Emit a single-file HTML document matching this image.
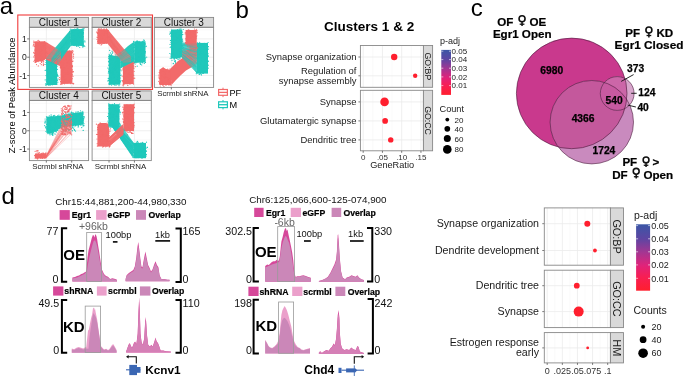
<!DOCTYPE html>
<html><head><meta charset="utf-8"><style>
html,body{margin:0;padding:0;background:#fff;}
svg{display:block;will-change:transform;font-family:"Liberation Sans", sans-serif;}
</style></head><body>
<svg width="685" height="379" viewBox="0 0 685 379">
<rect x="0" y="0" width="685" height="379" fill="#fff"/>
<text x="-0.30" y="13.90" font-size="24" text-anchor="start" font-weight="normal" fill="#000" >a</text>
<rect x="29.40" y="27.30" width="59.20" height="60.10" fill="#fff" stroke="none" stroke-width="1" />
<line x1="29.40" y1="84.65" x2="88.60" y2="84.65" stroke="#F3F3F3" stroke-width="0.5" />
<line x1="29.40" y1="66.35" x2="88.60" y2="66.35" stroke="#F3F3F3" stroke-width="0.5" />
<line x1="29.40" y1="48.05" x2="88.60" y2="48.05" stroke="#F3F3F3" stroke-width="0.5" />
<line x1="29.40" y1="29.75" x2="88.60" y2="29.75" stroke="#F3F3F3" stroke-width="0.5" />
<line x1="29.40" y1="75.50" x2="88.60" y2="75.50" stroke="#EBEBEB" stroke-width="0.8" />
<line x1="29.40" y1="57.20" x2="88.60" y2="57.20" stroke="#EBEBEB" stroke-width="0.8" />
<line x1="29.40" y1="38.90" x2="88.60" y2="38.90" stroke="#EBEBEB" stroke-width="0.8" />
<line x1="46.33" y1="27.30" x2="46.33" y2="87.40" stroke="#EBEBEB" stroke-width="0.8" />
<line x1="71.73" y1="27.30" x2="71.73" y2="87.40" stroke="#EBEBEB" stroke-width="0.8" />
<rect x="92.10" y="27.30" width="59.20" height="60.10" fill="#fff" stroke="none" stroke-width="1" />
<line x1="92.10" y1="84.65" x2="151.30" y2="84.65" stroke="#F3F3F3" stroke-width="0.5" />
<line x1="92.10" y1="66.35" x2="151.30" y2="66.35" stroke="#F3F3F3" stroke-width="0.5" />
<line x1="92.10" y1="48.05" x2="151.30" y2="48.05" stroke="#F3F3F3" stroke-width="0.5" />
<line x1="92.10" y1="29.75" x2="151.30" y2="29.75" stroke="#F3F3F3" stroke-width="0.5" />
<line x1="92.10" y1="75.50" x2="151.30" y2="75.50" stroke="#EBEBEB" stroke-width="0.8" />
<line x1="92.10" y1="57.20" x2="151.30" y2="57.20" stroke="#EBEBEB" stroke-width="0.8" />
<line x1="92.10" y1="38.90" x2="151.30" y2="38.90" stroke="#EBEBEB" stroke-width="0.8" />
<line x1="109.03" y1="27.30" x2="109.03" y2="87.40" stroke="#EBEBEB" stroke-width="0.8" />
<line x1="134.43" y1="27.30" x2="134.43" y2="87.40" stroke="#EBEBEB" stroke-width="0.8" />
<rect x="154.40" y="27.30" width="59.20" height="60.10" fill="#fff" stroke="none" stroke-width="1" />
<line x1="154.40" y1="84.65" x2="213.60" y2="84.65" stroke="#F3F3F3" stroke-width="0.5" />
<line x1="154.40" y1="66.35" x2="213.60" y2="66.35" stroke="#F3F3F3" stroke-width="0.5" />
<line x1="154.40" y1="48.05" x2="213.60" y2="48.05" stroke="#F3F3F3" stroke-width="0.5" />
<line x1="154.40" y1="29.75" x2="213.60" y2="29.75" stroke="#F3F3F3" stroke-width="0.5" />
<line x1="154.40" y1="75.50" x2="213.60" y2="75.50" stroke="#EBEBEB" stroke-width="0.8" />
<line x1="154.40" y1="57.20" x2="213.60" y2="57.20" stroke="#EBEBEB" stroke-width="0.8" />
<line x1="154.40" y1="38.90" x2="213.60" y2="38.90" stroke="#EBEBEB" stroke-width="0.8" />
<line x1="171.33" y1="27.30" x2="171.33" y2="87.40" stroke="#EBEBEB" stroke-width="0.8" />
<line x1="196.73" y1="27.30" x2="196.73" y2="87.40" stroke="#EBEBEB" stroke-width="0.8" />
<rect x="29.40" y="100.40" width="59.20" height="60.20" fill="#fff" stroke="none" stroke-width="1" />
<line x1="29.40" y1="158.20" x2="88.60" y2="158.20" stroke="#F3F3F3" stroke-width="0.5" />
<line x1="29.40" y1="139.90" x2="88.60" y2="139.90" stroke="#F3F3F3" stroke-width="0.5" />
<line x1="29.40" y1="121.60" x2="88.60" y2="121.60" stroke="#F3F3F3" stroke-width="0.5" />
<line x1="29.40" y1="103.30" x2="88.60" y2="103.30" stroke="#F3F3F3" stroke-width="0.5" />
<line x1="29.40" y1="149.05" x2="88.60" y2="149.05" stroke="#EBEBEB" stroke-width="0.8" />
<line x1="29.40" y1="130.75" x2="88.60" y2="130.75" stroke="#EBEBEB" stroke-width="0.8" />
<line x1="29.40" y1="112.45" x2="88.60" y2="112.45" stroke="#EBEBEB" stroke-width="0.8" />
<line x1="46.33" y1="100.40" x2="46.33" y2="160.60" stroke="#EBEBEB" stroke-width="0.8" />
<line x1="71.73" y1="100.40" x2="71.73" y2="160.60" stroke="#EBEBEB" stroke-width="0.8" />
<rect x="92.10" y="100.40" width="59.20" height="60.20" fill="#fff" stroke="none" stroke-width="1" />
<line x1="92.10" y1="158.20" x2="151.30" y2="158.20" stroke="#F3F3F3" stroke-width="0.5" />
<line x1="92.10" y1="139.90" x2="151.30" y2="139.90" stroke="#F3F3F3" stroke-width="0.5" />
<line x1="92.10" y1="121.60" x2="151.30" y2="121.60" stroke="#F3F3F3" stroke-width="0.5" />
<line x1="92.10" y1="103.30" x2="151.30" y2="103.30" stroke="#F3F3F3" stroke-width="0.5" />
<line x1="92.10" y1="149.05" x2="151.30" y2="149.05" stroke="#EBEBEB" stroke-width="0.8" />
<line x1="92.10" y1="130.75" x2="151.30" y2="130.75" stroke="#EBEBEB" stroke-width="0.8" />
<line x1="92.10" y1="112.45" x2="151.30" y2="112.45" stroke="#EBEBEB" stroke-width="0.8" />
<line x1="109.03" y1="100.40" x2="109.03" y2="160.60" stroke="#EBEBEB" stroke-width="0.8" />
<line x1="134.43" y1="100.40" x2="134.43" y2="160.60" stroke="#EBEBEB" stroke-width="0.8" />
<polygon points="34.60,41.60 44.80,41.20 46.20,43.00 46.20,58.50 44.00,60.50 42.00,61.50 38.80,61.20 36.50,62.50 34.90,63.20 34.50,58.00" fill="#F26A6A" />
<g fill="#F26A6A"><circle cx="37.7" cy="43.4" r="0.6"/><circle cx="34.0" cy="53.1" r="0.6"/><circle cx="33.8" cy="52.4" r="0.6"/><circle cx="39.4" cy="41.4" r="0.6"/><circle cx="39.2" cy="60.4" r="0.6"/><circle cx="36.2" cy="55.4" r="0.6"/><circle cx="41.5" cy="49.6" r="0.6"/><circle cx="35.0" cy="42.6" r="0.6"/><circle cx="45.1" cy="44.2" r="0.6"/><circle cx="42.4" cy="49.0" r="0.6"/><circle cx="33.8" cy="41.1" r="0.6"/><circle cx="43.0" cy="50.4" r="0.6"/><circle cx="41.6" cy="51.0" r="0.6"/><circle cx="44.7" cy="57.2" r="0.6"/><circle cx="41.5" cy="52.8" r="0.6"/><circle cx="43.8" cy="46.9" r="0.6"/><circle cx="34.7" cy="50.1" r="0.6"/><circle cx="35.2" cy="51.9" r="0.6"/><circle cx="42.9" cy="58.9" r="0.6"/><circle cx="45.9" cy="47.5" r="0.6"/><circle cx="41.8" cy="54.2" r="0.6"/><circle cx="40.0" cy="56.3" r="0.6"/><circle cx="43.4" cy="55.9" r="0.6"/><circle cx="45.1" cy="46.8" r="0.6"/><circle cx="35.4" cy="42.6" r="0.6"/><circle cx="44.3" cy="42.9" r="0.6"/><circle cx="38.7" cy="61.6" r="0.6"/><circle cx="39.6" cy="53.4" r="0.6"/><circle cx="39.1" cy="48.6" r="0.6"/><circle cx="47.2" cy="43.4" r="0.6"/><circle cx="36.4" cy="45.5" r="0.6"/><circle cx="41.7" cy="46.2" r="0.6"/><circle cx="39.1" cy="48.9" r="0.6"/><circle cx="42.1" cy="56.6" r="0.6"/><circle cx="44.8" cy="49.5" r="0.6"/><circle cx="34.4" cy="55.6" r="0.6"/><circle cx="33.9" cy="44.9" r="0.6"/><circle cx="38.0" cy="40.9" r="0.6"/><circle cx="35.2" cy="42.2" r="0.6"/><circle cx="35.1" cy="46.0" r="0.6"/><circle cx="38.3" cy="42.7" r="0.6"/><circle cx="34.2" cy="42.2" r="0.6"/><circle cx="36.8" cy="60.5" r="0.6"/><circle cx="40.8" cy="43.3" r="0.6"/><circle cx="45.8" cy="57.1" r="0.6"/><circle cx="38.4" cy="43.8" r="0.6"/><circle cx="40.8" cy="59.2" r="0.6"/><circle cx="36.2" cy="60.1" r="0.6"/><circle cx="43.9" cy="45.3" r="0.6"/><circle cx="38.2" cy="40.3" r="0.6"/><circle cx="37.1" cy="46.1" r="0.6"/><circle cx="38.3" cy="45.2" r="0.6"/><circle cx="35.8" cy="44.8" r="0.6"/><circle cx="40.0" cy="56.1" r="0.6"/><circle cx="44.6" cy="58.5" r="0.6"/><circle cx="35.6" cy="59.5" r="0.6"/><circle cx="38.8" cy="49.7" r="0.6"/><circle cx="43.7" cy="43.9" r="0.6"/><circle cx="35.2" cy="62.4" r="0.6"/><circle cx="35.1" cy="60.4" r="0.6"/><circle cx="42.7" cy="48.4" r="0.6"/><circle cx="45.2" cy="44.9" r="0.6"/><circle cx="37.3" cy="45.7" r="0.6"/><circle cx="36.8" cy="50.2" r="0.6"/><circle cx="46.5" cy="48.5" r="0.6"/><circle cx="41.6" cy="62.4" r="0.6"/><circle cx="46.6" cy="52.2" r="0.6"/><circle cx="44.8" cy="43.9" r="0.6"/><circle cx="43.7" cy="53.6" r="0.6"/><circle cx="40.6" cy="53.6" r="0.6"/><circle cx="34.5" cy="53.7" r="0.6"/><circle cx="37.0" cy="59.1" r="0.6"/><circle cx="41.3" cy="58.8" r="0.6"/><circle cx="39.5" cy="55.0" r="0.6"/><circle cx="40.5" cy="57.1" r="0.6"/><circle cx="40.8" cy="51.6" r="0.6"/><circle cx="36.8" cy="53.7" r="0.6"/><circle cx="45.4" cy="43.1" r="0.6"/><circle cx="39.5" cy="41.4" r="0.6"/><circle cx="46.3" cy="43.5" r="0.6"/><circle cx="42.7" cy="43.2" r="0.6"/><circle cx="38.8" cy="51.9" r="0.6"/><circle cx="45.3" cy="43.7" r="0.6"/><circle cx="40.6" cy="48.1" r="0.6"/><circle cx="37.6" cy="57.8" r="0.6"/><circle cx="41.2" cy="50.7" r="0.6"/><circle cx="37.8" cy="55.3" r="0.6"/><circle cx="34.5" cy="46.3" r="0.6"/><circle cx="44.5" cy="46.4" r="0.6"/><circle cx="36.8" cy="43.4" r="0.6"/><circle cx="41.4" cy="57.3" r="0.6"/><circle cx="33.8" cy="56.9" r="0.6"/><circle cx="44.8" cy="41.7" r="0.6"/><circle cx="33.9" cy="61.3" r="0.6"/><circle cx="38.0" cy="53.5" r="0.6"/><circle cx="36.9" cy="42.9" r="0.6"/><circle cx="36.5" cy="42.4" r="0.6"/><circle cx="33.7" cy="44.7" r="0.6"/><circle cx="37.4" cy="58.7" r="0.6"/><circle cx="40.4" cy="44.1" r="0.6"/><circle cx="33.2" cy="45.9" r="0.6"/><circle cx="43.8" cy="53.5" r="0.6"/><circle cx="34.5" cy="60.2" r="0.6"/><circle cx="40.3" cy="60.6" r="0.6"/><circle cx="40.4" cy="56.9" r="0.6"/><circle cx="38.0" cy="60.6" r="0.6"/><circle cx="42.4" cy="49.8" r="0.6"/><circle cx="33.7" cy="42.9" r="0.6"/><circle cx="43.9" cy="46.0" r="0.6"/><circle cx="42.9" cy="46.7" r="0.6"/><circle cx="37.3" cy="51.2" r="0.6"/><circle cx="39.5" cy="46.2" r="0.6"/><circle cx="47.4" cy="53.4" r="0.6"/><circle cx="40.0" cy="52.3" r="0.6"/><circle cx="36.8" cy="41.9" r="0.6"/><circle cx="37.4" cy="45.5" r="0.6"/><circle cx="40.8" cy="58.5" r="0.6"/><circle cx="43.6" cy="61.8" r="0.6"/></g>
<g fill="#F26A6A" opacity="1.0"><circle cx="38.3" cy="65.9" r="0.6"/><circle cx="36.5" cy="64.6" r="0.6"/><circle cx="41.4" cy="61.2" r="0.6"/><circle cx="43.4" cy="65.5" r="0.6"/><circle cx="41.3" cy="64.7" r="0.6"/><circle cx="43.1" cy="61.7" r="0.6"/><circle cx="40.2" cy="63.5" r="0.6"/><circle cx="43.3" cy="65.0" r="0.6"/><circle cx="43.3" cy="63.9" r="0.6"/><circle cx="43.9" cy="64.4" r="0.6"/></g>
<polygon points="60.40,50.80 72.20,50.60 72.40,83.80 60.60,84.00" fill="#F26A6A" />
<g fill="#F26A6A"><circle cx="69.3" cy="57.4" r="0.6"/><circle cx="60.8" cy="62.2" r="0.6"/><circle cx="71.5" cy="69.4" r="0.6"/><circle cx="68.3" cy="73.9" r="0.6"/><circle cx="70.2" cy="67.4" r="0.6"/><circle cx="68.8" cy="51.4" r="0.6"/><circle cx="62.6" cy="51.7" r="0.6"/><circle cx="69.9" cy="56.5" r="0.6"/><circle cx="66.1" cy="74.0" r="0.6"/><circle cx="68.2" cy="72.5" r="0.6"/><circle cx="61.0" cy="58.3" r="0.6"/><circle cx="63.4" cy="69.8" r="0.6"/><circle cx="69.3" cy="73.7" r="0.6"/><circle cx="66.7" cy="66.0" r="0.6"/><circle cx="60.6" cy="81.7" r="0.6"/><circle cx="73.7" cy="83.3" r="0.6"/><circle cx="65.8" cy="79.0" r="0.6"/><circle cx="65.6" cy="58.8" r="0.6"/><circle cx="61.0" cy="68.2" r="0.6"/><circle cx="60.8" cy="79.0" r="0.6"/><circle cx="72.3" cy="74.7" r="0.6"/><circle cx="72.4" cy="66.8" r="0.6"/><circle cx="65.7" cy="60.1" r="0.6"/><circle cx="64.0" cy="60.6" r="0.6"/><circle cx="71.6" cy="53.4" r="0.6"/><circle cx="69.6" cy="82.0" r="0.6"/><circle cx="64.5" cy="63.4" r="0.6"/><circle cx="67.8" cy="62.2" r="0.6"/><circle cx="63.0" cy="50.8" r="0.6"/><circle cx="71.5" cy="59.5" r="0.6"/><circle cx="62.6" cy="58.7" r="0.6"/><circle cx="61.7" cy="62.7" r="0.6"/><circle cx="72.2" cy="78.7" r="0.6"/><circle cx="72.7" cy="83.4" r="0.6"/><circle cx="69.7" cy="50.8" r="0.6"/><circle cx="65.7" cy="76.5" r="0.6"/><circle cx="63.2" cy="50.8" r="0.6"/><circle cx="60.7" cy="66.3" r="0.6"/><circle cx="63.3" cy="76.0" r="0.6"/><circle cx="62.8" cy="73.0" r="0.6"/><circle cx="67.3" cy="63.4" r="0.6"/><circle cx="61.3" cy="56.6" r="0.6"/><circle cx="66.4" cy="57.1" r="0.6"/><circle cx="60.9" cy="56.0" r="0.6"/><circle cx="64.0" cy="52.3" r="0.6"/><circle cx="62.7" cy="69.8" r="0.6"/><circle cx="70.2" cy="64.1" r="0.6"/><circle cx="66.8" cy="62.8" r="0.6"/><circle cx="60.7" cy="67.4" r="0.6"/><circle cx="71.9" cy="56.9" r="0.6"/><circle cx="62.6" cy="63.6" r="0.6"/><circle cx="72.4" cy="66.3" r="0.6"/><circle cx="73.6" cy="58.1" r="0.6"/><circle cx="61.1" cy="68.1" r="0.6"/><circle cx="70.4" cy="65.7" r="0.6"/><circle cx="59.4" cy="77.6" r="0.6"/><circle cx="72.8" cy="72.6" r="0.6"/><circle cx="60.7" cy="58.2" r="0.6"/><circle cx="69.4" cy="53.1" r="0.6"/><circle cx="66.8" cy="70.3" r="0.6"/><circle cx="62.2" cy="71.0" r="0.6"/><circle cx="63.4" cy="65.9" r="0.6"/><circle cx="68.6" cy="81.3" r="0.6"/><circle cx="62.4" cy="58.0" r="0.6"/><circle cx="69.5" cy="60.3" r="0.6"/><circle cx="66.4" cy="73.7" r="0.6"/><circle cx="62.7" cy="73.4" r="0.6"/><circle cx="62.2" cy="50.2" r="0.6"/><circle cx="65.2" cy="74.0" r="0.6"/><circle cx="70.9" cy="76.1" r="0.6"/><circle cx="61.9" cy="84.5" r="0.6"/><circle cx="71.3" cy="57.4" r="0.6"/><circle cx="70.4" cy="59.8" r="0.6"/><circle cx="66.3" cy="55.9" r="0.6"/><circle cx="65.1" cy="73.3" r="0.6"/><circle cx="61.0" cy="63.4" r="0.6"/><circle cx="73.6" cy="54.2" r="0.6"/><circle cx="72.2" cy="75.8" r="0.6"/><circle cx="73.0" cy="61.1" r="0.6"/><circle cx="73.0" cy="76.3" r="0.6"/><circle cx="68.9" cy="62.9" r="0.6"/><circle cx="63.8" cy="55.2" r="0.6"/><circle cx="63.1" cy="61.9" r="0.6"/><circle cx="60.7" cy="84.3" r="0.6"/><circle cx="64.2" cy="79.1" r="0.6"/><circle cx="65.4" cy="50.8" r="0.6"/><circle cx="64.5" cy="82.7" r="0.6"/><circle cx="64.3" cy="81.8" r="0.6"/><circle cx="65.0" cy="78.7" r="0.6"/><circle cx="59.4" cy="50.3" r="0.6"/><circle cx="72.5" cy="61.4" r="0.6"/><circle cx="73.4" cy="71.6" r="0.6"/><circle cx="69.7" cy="60.6" r="0.6"/><circle cx="73.3" cy="83.9" r="0.6"/><circle cx="62.6" cy="64.7" r="0.6"/><circle cx="70.0" cy="79.1" r="0.6"/><circle cx="68.0" cy="61.0" r="0.6"/><circle cx="64.3" cy="77.6" r="0.6"/><circle cx="61.8" cy="76.6" r="0.6"/><circle cx="60.3" cy="67.2" r="0.6"/><circle cx="65.6" cy="57.6" r="0.6"/><circle cx="68.2" cy="73.7" r="0.6"/><circle cx="71.7" cy="73.3" r="0.6"/><circle cx="71.6" cy="59.8" r="0.6"/><circle cx="64.5" cy="76.0" r="0.6"/><circle cx="62.6" cy="58.0" r="0.6"/><circle cx="72.2" cy="70.2" r="0.6"/><circle cx="62.3" cy="78.6" r="0.6"/><circle cx="66.0" cy="79.0" r="0.6"/><circle cx="72.7" cy="50.5" r="0.6"/><circle cx="60.6" cy="55.9" r="0.6"/><circle cx="67.7" cy="83.0" r="0.6"/><circle cx="72.0" cy="65.4" r="0.6"/><circle cx="70.6" cy="83.6" r="0.6"/><circle cx="67.9" cy="71.7" r="0.6"/><circle cx="64.4" cy="54.2" r="0.6"/><circle cx="62.7" cy="70.9" r="0.6"/><circle cx="69.1" cy="55.8" r="0.6"/><circle cx="61.9" cy="78.1" r="0.6"/><circle cx="59.8" cy="52.7" r="0.6"/><circle cx="67.2" cy="72.4" r="0.6"/><circle cx="61.3" cy="74.5" r="0.6"/><circle cx="63.1" cy="60.3" r="0.6"/><circle cx="63.5" cy="69.7" r="0.6"/><circle cx="65.1" cy="80.6" r="0.6"/><circle cx="64.3" cy="56.2" r="0.6"/><circle cx="65.2" cy="79.0" r="0.6"/><circle cx="72.2" cy="65.9" r="0.6"/><circle cx="72.6" cy="52.3" r="0.6"/><circle cx="64.4" cy="67.5" r="0.6"/><circle cx="63.1" cy="68.1" r="0.6"/><circle cx="60.5" cy="67.0" r="0.6"/><circle cx="73.5" cy="56.2" r="0.6"/><circle cx="72.5" cy="71.7" r="0.6"/><circle cx="61.2" cy="77.8" r="0.6"/><circle cx="64.9" cy="80.0" r="0.6"/><circle cx="61.6" cy="57.0" r="0.6"/><circle cx="66.7" cy="63.0" r="0.6"/><circle cx="62.6" cy="75.5" r="0.6"/><circle cx="59.4" cy="79.7" r="0.6"/><circle cx="67.9" cy="69.1" r="0.6"/><circle cx="63.5" cy="64.4" r="0.6"/><circle cx="65.3" cy="73.1" r="0.6"/><circle cx="66.2" cy="57.6" r="0.6"/><circle cx="70.7" cy="65.8" r="0.6"/><circle cx="66.0" cy="52.9" r="0.6"/><circle cx="65.3" cy="52.4" r="0.6"/><circle cx="66.6" cy="50.5" r="0.6"/><circle cx="66.6" cy="51.0" r="0.6"/><circle cx="64.5" cy="83.8" r="0.6"/><circle cx="69.9" cy="78.8" r="0.6"/><circle cx="72.9" cy="51.4" r="0.6"/><circle cx="70.3" cy="54.8" r="0.6"/><circle cx="63.0" cy="78.9" r="0.6"/><circle cx="66.4" cy="82.7" r="0.6"/><circle cx="62.8" cy="67.5" r="0.6"/><circle cx="59.4" cy="55.7" r="0.6"/><circle cx="61.4" cy="77.7" r="0.6"/><circle cx="66.9" cy="72.3" r="0.6"/><circle cx="72.1" cy="69.3" r="0.6"/><circle cx="72.2" cy="52.8" r="0.6"/><circle cx="68.4" cy="63.4" r="0.6"/><circle cx="64.3" cy="77.0" r="0.6"/><circle cx="61.5" cy="76.2" r="0.6"/><circle cx="71.3" cy="58.3" r="0.6"/><circle cx="65.4" cy="67.8" r="0.6"/><circle cx="60.8" cy="57.3" r="0.6"/><circle cx="64.2" cy="52.9" r="0.6"/></g>
<polygon points="46.00,58.00 57.00,57.80 57.20,85.00 46.20,85.00" fill="#20C8BB" />
<g fill="#20C8BB"><circle cx="47.6" cy="73.9" r="0.6"/><circle cx="47.3" cy="75.2" r="0.6"/><circle cx="46.3" cy="84.7" r="0.6"/><circle cx="46.6" cy="59.1" r="0.6"/><circle cx="56.9" cy="80.0" r="0.6"/><circle cx="52.5" cy="66.9" r="0.6"/><circle cx="50.8" cy="84.7" r="0.6"/><circle cx="48.0" cy="83.7" r="0.6"/><circle cx="52.1" cy="68.5" r="0.6"/><circle cx="45.2" cy="79.9" r="0.6"/><circle cx="52.3" cy="84.8" r="0.6"/><circle cx="47.3" cy="74.7" r="0.6"/><circle cx="53.6" cy="80.9" r="0.6"/><circle cx="48.9" cy="65.3" r="0.6"/><circle cx="57.2" cy="80.0" r="0.6"/><circle cx="55.1" cy="70.3" r="0.6"/><circle cx="50.9" cy="63.1" r="0.6"/><circle cx="47.7" cy="57.4" r="0.6"/><circle cx="55.2" cy="77.3" r="0.6"/><circle cx="54.6" cy="64.3" r="0.6"/><circle cx="50.7" cy="80.2" r="0.6"/><circle cx="48.2" cy="75.7" r="0.6"/><circle cx="47.5" cy="83.0" r="0.6"/><circle cx="48.1" cy="63.4" r="0.6"/><circle cx="58.0" cy="78.9" r="0.6"/><circle cx="57.1" cy="66.2" r="0.6"/><circle cx="57.5" cy="75.4" r="0.6"/><circle cx="56.5" cy="77.4" r="0.6"/><circle cx="50.7" cy="78.2" r="0.6"/><circle cx="48.8" cy="62.6" r="0.6"/><circle cx="45.5" cy="83.9" r="0.6"/><circle cx="49.4" cy="60.5" r="0.6"/><circle cx="54.4" cy="78.6" r="0.6"/><circle cx="52.9" cy="67.2" r="0.6"/><circle cx="56.2" cy="83.3" r="0.6"/><circle cx="56.9" cy="84.0" r="0.6"/><circle cx="45.9" cy="62.5" r="0.6"/><circle cx="53.5" cy="81.3" r="0.6"/><circle cx="48.5" cy="59.2" r="0.6"/><circle cx="55.3" cy="62.4" r="0.6"/><circle cx="50.5" cy="56.8" r="0.6"/><circle cx="48.5" cy="78.0" r="0.6"/><circle cx="49.0" cy="85.5" r="0.6"/><circle cx="56.7" cy="75.0" r="0.6"/><circle cx="50.3" cy="69.5" r="0.6"/><circle cx="49.4" cy="77.6" r="0.6"/><circle cx="47.5" cy="82.4" r="0.6"/><circle cx="56.2" cy="61.4" r="0.6"/><circle cx="47.3" cy="79.4" r="0.6"/><circle cx="51.5" cy="80.4" r="0.6"/><circle cx="51.5" cy="66.8" r="0.6"/><circle cx="48.2" cy="84.9" r="0.6"/><circle cx="47.5" cy="77.5" r="0.6"/><circle cx="46.0" cy="75.6" r="0.6"/><circle cx="55.7" cy="77.4" r="0.6"/><circle cx="53.4" cy="67.0" r="0.6"/><circle cx="50.1" cy="83.3" r="0.6"/><circle cx="57.2" cy="57.0" r="0.6"/><circle cx="48.2" cy="83.6" r="0.6"/><circle cx="49.9" cy="83.1" r="0.6"/><circle cx="51.0" cy="72.4" r="0.6"/><circle cx="55.2" cy="75.8" r="0.6"/><circle cx="49.1" cy="60.9" r="0.6"/><circle cx="53.9" cy="78.8" r="0.6"/><circle cx="50.7" cy="79.7" r="0.6"/><circle cx="46.2" cy="70.2" r="0.6"/><circle cx="47.8" cy="62.0" r="0.6"/><circle cx="54.5" cy="81.8" r="0.6"/><circle cx="46.6" cy="63.7" r="0.6"/><circle cx="51.9" cy="61.1" r="0.6"/><circle cx="45.9" cy="85.5" r="0.6"/><circle cx="55.0" cy="69.4" r="0.6"/><circle cx="53.6" cy="59.4" r="0.6"/><circle cx="50.0" cy="57.2" r="0.6"/><circle cx="55.8" cy="77.3" r="0.6"/><circle cx="53.5" cy="70.3" r="0.6"/><circle cx="53.1" cy="68.5" r="0.6"/><circle cx="57.5" cy="69.3" r="0.6"/><circle cx="55.2" cy="69.0" r="0.6"/><circle cx="54.8" cy="83.0" r="0.6"/><circle cx="54.5" cy="82.1" r="0.6"/><circle cx="53.6" cy="70.0" r="0.6"/><circle cx="53.4" cy="59.2" r="0.6"/><circle cx="55.7" cy="77.9" r="0.6"/><circle cx="48.0" cy="69.1" r="0.6"/><circle cx="53.4" cy="68.6" r="0.6"/><circle cx="55.6" cy="68.0" r="0.6"/><circle cx="46.7" cy="80.0" r="0.6"/><circle cx="51.9" cy="59.3" r="0.6"/><circle cx="52.2" cy="78.0" r="0.6"/><circle cx="53.6" cy="81.4" r="0.6"/><circle cx="50.3" cy="85.0" r="0.6"/><circle cx="54.3" cy="68.1" r="0.6"/><circle cx="45.2" cy="64.5" r="0.6"/><circle cx="54.5" cy="66.9" r="0.6"/><circle cx="47.6" cy="78.7" r="0.6"/><circle cx="52.0" cy="62.9" r="0.6"/><circle cx="50.0" cy="62.6" r="0.6"/><circle cx="55.6" cy="80.8" r="0.6"/><circle cx="51.2" cy="73.3" r="0.6"/><circle cx="56.2" cy="81.0" r="0.6"/><circle cx="48.6" cy="72.9" r="0.6"/><circle cx="56.4" cy="67.0" r="0.6"/><circle cx="48.3" cy="67.6" r="0.6"/><circle cx="50.5" cy="61.9" r="0.6"/><circle cx="54.8" cy="64.7" r="0.6"/><circle cx="48.7" cy="70.8" r="0.6"/><circle cx="53.6" cy="76.2" r="0.6"/><circle cx="57.8" cy="82.2" r="0.6"/><circle cx="56.3" cy="83.7" r="0.6"/><circle cx="46.4" cy="81.5" r="0.6"/><circle cx="58.1" cy="76.1" r="0.6"/><circle cx="45.9" cy="60.5" r="0.6"/><circle cx="55.6" cy="66.7" r="0.6"/><circle cx="57.4" cy="80.3" r="0.6"/><circle cx="57.2" cy="74.7" r="0.6"/><circle cx="54.0" cy="83.4" r="0.6"/><circle cx="56.5" cy="62.2" r="0.6"/><circle cx="52.0" cy="78.8" r="0.6"/><circle cx="57.1" cy="73.1" r="0.6"/><circle cx="47.8" cy="60.4" r="0.6"/><circle cx="45.2" cy="70.4" r="0.6"/><circle cx="51.5" cy="71.3" r="0.6"/><circle cx="51.1" cy="73.3" r="0.6"/><circle cx="56.5" cy="67.6" r="0.6"/><circle cx="54.2" cy="84.5" r="0.6"/><circle cx="53.4" cy="66.5" r="0.6"/><circle cx="49.7" cy="70.6" r="0.6"/><circle cx="55.5" cy="62.6" r="0.6"/><circle cx="50.5" cy="73.0" r="0.6"/><circle cx="48.6" cy="81.4" r="0.6"/><circle cx="51.7" cy="64.5" r="0.6"/><circle cx="49.2" cy="65.8" r="0.6"/><circle cx="52.8" cy="75.5" r="0.6"/><circle cx="52.3" cy="57.7" r="0.6"/><circle cx="53.2" cy="76.2" r="0.6"/><circle cx="57.5" cy="74.8" r="0.6"/><circle cx="53.4" cy="77.4" r="0.6"/><circle cx="54.2" cy="62.7" r="0.6"/><circle cx="51.0" cy="79.4" r="0.6"/><circle cx="57.6" cy="76.1" r="0.6"/><circle cx="56.2" cy="80.1" r="0.6"/><circle cx="48.1" cy="65.4" r="0.6"/></g>
<polygon points="70.60,29.30 83.70,28.90 83.90,46.00 70.60,45.70" fill="#20C8BB" />
<g fill="#20C8BB"><circle cx="74.3" cy="36.0" r="0.6"/><circle cx="78.5" cy="45.9" r="0.6"/><circle cx="75.8" cy="29.4" r="0.6"/><circle cx="72.5" cy="30.4" r="0.6"/><circle cx="80.9" cy="32.2" r="0.6"/><circle cx="80.8" cy="44.7" r="0.6"/><circle cx="70.4" cy="40.1" r="0.6"/><circle cx="76.6" cy="46.2" r="0.6"/><circle cx="84.9" cy="41.9" r="0.6"/><circle cx="70.3" cy="33.6" r="0.6"/><circle cx="71.7" cy="44.8" r="0.6"/><circle cx="70.0" cy="34.8" r="0.6"/><circle cx="76.2" cy="41.0" r="0.6"/><circle cx="82.2" cy="34.7" r="0.6"/><circle cx="79.4" cy="35.8" r="0.6"/><circle cx="78.4" cy="33.2" r="0.6"/><circle cx="74.5" cy="39.6" r="0.6"/><circle cx="82.7" cy="39.5" r="0.6"/><circle cx="76.1" cy="45.3" r="0.6"/><circle cx="80.3" cy="39.5" r="0.6"/><circle cx="82.3" cy="33.1" r="0.6"/><circle cx="73.3" cy="35.9" r="0.6"/><circle cx="82.5" cy="45.3" r="0.6"/><circle cx="82.7" cy="43.8" r="0.6"/><circle cx="78.4" cy="32.9" r="0.6"/><circle cx="82.3" cy="41.2" r="0.6"/><circle cx="74.7" cy="29.0" r="0.6"/><circle cx="82.2" cy="31.4" r="0.6"/><circle cx="80.2" cy="36.7" r="0.6"/><circle cx="73.2" cy="42.5" r="0.6"/><circle cx="76.6" cy="29.1" r="0.6"/><circle cx="81.7" cy="32.0" r="0.6"/><circle cx="83.8" cy="45.3" r="0.6"/><circle cx="76.9" cy="39.3" r="0.6"/><circle cx="72.2" cy="31.0" r="0.6"/><circle cx="75.0" cy="38.8" r="0.6"/><circle cx="77.5" cy="30.3" r="0.6"/><circle cx="70.8" cy="40.1" r="0.6"/><circle cx="71.6" cy="39.4" r="0.6"/><circle cx="77.6" cy="27.7" r="0.6"/><circle cx="78.4" cy="32.6" r="0.6"/><circle cx="82.5" cy="46.9" r="0.6"/><circle cx="69.6" cy="31.4" r="0.6"/><circle cx="83.4" cy="36.6" r="0.6"/><circle cx="84.0" cy="28.6" r="0.6"/><circle cx="75.6" cy="29.7" r="0.6"/><circle cx="73.2" cy="38.8" r="0.6"/><circle cx="84.8" cy="40.9" r="0.6"/><circle cx="76.4" cy="30.5" r="0.6"/><circle cx="69.6" cy="32.5" r="0.6"/><circle cx="83.9" cy="45.7" r="0.6"/><circle cx="79.7" cy="47.3" r="0.6"/><circle cx="71.4" cy="42.6" r="0.6"/><circle cx="80.2" cy="33.4" r="0.6"/><circle cx="81.5" cy="29.4" r="0.6"/><circle cx="73.2" cy="29.8" r="0.6"/><circle cx="71.8" cy="32.1" r="0.6"/><circle cx="83.7" cy="30.1" r="0.6"/><circle cx="79.4" cy="36.5" r="0.6"/><circle cx="82.6" cy="37.0" r="0.6"/><circle cx="71.4" cy="31.8" r="0.6"/><circle cx="80.8" cy="38.5" r="0.6"/><circle cx="83.4" cy="32.7" r="0.6"/><circle cx="71.6" cy="32.8" r="0.6"/><circle cx="74.5" cy="30.7" r="0.6"/><circle cx="74.2" cy="45.6" r="0.6"/><circle cx="80.0" cy="31.6" r="0.6"/><circle cx="73.7" cy="32.5" r="0.6"/><circle cx="73.8" cy="45.5" r="0.6"/><circle cx="81.0" cy="33.3" r="0.6"/><circle cx="82.7" cy="38.0" r="0.6"/><circle cx="76.2" cy="45.8" r="0.6"/><circle cx="78.4" cy="30.1" r="0.6"/><circle cx="81.7" cy="41.7" r="0.6"/><circle cx="70.3" cy="29.1" r="0.6"/><circle cx="77.2" cy="32.9" r="0.6"/><circle cx="79.1" cy="41.7" r="0.6"/><circle cx="78.6" cy="31.4" r="0.6"/><circle cx="81.1" cy="35.6" r="0.6"/><circle cx="69.9" cy="43.8" r="0.6"/><circle cx="82.9" cy="44.8" r="0.6"/><circle cx="83.4" cy="32.7" r="0.6"/><circle cx="82.7" cy="34.8" r="0.6"/><circle cx="75.1" cy="39.4" r="0.6"/><circle cx="77.6" cy="36.3" r="0.6"/><circle cx="71.0" cy="41.8" r="0.6"/><circle cx="83.3" cy="33.8" r="0.6"/><circle cx="75.3" cy="42.6" r="0.6"/><circle cx="83.4" cy="46.7" r="0.6"/><circle cx="77.5" cy="38.1" r="0.6"/><circle cx="72.7" cy="31.0" r="0.6"/><circle cx="73.1" cy="43.9" r="0.6"/><circle cx="70.6" cy="41.5" r="0.6"/><circle cx="77.6" cy="41.6" r="0.6"/><circle cx="83.3" cy="41.9" r="0.6"/><circle cx="71.0" cy="37.3" r="0.6"/><circle cx="73.6" cy="29.8" r="0.6"/><circle cx="71.3" cy="39.3" r="0.6"/><circle cx="71.4" cy="38.9" r="0.6"/><circle cx="71.7" cy="44.1" r="0.6"/><circle cx="75.4" cy="35.8" r="0.6"/><circle cx="77.7" cy="35.3" r="0.6"/><circle cx="81.8" cy="34.2" r="0.6"/><circle cx="74.5" cy="36.1" r="0.6"/><circle cx="82.3" cy="45.8" r="0.6"/><circle cx="83.0" cy="28.4" r="0.6"/><circle cx="84.8" cy="46.3" r="0.6"/><circle cx="76.0" cy="40.1" r="0.6"/><circle cx="77.8" cy="28.7" r="0.6"/><circle cx="77.3" cy="27.7" r="0.6"/><circle cx="79.4" cy="43.7" r="0.6"/><circle cx="73.4" cy="41.1" r="0.6"/><circle cx="77.9" cy="46.1" r="0.6"/><circle cx="73.1" cy="37.9" r="0.6"/></g>
<polygon points="45.50,41.80 61.00,51.00 61.00,66.50 46.00,59.50" fill="#F26A6A" opacity="0.95"/>
<polygon points="46.00,58.60 70.80,29.60 70.80,45.80 57.20,65.30 57.20,58.00" fill="#20C8BB" opacity="0.95"/>
<polygon points="61.00,51.00 55.36,47.65 46.00,58.60 57.20,58.00 57.20,64.73 57.50,64.87 61.00,59.85 61.00,51.00" fill="#A2978F" opacity="0.9"/>
<path d="M45.5,58.6L61.0,65.4M45.5,52.4L61.0,61.8M45.5,46.7L61.0,52.9M45.5,44.3L61.0,53.5M45.5,47.0L61.0,55.5M45.5,52.7L61.0,61.3M45.5,45.5L61.0,53.6M45.5,50.2L61.0,56.3M45.5,45.9L61.0,52.6M45.5,48.2L61.0,56.3M45.5,51.7L61.0,58.1M45.5,55.5L61.0,63.1M45.5,57.2L61.0,63.9M45.5,54.9L61.0,62.6M45.5,58.8L61.0,65.8M45.5,53.8L61.0,60.4M45.5,56.4L61.0,60.7M45.5,50.3L61.0,58.0M45.5,58.0L61.0,66.5M45.5,52.3L61.0,62.8M45.5,52.0L61.0,57.0M45.5,48.6L61.0,58.5M45.5,54.7L61.0,61.7M45.5,47.6L61.0,57.8M45.5,50.7L61.0,57.6M45.5,52.1L61.0,60.3M45.5,58.1L61.0,63.7M45.5,45.6L61.0,57.4M45.5,42.2L61.0,53.5M45.5,55.5L61.0,63.7" stroke="#F26A6A" stroke-width="0.5" opacity="0.40" fill="none"/>
<path d="M51.5,61.9L71.0,35.2M51.5,62.4L71.0,39.0M51.5,62.9L71.0,39.7M51.5,62.1L71.0,38.6M51.5,64.8L71.0,43.0M51.5,60.7L71.0,35.5M51.5,59.6L71.0,30.5M51.5,59.2L71.0,36.4M51.5,63.8L71.0,45.6M51.5,60.4L71.0,34.3M51.5,59.7L71.0,34.0M51.5,65.0L71.0,45.6M51.5,61.2L71.0,36.8M51.5,60.5L71.0,33.2M51.5,62.8L71.0,41.1M51.5,62.7L71.0,42.2M51.5,62.2L71.0,38.2M51.5,59.2L71.0,32.2M51.5,61.9L71.0,39.3M51.5,58.6L71.0,30.0M51.5,63.2L71.0,40.5M51.5,64.4L71.0,45.0M51.5,61.4L71.0,36.5M51.5,64.7L71.0,45.4M51.5,60.1L71.0,38.1M51.5,64.3L71.0,45.2M51.5,62.4L71.0,41.5M51.5,61.0L71.0,35.5M51.5,60.5L71.0,36.3M51.5,59.6L71.0,31.2" stroke="#20C8BB" stroke-width="0.5" opacity="0.40" fill="none"/>
<polygon points="97.40,29.30 108.00,29.30 108.30,43.20 104.00,44.00 100.00,43.80 97.60,43.50" fill="#F26A6A" />
<g fill="#F26A6A"><circle cx="97.4" cy="37.3" r="0.6"/><circle cx="101.5" cy="28.9" r="0.6"/><circle cx="107.4" cy="34.0" r="0.6"/><circle cx="98.5" cy="32.8" r="0.6"/><circle cx="98.0" cy="40.3" r="0.6"/><circle cx="99.6" cy="42.6" r="0.6"/><circle cx="102.1" cy="42.7" r="0.6"/><circle cx="98.0" cy="34.0" r="0.6"/><circle cx="101.1" cy="44.9" r="0.6"/><circle cx="109.2" cy="36.7" r="0.6"/><circle cx="102.2" cy="30.0" r="0.6"/><circle cx="99.5" cy="43.8" r="0.6"/><circle cx="101.0" cy="32.1" r="0.6"/><circle cx="98.8" cy="43.3" r="0.6"/><circle cx="103.0" cy="37.4" r="0.6"/><circle cx="106.7" cy="34.6" r="0.6"/><circle cx="103.8" cy="33.3" r="0.6"/><circle cx="100.3" cy="39.6" r="0.6"/><circle cx="103.7" cy="34.2" r="0.6"/><circle cx="100.0" cy="28.9" r="0.6"/><circle cx="99.0" cy="30.0" r="0.6"/><circle cx="99.8" cy="34.9" r="0.6"/><circle cx="106.7" cy="43.5" r="0.6"/><circle cx="97.7" cy="32.6" r="0.6"/><circle cx="105.4" cy="39.6" r="0.6"/><circle cx="101.6" cy="39.5" r="0.6"/><circle cx="99.3" cy="42.9" r="0.6"/><circle cx="104.7" cy="31.0" r="0.6"/><circle cx="108.7" cy="40.8" r="0.6"/><circle cx="98.6" cy="33.1" r="0.6"/><circle cx="98.3" cy="42.7" r="0.6"/><circle cx="105.9" cy="32.3" r="0.6"/><circle cx="105.4" cy="33.9" r="0.6"/><circle cx="107.6" cy="41.6" r="0.6"/><circle cx="96.5" cy="32.1" r="0.6"/><circle cx="107.0" cy="31.5" r="0.6"/><circle cx="106.4" cy="29.2" r="0.6"/><circle cx="101.4" cy="41.1" r="0.6"/><circle cx="99.8" cy="29.3" r="0.6"/><circle cx="101.8" cy="44.3" r="0.6"/><circle cx="106.2" cy="42.6" r="0.6"/><circle cx="101.8" cy="36.9" r="0.6"/><circle cx="97.6" cy="41.3" r="0.6"/><circle cx="105.7" cy="42.1" r="0.6"/><circle cx="103.5" cy="32.2" r="0.6"/><circle cx="100.8" cy="35.1" r="0.6"/><circle cx="100.2" cy="30.1" r="0.6"/><circle cx="105.3" cy="32.0" r="0.6"/><circle cx="103.1" cy="35.7" r="0.6"/><circle cx="100.8" cy="33.1" r="0.6"/><circle cx="97.8" cy="37.8" r="0.6"/><circle cx="107.3" cy="37.5" r="0.6"/><circle cx="98.2" cy="39.6" r="0.6"/><circle cx="102.3" cy="41.4" r="0.6"/><circle cx="97.4" cy="32.9" r="0.6"/><circle cx="98.7" cy="28.8" r="0.6"/><circle cx="98.6" cy="40.3" r="0.6"/><circle cx="97.4" cy="33.5" r="0.6"/><circle cx="100.9" cy="30.7" r="0.6"/><circle cx="106.4" cy="29.2" r="0.6"/><circle cx="102.7" cy="35.5" r="0.6"/><circle cx="104.9" cy="38.9" r="0.6"/><circle cx="105.0" cy="32.2" r="0.6"/><circle cx="107.6" cy="33.0" r="0.6"/><circle cx="104.8" cy="42.8" r="0.6"/><circle cx="98.2" cy="41.7" r="0.6"/><circle cx="106.3" cy="33.5" r="0.6"/><circle cx="107.4" cy="33.4" r="0.6"/><circle cx="103.6" cy="34.3" r="0.6"/><circle cx="104.7" cy="42.4" r="0.6"/><circle cx="102.8" cy="30.5" r="0.6"/><circle cx="104.0" cy="29.1" r="0.6"/><circle cx="98.1" cy="35.6" r="0.6"/><circle cx="98.5" cy="40.6" r="0.6"/><circle cx="107.7" cy="43.0" r="0.6"/><circle cx="101.8" cy="32.8" r="0.6"/><circle cx="103.1" cy="35.2" r="0.6"/><circle cx="102.0" cy="39.6" r="0.6"/><circle cx="108.5" cy="30.6" r="0.6"/><circle cx="102.0" cy="37.8" r="0.6"/><circle cx="98.6" cy="29.2" r="0.6"/><circle cx="100.0" cy="37.9" r="0.6"/><circle cx="102.6" cy="39.3" r="0.6"/><circle cx="100.6" cy="43.5" r="0.6"/><circle cx="98.5" cy="39.8" r="0.6"/><circle cx="97.0" cy="39.5" r="0.6"/><circle cx="104.0" cy="35.2" r="0.6"/><circle cx="103.8" cy="34.8" r="0.6"/><circle cx="98.3" cy="43.6" r="0.6"/><circle cx="97.4" cy="43.1" r="0.6"/><circle cx="97.1" cy="37.2" r="0.6"/><circle cx="102.7" cy="37.6" r="0.6"/><circle cx="103.9" cy="29.7" r="0.6"/><circle cx="104.1" cy="29.1" r="0.6"/><circle cx="103.6" cy="40.5" r="0.6"/></g>
<polygon points="122.90,60.40 133.80,60.20 133.80,84.00 122.90,84.20" fill="#F26A6A" />
<g fill="#F26A6A"><circle cx="122.7" cy="81.2" r="0.6"/><circle cx="123.7" cy="84.7" r="0.6"/><circle cx="132.2" cy="62.3" r="0.6"/><circle cx="122.1" cy="65.0" r="0.6"/><circle cx="125.5" cy="77.8" r="0.6"/><circle cx="133.8" cy="75.5" r="0.6"/><circle cx="129.2" cy="83.6" r="0.6"/><circle cx="123.7" cy="78.9" r="0.6"/><circle cx="132.1" cy="77.1" r="0.6"/><circle cx="123.0" cy="68.7" r="0.6"/><circle cx="134.7" cy="78.2" r="0.6"/><circle cx="129.8" cy="61.3" r="0.6"/><circle cx="132.6" cy="61.7" r="0.6"/><circle cx="130.8" cy="65.5" r="0.6"/><circle cx="127.6" cy="81.4" r="0.6"/><circle cx="122.9" cy="59.2" r="0.6"/><circle cx="132.6" cy="63.6" r="0.6"/><circle cx="125.4" cy="77.3" r="0.6"/><circle cx="123.3" cy="82.4" r="0.6"/><circle cx="131.0" cy="80.6" r="0.6"/><circle cx="128.4" cy="82.3" r="0.6"/><circle cx="130.9" cy="69.3" r="0.6"/><circle cx="123.5" cy="81.6" r="0.6"/><circle cx="133.6" cy="75.2" r="0.6"/><circle cx="125.9" cy="64.5" r="0.6"/><circle cx="129.6" cy="59.8" r="0.6"/><circle cx="126.4" cy="71.3" r="0.6"/><circle cx="126.8" cy="68.2" r="0.6"/><circle cx="129.5" cy="67.7" r="0.6"/><circle cx="127.8" cy="85.4" r="0.6"/><circle cx="123.4" cy="76.9" r="0.6"/><circle cx="125.2" cy="72.2" r="0.6"/><circle cx="129.3" cy="73.0" r="0.6"/><circle cx="129.2" cy="79.6" r="0.6"/><circle cx="132.2" cy="75.8" r="0.6"/><circle cx="126.4" cy="66.3" r="0.6"/><circle cx="133.6" cy="84.1" r="0.6"/><circle cx="125.6" cy="79.4" r="0.6"/><circle cx="128.5" cy="75.9" r="0.6"/><circle cx="129.1" cy="69.6" r="0.6"/><circle cx="126.1" cy="67.4" r="0.6"/><circle cx="128.1" cy="68.6" r="0.6"/><circle cx="124.6" cy="68.1" r="0.6"/><circle cx="127.6" cy="74.1" r="0.6"/><circle cx="123.7" cy="60.4" r="0.6"/><circle cx="125.6" cy="78.4" r="0.6"/><circle cx="129.5" cy="60.8" r="0.6"/><circle cx="132.2" cy="70.2" r="0.6"/><circle cx="125.2" cy="65.6" r="0.6"/><circle cx="123.6" cy="65.9" r="0.6"/><circle cx="124.4" cy="69.5" r="0.6"/><circle cx="129.8" cy="82.1" r="0.6"/><circle cx="124.1" cy="78.6" r="0.6"/><circle cx="129.8" cy="60.8" r="0.6"/><circle cx="133.6" cy="67.9" r="0.6"/><circle cx="124.0" cy="73.2" r="0.6"/><circle cx="130.3" cy="83.7" r="0.6"/><circle cx="125.9" cy="79.0" r="0.6"/><circle cx="127.0" cy="77.1" r="0.6"/><circle cx="122.1" cy="69.9" r="0.6"/><circle cx="130.1" cy="67.7" r="0.6"/><circle cx="129.7" cy="65.6" r="0.6"/><circle cx="131.5" cy="67.6" r="0.6"/><circle cx="123.5" cy="62.5" r="0.6"/><circle cx="122.6" cy="80.7" r="0.6"/><circle cx="128.9" cy="74.6" r="0.6"/><circle cx="130.6" cy="75.0" r="0.6"/><circle cx="131.7" cy="65.6" r="0.6"/><circle cx="132.1" cy="79.7" r="0.6"/><circle cx="125.2" cy="72.8" r="0.6"/><circle cx="130.5" cy="79.7" r="0.6"/><circle cx="122.6" cy="59.4" r="0.6"/><circle cx="123.9" cy="84.2" r="0.6"/><circle cx="123.4" cy="63.4" r="0.6"/><circle cx="134.3" cy="63.0" r="0.6"/><circle cx="132.3" cy="65.2" r="0.6"/><circle cx="128.3" cy="75.9" r="0.6"/><circle cx="132.6" cy="71.1" r="0.6"/><circle cx="134.0" cy="61.5" r="0.6"/><circle cx="122.2" cy="76.2" r="0.6"/><circle cx="133.5" cy="60.2" r="0.6"/><circle cx="127.1" cy="83.6" r="0.6"/><circle cx="130.1" cy="64.7" r="0.6"/><circle cx="125.0" cy="70.4" r="0.6"/><circle cx="124.2" cy="79.2" r="0.6"/><circle cx="129.3" cy="62.9" r="0.6"/><circle cx="133.6" cy="65.9" r="0.6"/><circle cx="132.9" cy="66.3" r="0.6"/><circle cx="128.1" cy="82.8" r="0.6"/><circle cx="130.9" cy="74.9" r="0.6"/><circle cx="129.5" cy="82.6" r="0.6"/><circle cx="133.8" cy="68.4" r="0.6"/><circle cx="133.5" cy="63.6" r="0.6"/><circle cx="135.3" cy="66.7" r="0.6"/><circle cx="122.9" cy="85.1" r="0.6"/><circle cx="134.2" cy="62.7" r="0.6"/><circle cx="122.7" cy="63.2" r="0.6"/><circle cx="131.4" cy="82.6" r="0.6"/><circle cx="131.0" cy="59.6" r="0.6"/><circle cx="124.6" cy="70.3" r="0.6"/><circle cx="125.8" cy="82.5" r="0.6"/><circle cx="128.2" cy="62.3" r="0.6"/><circle cx="123.8" cy="77.2" r="0.6"/><circle cx="131.7" cy="72.2" r="0.6"/><circle cx="126.3" cy="72.1" r="0.6"/><circle cx="126.2" cy="64.5" r="0.6"/><circle cx="133.8" cy="78.5" r="0.6"/><circle cx="123.8" cy="65.8" r="0.6"/><circle cx="129.1" cy="68.5" r="0.6"/><circle cx="131.0" cy="76.4" r="0.6"/><circle cx="129.0" cy="77.4" r="0.6"/><circle cx="133.6" cy="78.1" r="0.6"/><circle cx="125.8" cy="70.0" r="0.6"/><circle cx="126.8" cy="69.1" r="0.6"/><circle cx="123.3" cy="85.8" r="0.6"/><circle cx="129.9" cy="83.8" r="0.6"/><circle cx="129.9" cy="68.9" r="0.6"/><circle cx="124.1" cy="61.8" r="0.6"/><circle cx="132.4" cy="83.3" r="0.6"/><circle cx="131.1" cy="67.4" r="0.6"/><circle cx="129.0" cy="67.2" r="0.6"/><circle cx="128.5" cy="74.7" r="0.6"/><circle cx="124.6" cy="75.7" r="0.6"/><circle cx="126.6" cy="78.0" r="0.6"/><circle cx="128.7" cy="75.3" r="0.6"/><circle cx="125.8" cy="75.7" r="0.6"/><circle cx="124.4" cy="75.3" r="0.6"/><circle cx="134.1" cy="71.5" r="0.6"/><circle cx="128.7" cy="71.6" r="0.6"/><circle cx="123.3" cy="83.8" r="0.6"/><circle cx="128.7" cy="72.9" r="0.6"/></g>
<polygon points="108.80,55.00 120.30,56.50 120.30,84.80 108.80,84.80" fill="#20C8BB" />
<g fill="#20C8BB"><circle cx="110.7" cy="59.1" r="0.6"/><circle cx="114.0" cy="74.5" r="0.6"/><circle cx="120.3" cy="82.0" r="0.6"/><circle cx="112.8" cy="80.9" r="0.6"/><circle cx="109.0" cy="58.5" r="0.6"/><circle cx="108.7" cy="65.2" r="0.6"/><circle cx="114.9" cy="68.3" r="0.6"/><circle cx="113.8" cy="69.2" r="0.6"/><circle cx="118.4" cy="58.3" r="0.6"/><circle cx="112.6" cy="70.6" r="0.6"/><circle cx="112.7" cy="64.6" r="0.6"/><circle cx="111.2" cy="64.1" r="0.6"/><circle cx="119.5" cy="56.4" r="0.6"/><circle cx="119.8" cy="60.1" r="0.6"/><circle cx="118.8" cy="73.8" r="0.6"/><circle cx="107.8" cy="68.0" r="0.6"/><circle cx="117.7" cy="63.1" r="0.6"/><circle cx="116.7" cy="80.2" r="0.6"/><circle cx="112.9" cy="72.5" r="0.6"/><circle cx="112.7" cy="75.4" r="0.6"/><circle cx="108.2" cy="78.3" r="0.6"/><circle cx="114.9" cy="69.8" r="0.6"/><circle cx="115.9" cy="68.7" r="0.6"/><circle cx="119.5" cy="67.1" r="0.6"/><circle cx="120.3" cy="67.9" r="0.6"/><circle cx="114.7" cy="80.6" r="0.6"/><circle cx="118.1" cy="66.7" r="0.6"/><circle cx="117.2" cy="71.7" r="0.6"/><circle cx="118.5" cy="57.3" r="0.6"/><circle cx="108.3" cy="80.4" r="0.6"/><circle cx="108.5" cy="78.3" r="0.6"/><circle cx="113.3" cy="72.7" r="0.6"/><circle cx="119.2" cy="82.2" r="0.6"/><circle cx="112.1" cy="70.5" r="0.6"/><circle cx="111.8" cy="61.8" r="0.6"/><circle cx="115.4" cy="70.3" r="0.6"/><circle cx="119.0" cy="81.7" r="0.6"/><circle cx="110.2" cy="55.1" r="0.6"/><circle cx="112.7" cy="68.7" r="0.6"/><circle cx="115.8" cy="65.5" r="0.6"/><circle cx="110.1" cy="83.7" r="0.6"/><circle cx="113.2" cy="72.0" r="0.6"/><circle cx="111.2" cy="79.7" r="0.6"/><circle cx="117.6" cy="79.9" r="0.6"/><circle cx="113.9" cy="84.3" r="0.6"/><circle cx="108.3" cy="73.1" r="0.6"/><circle cx="114.5" cy="75.6" r="0.6"/><circle cx="111.5" cy="60.4" r="0.6"/><circle cx="109.3" cy="83.7" r="0.6"/><circle cx="108.7" cy="56.5" r="0.6"/><circle cx="111.0" cy="83.3" r="0.6"/><circle cx="109.5" cy="55.3" r="0.6"/><circle cx="107.8" cy="81.0" r="0.6"/><circle cx="110.6" cy="72.6" r="0.6"/><circle cx="115.4" cy="58.5" r="0.6"/><circle cx="112.0" cy="81.2" r="0.6"/><circle cx="119.0" cy="85.7" r="0.6"/><circle cx="110.5" cy="71.4" r="0.6"/><circle cx="114.0" cy="77.4" r="0.6"/><circle cx="117.2" cy="57.2" r="0.6"/><circle cx="109.0" cy="83.9" r="0.6"/><circle cx="121.0" cy="70.8" r="0.6"/><circle cx="112.3" cy="78.2" r="0.6"/><circle cx="120.9" cy="56.5" r="0.6"/><circle cx="119.9" cy="73.1" r="0.6"/><circle cx="108.5" cy="58.0" r="0.6"/><circle cx="120.3" cy="81.3" r="0.6"/><circle cx="116.0" cy="85.3" r="0.6"/><circle cx="121.1" cy="75.1" r="0.6"/><circle cx="112.1" cy="68.2" r="0.6"/><circle cx="118.1" cy="59.3" r="0.6"/><circle cx="111.6" cy="55.7" r="0.6"/><circle cx="108.6" cy="71.6" r="0.6"/><circle cx="116.0" cy="68.6" r="0.6"/><circle cx="114.7" cy="56.6" r="0.6"/><circle cx="109.1" cy="72.5" r="0.6"/><circle cx="112.7" cy="75.3" r="0.6"/><circle cx="109.7" cy="84.5" r="0.6"/><circle cx="119.6" cy="82.2" r="0.6"/><circle cx="109.4" cy="56.5" r="0.6"/><circle cx="108.9" cy="69.8" r="0.6"/><circle cx="108.9" cy="68.8" r="0.6"/><circle cx="115.1" cy="70.1" r="0.6"/><circle cx="110.1" cy="66.7" r="0.6"/><circle cx="109.1" cy="61.3" r="0.6"/><circle cx="114.6" cy="82.8" r="0.6"/><circle cx="115.6" cy="76.1" r="0.6"/><circle cx="118.2" cy="58.5" r="0.6"/><circle cx="111.5" cy="82.8" r="0.6"/><circle cx="115.7" cy="61.1" r="0.6"/><circle cx="118.7" cy="76.9" r="0.6"/><circle cx="110.8" cy="73.2" r="0.6"/><circle cx="119.2" cy="64.7" r="0.6"/><circle cx="114.0" cy="83.8" r="0.6"/><circle cx="121.0" cy="67.0" r="0.6"/><circle cx="108.5" cy="61.5" r="0.6"/><circle cx="117.2" cy="58.4" r="0.6"/><circle cx="109.3" cy="59.9" r="0.6"/><circle cx="118.8" cy="69.2" r="0.6"/><circle cx="118.7" cy="83.4" r="0.6"/><circle cx="116.6" cy="60.0" r="0.6"/><circle cx="119.6" cy="79.4" r="0.6"/><circle cx="117.7" cy="64.9" r="0.6"/><circle cx="109.2" cy="80.7" r="0.6"/><circle cx="120.5" cy="78.0" r="0.6"/><circle cx="119.0" cy="72.9" r="0.6"/><circle cx="119.3" cy="79.3" r="0.6"/><circle cx="111.6" cy="85.1" r="0.6"/><circle cx="118.8" cy="61.7" r="0.6"/><circle cx="110.6" cy="59.9" r="0.6"/><circle cx="110.7" cy="69.7" r="0.6"/><circle cx="117.3" cy="76.8" r="0.6"/><circle cx="118.7" cy="79.6" r="0.6"/><circle cx="121.0" cy="80.7" r="0.6"/><circle cx="112.2" cy="73.0" r="0.6"/><circle cx="108.8" cy="80.2" r="0.6"/><circle cx="116.1" cy="68.5" r="0.6"/><circle cx="110.3" cy="65.1" r="0.6"/><circle cx="116.3" cy="63.0" r="0.6"/><circle cx="111.2" cy="76.5" r="0.6"/><circle cx="116.9" cy="80.0" r="0.6"/><circle cx="109.9" cy="62.4" r="0.6"/><circle cx="112.5" cy="60.8" r="0.6"/><circle cx="116.2" cy="82.9" r="0.6"/><circle cx="114.5" cy="84.9" r="0.6"/><circle cx="109.6" cy="70.8" r="0.6"/><circle cx="109.8" cy="84.6" r="0.6"/><circle cx="119.1" cy="61.7" r="0.6"/><circle cx="108.7" cy="71.6" r="0.6"/><circle cx="114.8" cy="65.8" r="0.6"/><circle cx="120.3" cy="75.4" r="0.6"/><circle cx="116.4" cy="68.1" r="0.6"/><circle cx="112.5" cy="75.2" r="0.6"/><circle cx="112.7" cy="70.6" r="0.6"/><circle cx="120.5" cy="69.8" r="0.6"/><circle cx="119.5" cy="76.0" r="0.6"/><circle cx="113.8" cy="78.2" r="0.6"/><circle cx="117.9" cy="78.1" r="0.6"/><circle cx="112.0" cy="57.9" r="0.6"/><circle cx="120.3" cy="58.2" r="0.6"/><circle cx="115.7" cy="54.9" r="0.6"/><circle cx="118.2" cy="74.6" r="0.6"/><circle cx="118.4" cy="63.0" r="0.6"/><circle cx="119.0" cy="75.7" r="0.6"/><circle cx="111.3" cy="58.7" r="0.6"/><circle cx="119.3" cy="79.6" r="0.6"/><circle cx="109.3" cy="70.4" r="0.6"/><circle cx="109.6" cy="77.8" r="0.6"/><circle cx="111.8" cy="55.2" r="0.6"/><circle cx="110.0" cy="63.6" r="0.6"/><circle cx="110.1" cy="64.0" r="0.6"/><circle cx="108.8" cy="62.0" r="0.6"/></g>
<g fill="#20C8BB" opacity="1.0"><circle cx="110.2" cy="55.7" r="0.6"/><circle cx="109.7" cy="50.4" r="0.6"/><circle cx="112.6" cy="52.2" r="0.6"/><circle cx="112.3" cy="53.5" r="0.6"/><circle cx="112.0" cy="51.2" r="0.6"/><circle cx="109.2" cy="54.3" r="0.6"/><circle cx="110.6" cy="52.9" r="0.6"/><circle cx="111.5" cy="54.3" r="0.6"/></g>
<polygon points="134.30,41.60 145.50,41.30 145.50,62.60 134.30,62.80" fill="#20C8BB" />
<g fill="#20C8BB"><circle cx="136.7" cy="48.7" r="0.6"/><circle cx="140.3" cy="46.8" r="0.6"/><circle cx="136.4" cy="58.8" r="0.6"/><circle cx="144.6" cy="53.7" r="0.6"/><circle cx="146.2" cy="46.3" r="0.6"/><circle cx="142.5" cy="49.9" r="0.6"/><circle cx="134.3" cy="47.3" r="0.6"/><circle cx="143.9" cy="49.4" r="0.6"/><circle cx="143.4" cy="48.1" r="0.6"/><circle cx="144.3" cy="48.3" r="0.6"/><circle cx="145.3" cy="52.8" r="0.6"/><circle cx="142.3" cy="62.0" r="0.6"/><circle cx="137.6" cy="41.3" r="0.6"/><circle cx="139.9" cy="60.7" r="0.6"/><circle cx="141.0" cy="49.7" r="0.6"/><circle cx="136.6" cy="60.6" r="0.6"/><circle cx="144.8" cy="43.4" r="0.6"/><circle cx="143.6" cy="52.1" r="0.6"/><circle cx="145.6" cy="58.1" r="0.6"/><circle cx="142.0" cy="61.4" r="0.6"/><circle cx="142.8" cy="57.1" r="0.6"/><circle cx="136.7" cy="41.4" r="0.6"/><circle cx="144.6" cy="46.4" r="0.6"/><circle cx="135.9" cy="42.0" r="0.6"/><circle cx="142.8" cy="41.5" r="0.6"/><circle cx="141.8" cy="43.1" r="0.6"/><circle cx="134.3" cy="45.2" r="0.6"/><circle cx="137.6" cy="47.9" r="0.6"/><circle cx="135.8" cy="59.3" r="0.6"/><circle cx="144.8" cy="59.7" r="0.6"/><circle cx="133.1" cy="58.9" r="0.6"/><circle cx="140.0" cy="50.2" r="0.6"/><circle cx="141.8" cy="57.6" r="0.6"/><circle cx="138.5" cy="52.3" r="0.6"/><circle cx="136.0" cy="61.1" r="0.6"/><circle cx="144.3" cy="63.4" r="0.6"/><circle cx="134.6" cy="50.9" r="0.6"/><circle cx="142.9" cy="50.9" r="0.6"/><circle cx="135.4" cy="49.7" r="0.6"/><circle cx="135.5" cy="57.9" r="0.6"/><circle cx="139.0" cy="44.6" r="0.6"/><circle cx="135.5" cy="46.3" r="0.6"/><circle cx="143.1" cy="41.2" r="0.6"/><circle cx="141.8" cy="46.2" r="0.6"/><circle cx="135.1" cy="55.3" r="0.6"/><circle cx="137.1" cy="40.8" r="0.6"/><circle cx="137.8" cy="61.9" r="0.6"/><circle cx="139.3" cy="42.2" r="0.6"/><circle cx="134.9" cy="58.9" r="0.6"/><circle cx="139.6" cy="60.0" r="0.6"/><circle cx="134.3" cy="53.6" r="0.6"/><circle cx="135.7" cy="45.9" r="0.6"/><circle cx="138.2" cy="59.8" r="0.6"/><circle cx="141.1" cy="49.1" r="0.6"/><circle cx="144.7" cy="59.1" r="0.6"/><circle cx="133.7" cy="47.7" r="0.6"/><circle cx="145.4" cy="51.7" r="0.6"/><circle cx="135.7" cy="45.7" r="0.6"/><circle cx="138.2" cy="42.3" r="0.6"/><circle cx="134.5" cy="44.6" r="0.6"/><circle cx="141.1" cy="55.4" r="0.6"/><circle cx="139.0" cy="41.4" r="0.6"/><circle cx="133.5" cy="51.3" r="0.6"/><circle cx="142.4" cy="57.3" r="0.6"/><circle cx="142.1" cy="56.8" r="0.6"/><circle cx="134.7" cy="62.2" r="0.6"/><circle cx="136.0" cy="49.4" r="0.6"/><circle cx="144.6" cy="55.4" r="0.6"/><circle cx="144.3" cy="40.6" r="0.6"/><circle cx="136.2" cy="62.7" r="0.6"/><circle cx="142.4" cy="62.7" r="0.6"/><circle cx="145.9" cy="46.2" r="0.6"/><circle cx="133.0" cy="58.4" r="0.6"/><circle cx="146.7" cy="57.2" r="0.6"/><circle cx="144.3" cy="43.7" r="0.6"/><circle cx="134.2" cy="59.1" r="0.6"/><circle cx="140.7" cy="60.0" r="0.6"/><circle cx="141.6" cy="54.4" r="0.6"/><circle cx="136.9" cy="49.5" r="0.6"/><circle cx="144.4" cy="51.0" r="0.6"/><circle cx="142.1" cy="44.8" r="0.6"/><circle cx="137.8" cy="42.0" r="0.6"/><circle cx="144.9" cy="60.7" r="0.6"/><circle cx="138.0" cy="47.2" r="0.6"/><circle cx="134.8" cy="54.7" r="0.6"/><circle cx="143.8" cy="39.9" r="0.6"/><circle cx="134.3" cy="56.8" r="0.6"/><circle cx="140.2" cy="51.0" r="0.6"/><circle cx="141.5" cy="55.7" r="0.6"/><circle cx="143.3" cy="59.4" r="0.6"/><circle cx="144.8" cy="57.4" r="0.6"/><circle cx="142.5" cy="60.7" r="0.6"/><circle cx="145.3" cy="44.1" r="0.6"/><circle cx="139.1" cy="57.2" r="0.6"/><circle cx="137.0" cy="48.3" r="0.6"/><circle cx="142.1" cy="62.7" r="0.6"/><circle cx="143.5" cy="46.5" r="0.6"/><circle cx="145.5" cy="62.4" r="0.6"/><circle cx="143.8" cy="58.8" r="0.6"/><circle cx="144.1" cy="52.8" r="0.6"/><circle cx="144.6" cy="47.4" r="0.6"/><circle cx="138.0" cy="53.0" r="0.6"/><circle cx="135.0" cy="52.8" r="0.6"/><circle cx="140.5" cy="62.9" r="0.6"/><circle cx="134.0" cy="44.9" r="0.6"/><circle cx="139.0" cy="56.7" r="0.6"/><circle cx="143.4" cy="58.3" r="0.6"/><circle cx="135.7" cy="46.1" r="0.6"/><circle cx="142.0" cy="54.3" r="0.6"/><circle cx="141.3" cy="56.9" r="0.6"/><circle cx="133.6" cy="41.4" r="0.6"/><circle cx="137.9" cy="43.2" r="0.6"/><circle cx="136.6" cy="58.7" r="0.6"/><circle cx="134.1" cy="47.2" r="0.6"/><circle cx="142.6" cy="50.7" r="0.6"/><circle cx="134.1" cy="62.7" r="0.6"/><circle cx="136.0" cy="60.8" r="0.6"/><circle cx="142.4" cy="46.6" r="0.6"/><circle cx="135.4" cy="62.1" r="0.6"/><circle cx="142.2" cy="54.2" r="0.6"/><circle cx="135.3" cy="43.2" r="0.6"/><circle cx="140.9" cy="45.2" r="0.6"/><circle cx="132.9" cy="60.8" r="0.6"/></g>
<g fill="#20C8BB" opacity="1.0"><circle cx="141.7" cy="64.9" r="0.6"/><circle cx="139.9" cy="63.1" r="0.6"/><circle cx="140.4" cy="64.0" r="0.6"/><circle cx="137.2" cy="66.2" r="0.6"/><circle cx="135.3" cy="64.0" r="0.6"/><circle cx="140.5" cy="64.3" r="0.6"/></g>
<polygon points="116.00,57.50 128.00,46.00 134.30,41.50 134.30,61.20 127.00,65.00 120.30,68.50 120.30,58.00" fill="#20C8BB" opacity="0.95"/>
<polygon points="107.80,29.40 124.00,49.00 131.00,57.00 131.00,62.00 123.00,62.50 107.80,44.00" fill="#F26A6A" opacity="0.95"/>
<polygon points="123.00,62.50 131.00,62.00 131.00,57.00 124.40,49.45 117.62,55.95 119.20,57.87 120.30,58.00 120.30,59.21 123.00,62.50" fill="#A2968F" opacity="0.9"/>
<path d="M108.0,35.1L122.2,54.8M108.0,35.2L118.9,53.8M108.0,36.4L117.3,56.0M108.0,33.2L120.5,52.8M108.0,31.6L123.1,50.5M108.0,36.5L122.2,56.3M108.0,35.9L120.2,55.7M108.0,42.6L123.4,61.1M108.0,33.0L116.3,52.9M108.0,41.6L116.5,58.2M108.0,37.1L122.3,56.3M108.0,31.1L116.6,52.2M108.0,36.2L121.5,55.5M108.0,32.8L121.1,52.2M108.0,31.6L123.9,53.3M108.0,38.8L123.8,57.5M108.0,36.3L120.0,55.6M108.0,38.2L122.8,55.5M108.0,40.8L121.1,61.4M108.0,42.2L122.2,59.7M108.0,38.1L123.7,57.5M108.0,35.9L122.5,55.0M108.0,40.1L118.6,56.0M108.0,30.2L122.1,50.5M108.0,36.4L116.1,52.5M108.0,38.4L117.3,57.1M108.0,32.7L116.3,54.2M108.0,34.3L121.3,54.0M108.0,39.0L117.4,59.1M108.0,30.0L121.9,50.7" stroke="#F26A6A" stroke-width="0.5" opacity="0.40" fill="none"/>
<path d="M117.2,62.2L134.3,47.6M112.2,58.4L134.3,43.3M112.7,58.6L134.3,42.4M117.0,59.7L134.3,46.4M114.0,62.2L134.3,46.9M116.4,68.0L134.3,61.2M117.4,61.7L134.3,54.8M116.3,60.3L134.3,49.4M112.9,67.0L134.3,56.3M114.9,64.5L134.3,56.0M113.2,59.8L134.3,45.3M116.8,68.1L134.3,58.0M113.8,67.3L134.3,58.0M115.8,59.7L134.3,46.2M114.3,64.8L134.3,58.5M113.2,64.7L134.3,56.7M114.1,62.5L134.3,49.8M113.3,68.0L134.3,57.2M115.5,62.0L134.3,52.0M116.6,67.4L134.3,58.9M117.2,61.1L134.3,47.2M116.4,59.5L134.3,43.1M117.5,58.6L134.3,43.0M114.5,67.8L134.3,61.2M115.1,65.1L134.3,54.3M117.0,64.8L134.3,55.6M114.1,68.1L134.3,60.9M112.2,65.1L134.3,51.4M113.1,65.8L134.3,56.3M112.7,66.8L134.3,60.0" stroke="#20C8BB" stroke-width="0.5" opacity="0.40" fill="none"/>
<polygon points="171.00,29.50 182.20,29.50 182.20,57.00 178.00,58.50 171.00,58.50" fill="#20C8BB" />
<g fill="#20C8BB"><circle cx="179.8" cy="36.7" r="0.6"/><circle cx="176.9" cy="38.2" r="0.6"/><circle cx="176.3" cy="36.2" r="0.6"/><circle cx="170.6" cy="33.1" r="0.6"/><circle cx="178.4" cy="50.3" r="0.6"/><circle cx="180.8" cy="51.4" r="0.6"/><circle cx="176.5" cy="34.0" r="0.6"/><circle cx="177.5" cy="29.6" r="0.6"/><circle cx="179.4" cy="40.3" r="0.6"/><circle cx="172.7" cy="53.6" r="0.6"/><circle cx="170.8" cy="46.8" r="0.6"/><circle cx="179.6" cy="53.8" r="0.6"/><circle cx="172.7" cy="30.9" r="0.6"/><circle cx="177.5" cy="32.4" r="0.6"/><circle cx="177.8" cy="31.4" r="0.6"/><circle cx="172.9" cy="36.2" r="0.6"/><circle cx="177.1" cy="51.2" r="0.6"/><circle cx="179.8" cy="35.0" r="0.6"/><circle cx="178.6" cy="50.2" r="0.6"/><circle cx="182.4" cy="34.5" r="0.6"/><circle cx="178.9" cy="36.3" r="0.6"/><circle cx="172.7" cy="52.7" r="0.6"/><circle cx="173.9" cy="38.1" r="0.6"/><circle cx="170.2" cy="47.5" r="0.6"/><circle cx="170.1" cy="44.4" r="0.6"/><circle cx="182.8" cy="56.1" r="0.6"/><circle cx="172.2" cy="31.8" r="0.6"/><circle cx="176.9" cy="39.6" r="0.6"/><circle cx="177.0" cy="52.9" r="0.6"/><circle cx="170.4" cy="40.4" r="0.6"/><circle cx="173.0" cy="49.4" r="0.6"/><circle cx="174.0" cy="43.3" r="0.6"/><circle cx="180.5" cy="39.9" r="0.6"/><circle cx="170.9" cy="42.6" r="0.6"/><circle cx="182.5" cy="32.1" r="0.6"/><circle cx="178.3" cy="37.6" r="0.6"/><circle cx="180.2" cy="52.7" r="0.6"/><circle cx="170.6" cy="40.6" r="0.6"/><circle cx="183.3" cy="29.5" r="0.6"/><circle cx="180.5" cy="32.2" r="0.6"/><circle cx="170.4" cy="33.2" r="0.6"/><circle cx="181.4" cy="33.3" r="0.6"/><circle cx="180.4" cy="41.6" r="0.6"/><circle cx="171.2" cy="35.7" r="0.6"/><circle cx="171.1" cy="36.3" r="0.6"/><circle cx="182.2" cy="57.0" r="0.6"/><circle cx="183.2" cy="47.4" r="0.6"/><circle cx="176.1" cy="51.0" r="0.6"/><circle cx="171.3" cy="34.1" r="0.6"/><circle cx="170.9" cy="54.1" r="0.6"/><circle cx="173.0" cy="36.1" r="0.6"/><circle cx="174.0" cy="33.5" r="0.6"/><circle cx="174.3" cy="33.9" r="0.6"/><circle cx="181.2" cy="55.7" r="0.6"/><circle cx="181.6" cy="54.3" r="0.6"/><circle cx="174.7" cy="40.0" r="0.6"/><circle cx="174.8" cy="31.4" r="0.6"/><circle cx="182.5" cy="41.1" r="0.6"/><circle cx="182.2" cy="52.2" r="0.6"/><circle cx="179.9" cy="52.2" r="0.6"/><circle cx="173.0" cy="49.0" r="0.6"/><circle cx="181.5" cy="32.2" r="0.6"/><circle cx="174.2" cy="54.3" r="0.6"/><circle cx="181.6" cy="55.2" r="0.6"/><circle cx="171.4" cy="58.1" r="0.6"/><circle cx="179.1" cy="48.9" r="0.6"/><circle cx="181.9" cy="45.5" r="0.6"/><circle cx="174.3" cy="53.1" r="0.6"/><circle cx="181.9" cy="34.8" r="0.6"/><circle cx="173.0" cy="31.1" r="0.6"/><circle cx="169.8" cy="53.5" r="0.6"/><circle cx="172.3" cy="42.8" r="0.6"/><circle cx="178.5" cy="56.7" r="0.6"/><circle cx="182.4" cy="51.5" r="0.6"/><circle cx="182.0" cy="46.4" r="0.6"/><circle cx="177.9" cy="54.6" r="0.6"/><circle cx="176.4" cy="41.3" r="0.6"/><circle cx="179.0" cy="34.6" r="0.6"/><circle cx="174.6" cy="58.8" r="0.6"/><circle cx="171.2" cy="57.3" r="0.6"/><circle cx="177.9" cy="41.8" r="0.6"/><circle cx="175.6" cy="30.9" r="0.6"/><circle cx="181.2" cy="53.3" r="0.6"/><circle cx="172.6" cy="51.9" r="0.6"/><circle cx="172.6" cy="56.3" r="0.6"/><circle cx="175.6" cy="40.2" r="0.6"/><circle cx="182.8" cy="34.4" r="0.6"/><circle cx="174.1" cy="51.5" r="0.6"/><circle cx="177.3" cy="44.0" r="0.6"/><circle cx="177.5" cy="53.5" r="0.6"/><circle cx="182.5" cy="45.7" r="0.6"/><circle cx="181.9" cy="39.5" r="0.6"/><circle cx="176.8" cy="57.9" r="0.6"/><circle cx="171.5" cy="48.2" r="0.6"/><circle cx="175.5" cy="47.3" r="0.6"/><circle cx="173.4" cy="41.4" r="0.6"/><circle cx="176.1" cy="30.9" r="0.6"/><circle cx="174.3" cy="51.0" r="0.6"/><circle cx="172.8" cy="36.1" r="0.6"/><circle cx="171.9" cy="47.3" r="0.6"/><circle cx="172.3" cy="46.8" r="0.6"/><circle cx="180.2" cy="50.8" r="0.6"/><circle cx="173.3" cy="54.9" r="0.6"/><circle cx="170.2" cy="58.3" r="0.6"/><circle cx="179.2" cy="32.5" r="0.6"/><circle cx="174.2" cy="52.6" r="0.6"/><circle cx="172.3" cy="33.1" r="0.6"/><circle cx="178.3" cy="37.7" r="0.6"/><circle cx="172.5" cy="30.6" r="0.6"/><circle cx="173.9" cy="44.1" r="0.6"/><circle cx="176.3" cy="42.1" r="0.6"/><circle cx="176.4" cy="58.3" r="0.6"/><circle cx="172.3" cy="47.0" r="0.6"/><circle cx="171.8" cy="30.3" r="0.6"/><circle cx="175.5" cy="39.2" r="0.6"/><circle cx="175.0" cy="32.8" r="0.6"/><circle cx="179.9" cy="39.3" r="0.6"/><circle cx="182.7" cy="40.8" r="0.6"/><circle cx="173.7" cy="45.7" r="0.6"/><circle cx="180.0" cy="58.5" r="0.6"/><circle cx="174.7" cy="55.3" r="0.6"/><circle cx="177.9" cy="49.7" r="0.6"/><circle cx="183.0" cy="45.6" r="0.6"/><circle cx="172.0" cy="31.6" r="0.6"/><circle cx="180.9" cy="28.8" r="0.6"/><circle cx="176.3" cy="43.9" r="0.6"/><circle cx="182.3" cy="39.2" r="0.6"/><circle cx="182.8" cy="48.5" r="0.6"/><circle cx="174.2" cy="40.4" r="0.6"/><circle cx="180.7" cy="36.3" r="0.6"/><circle cx="175.0" cy="39.6" r="0.6"/><circle cx="177.2" cy="36.8" r="0.6"/><circle cx="181.2" cy="33.1" r="0.6"/><circle cx="169.7" cy="34.1" r="0.6"/><circle cx="181.0" cy="32.6" r="0.6"/><circle cx="179.8" cy="57.2" r="0.6"/><circle cx="177.3" cy="57.6" r="0.6"/><circle cx="182.7" cy="41.9" r="0.6"/><circle cx="180.2" cy="55.5" r="0.6"/><circle cx="170.7" cy="56.0" r="0.6"/><circle cx="178.0" cy="59.4" r="0.6"/><circle cx="170.2" cy="31.9" r="0.6"/><circle cx="179.6" cy="48.2" r="0.6"/><circle cx="171.7" cy="33.7" r="0.6"/><circle cx="179.1" cy="59.1" r="0.6"/><circle cx="173.0" cy="35.4" r="0.6"/><circle cx="172.0" cy="32.8" r="0.6"/><circle cx="180.0" cy="29.8" r="0.6"/><circle cx="179.2" cy="29.0" r="0.6"/></g>
<g fill="#20C8BB" opacity="1.0"><circle cx="175.4" cy="61.5" r="0.6"/><circle cx="173.5" cy="63.3" r="0.6"/><circle cx="174.3" cy="60.0" r="0.6"/><circle cx="173.2" cy="63.7" r="0.6"/><circle cx="175.7" cy="63.5" r="0.6"/><circle cx="174.1" cy="58.9" r="0.6"/><circle cx="172.0" cy="60.3" r="0.6"/><circle cx="174.8" cy="58.0" r="0.6"/><circle cx="175.4" cy="62.7" r="0.6"/><circle cx="173.8" cy="58.0" r="0.6"/><circle cx="175.4" cy="60.5" r="0.6"/><circle cx="174.7" cy="61.4" r="0.6"/></g>
<polygon points="196.70,42.90 208.00,42.90 208.00,73.60 196.70,73.60" fill="#20C8BB" />
<g fill="#20C8BB"><circle cx="205.7" cy="55.2" r="0.6"/><circle cx="199.7" cy="54.1" r="0.6"/><circle cx="208.2" cy="68.2" r="0.6"/><circle cx="199.7" cy="67.0" r="0.6"/><circle cx="204.0" cy="46.7" r="0.6"/><circle cx="202.2" cy="50.6" r="0.6"/><circle cx="197.3" cy="67.1" r="0.6"/><circle cx="208.3" cy="61.2" r="0.6"/><circle cx="196.6" cy="50.7" r="0.6"/><circle cx="207.7" cy="56.3" r="0.6"/><circle cx="198.8" cy="66.1" r="0.6"/><circle cx="196.5" cy="58.0" r="0.6"/><circle cx="198.2" cy="63.5" r="0.6"/><circle cx="200.5" cy="72.5" r="0.6"/><circle cx="206.8" cy="67.0" r="0.6"/><circle cx="207.6" cy="54.9" r="0.6"/><circle cx="202.0" cy="45.3" r="0.6"/><circle cx="197.2" cy="64.3" r="0.6"/><circle cx="197.0" cy="62.9" r="0.6"/><circle cx="198.7" cy="68.9" r="0.6"/><circle cx="202.0" cy="44.2" r="0.6"/><circle cx="208.1" cy="42.5" r="0.6"/><circle cx="201.9" cy="65.7" r="0.6"/><circle cx="200.1" cy="72.9" r="0.6"/><circle cx="197.1" cy="68.9" r="0.6"/><circle cx="197.8" cy="58.3" r="0.6"/><circle cx="197.5" cy="72.8" r="0.6"/><circle cx="206.5" cy="49.8" r="0.6"/><circle cx="198.3" cy="72.0" r="0.6"/><circle cx="202.8" cy="70.3" r="0.6"/><circle cx="196.5" cy="72.3" r="0.6"/><circle cx="205.0" cy="66.5" r="0.6"/><circle cx="201.8" cy="69.2" r="0.6"/><circle cx="208.5" cy="46.7" r="0.6"/><circle cx="203.1" cy="55.0" r="0.6"/><circle cx="197.1" cy="57.2" r="0.6"/><circle cx="199.0" cy="53.8" r="0.6"/><circle cx="206.1" cy="61.3" r="0.6"/><circle cx="207.9" cy="53.8" r="0.6"/><circle cx="199.7" cy="42.3" r="0.6"/><circle cx="196.9" cy="50.9" r="0.6"/><circle cx="203.3" cy="73.4" r="0.6"/><circle cx="200.4" cy="73.5" r="0.6"/><circle cx="203.0" cy="70.5" r="0.6"/><circle cx="200.3" cy="61.8" r="0.6"/><circle cx="198.1" cy="58.5" r="0.6"/><circle cx="207.2" cy="64.0" r="0.6"/><circle cx="201.3" cy="74.2" r="0.6"/><circle cx="208.2" cy="61.3" r="0.6"/><circle cx="207.2" cy="44.7" r="0.6"/><circle cx="199.0" cy="71.1" r="0.6"/><circle cx="199.8" cy="74.1" r="0.6"/><circle cx="205.2" cy="43.6" r="0.6"/><circle cx="199.0" cy="46.3" r="0.6"/><circle cx="197.4" cy="65.9" r="0.6"/><circle cx="200.3" cy="71.8" r="0.6"/><circle cx="197.2" cy="46.7" r="0.6"/><circle cx="203.6" cy="68.4" r="0.6"/><circle cx="202.4" cy="60.8" r="0.6"/><circle cx="201.1" cy="59.7" r="0.6"/><circle cx="195.9" cy="55.6" r="0.6"/><circle cx="206.1" cy="49.5" r="0.6"/><circle cx="198.6" cy="44.4" r="0.6"/><circle cx="200.7" cy="52.7" r="0.6"/><circle cx="198.3" cy="64.0" r="0.6"/><circle cx="201.7" cy="58.4" r="0.6"/><circle cx="203.9" cy="47.4" r="0.6"/><circle cx="196.3" cy="52.5" r="0.6"/><circle cx="204.5" cy="55.7" r="0.6"/><circle cx="202.5" cy="73.1" r="0.6"/><circle cx="197.3" cy="51.7" r="0.6"/><circle cx="208.3" cy="65.2" r="0.6"/><circle cx="197.5" cy="42.8" r="0.6"/><circle cx="207.4" cy="63.3" r="0.6"/><circle cx="204.2" cy="43.3" r="0.6"/><circle cx="200.0" cy="44.8" r="0.6"/><circle cx="205.5" cy="58.6" r="0.6"/><circle cx="204.8" cy="56.0" r="0.6"/><circle cx="196.4" cy="71.9" r="0.6"/><circle cx="198.3" cy="54.8" r="0.6"/><circle cx="200.0" cy="50.3" r="0.6"/><circle cx="198.3" cy="54.9" r="0.6"/><circle cx="201.3" cy="46.6" r="0.6"/><circle cx="196.5" cy="58.3" r="0.6"/><circle cx="197.9" cy="64.0" r="0.6"/><circle cx="206.8" cy="51.2" r="0.6"/><circle cx="206.9" cy="57.4" r="0.6"/><circle cx="202.1" cy="45.6" r="0.6"/><circle cx="205.2" cy="60.9" r="0.6"/><circle cx="196.7" cy="52.2" r="0.6"/><circle cx="203.6" cy="65.8" r="0.6"/><circle cx="205.2" cy="53.7" r="0.6"/><circle cx="199.1" cy="74.5" r="0.6"/><circle cx="207.6" cy="62.9" r="0.6"/><circle cx="207.7" cy="65.6" r="0.6"/><circle cx="200.6" cy="64.1" r="0.6"/><circle cx="206.5" cy="70.6" r="0.6"/><circle cx="203.3" cy="48.0" r="0.6"/><circle cx="202.1" cy="52.7" r="0.6"/><circle cx="202.5" cy="61.2" r="0.6"/><circle cx="199.1" cy="58.3" r="0.6"/><circle cx="201.2" cy="63.8" r="0.6"/><circle cx="202.8" cy="50.6" r="0.6"/><circle cx="205.3" cy="67.8" r="0.6"/><circle cx="198.7" cy="72.7" r="0.6"/><circle cx="200.5" cy="51.1" r="0.6"/><circle cx="205.4" cy="69.0" r="0.6"/><circle cx="205.7" cy="48.5" r="0.6"/><circle cx="200.3" cy="51.7" r="0.6"/><circle cx="206.0" cy="66.2" r="0.6"/><circle cx="198.5" cy="67.9" r="0.6"/><circle cx="204.9" cy="62.8" r="0.6"/><circle cx="199.1" cy="43.4" r="0.6"/><circle cx="198.4" cy="52.7" r="0.6"/><circle cx="206.6" cy="66.3" r="0.6"/><circle cx="200.5" cy="50.4" r="0.6"/><circle cx="205.4" cy="71.7" r="0.6"/><circle cx="207.7" cy="56.2" r="0.6"/><circle cx="199.7" cy="74.3" r="0.6"/><circle cx="197.4" cy="50.8" r="0.6"/><circle cx="207.5" cy="52.5" r="0.6"/><circle cx="208.0" cy="55.8" r="0.6"/><circle cx="206.3" cy="54.0" r="0.6"/><circle cx="208.2" cy="56.2" r="0.6"/><circle cx="203.7" cy="50.0" r="0.6"/><circle cx="200.8" cy="54.2" r="0.6"/><circle cx="200.5" cy="67.1" r="0.6"/><circle cx="205.0" cy="62.5" r="0.6"/><circle cx="199.4" cy="48.1" r="0.6"/><circle cx="208.3" cy="49.2" r="0.6"/><circle cx="203.4" cy="52.2" r="0.6"/><circle cx="199.8" cy="63.1" r="0.6"/><circle cx="202.5" cy="45.4" r="0.6"/><circle cx="199.6" cy="55.4" r="0.6"/><circle cx="198.6" cy="70.3" r="0.6"/><circle cx="203.6" cy="54.1" r="0.6"/><circle cx="206.6" cy="68.8" r="0.6"/><circle cx="206.4" cy="57.5" r="0.6"/><circle cx="195.9" cy="54.2" r="0.6"/><circle cx="204.2" cy="67.7" r="0.6"/><circle cx="203.1" cy="54.4" r="0.6"/><circle cx="196.6" cy="50.1" r="0.6"/><circle cx="201.5" cy="75.0" r="0.6"/><circle cx="201.8" cy="48.5" r="0.6"/><circle cx="196.5" cy="44.4" r="0.6"/><circle cx="201.4" cy="58.5" r="0.6"/><circle cx="205.3" cy="58.8" r="0.6"/><circle cx="197.6" cy="58.6" r="0.6"/><circle cx="200.5" cy="70.5" r="0.6"/><circle cx="207.8" cy="53.4" r="0.6"/><circle cx="204.0" cy="60.4" r="0.6"/><circle cx="196.3" cy="73.7" r="0.6"/><circle cx="196.8" cy="63.6" r="0.6"/><circle cx="199.8" cy="52.4" r="0.6"/><circle cx="200.0" cy="55.5" r="0.6"/><circle cx="200.3" cy="54.9" r="0.6"/><circle cx="204.7" cy="63.8" r="0.6"/></g>
<polygon points="182.00,42.50 196.70,43.00 196.70,73.00 191.50,66.50 182.00,58.00" fill="#20C8BB" opacity="0.8"/>
<polygon points="185.60,30.00 196.70,30.00 196.70,48.50 192.00,48.00 188.00,46.00 185.60,44.40" fill="#F26A6A" />
<g fill="#F26A6A"><circle cx="189.8" cy="33.5" r="0.6"/><circle cx="190.5" cy="46.5" r="0.6"/><circle cx="194.5" cy="29.0" r="0.6"/><circle cx="191.1" cy="38.6" r="0.6"/><circle cx="186.5" cy="42.4" r="0.6"/><circle cx="187.7" cy="42.4" r="0.6"/><circle cx="192.8" cy="32.1" r="0.6"/><circle cx="188.5" cy="40.3" r="0.6"/><circle cx="190.9" cy="41.8" r="0.6"/><circle cx="188.4" cy="43.1" r="0.6"/><circle cx="192.8" cy="45.3" r="0.6"/><circle cx="187.2" cy="38.0" r="0.6"/><circle cx="192.1" cy="44.7" r="0.6"/><circle cx="195.8" cy="42.6" r="0.6"/><circle cx="196.1" cy="32.2" r="0.6"/><circle cx="190.3" cy="46.4" r="0.6"/><circle cx="191.6" cy="47.1" r="0.6"/><circle cx="196.8" cy="35.8" r="0.6"/><circle cx="188.8" cy="29.8" r="0.6"/><circle cx="192.9" cy="31.0" r="0.6"/><circle cx="188.2" cy="34.4" r="0.6"/><circle cx="190.3" cy="45.7" r="0.6"/><circle cx="187.3" cy="30.4" r="0.6"/><circle cx="191.9" cy="41.7" r="0.6"/><circle cx="186.1" cy="43.6" r="0.6"/><circle cx="195.2" cy="38.3" r="0.6"/><circle cx="195.9" cy="33.8" r="0.6"/><circle cx="189.7" cy="33.3" r="0.6"/><circle cx="194.7" cy="47.4" r="0.6"/><circle cx="187.0" cy="35.9" r="0.6"/><circle cx="193.4" cy="37.2" r="0.6"/><circle cx="190.7" cy="39.4" r="0.6"/><circle cx="186.8" cy="44.1" r="0.6"/><circle cx="195.6" cy="30.4" r="0.6"/><circle cx="193.1" cy="38.9" r="0.6"/><circle cx="192.3" cy="33.1" r="0.6"/><circle cx="187.6" cy="46.4" r="0.6"/><circle cx="192.6" cy="42.0" r="0.6"/><circle cx="195.1" cy="34.7" r="0.6"/><circle cx="195.2" cy="43.1" r="0.6"/><circle cx="190.2" cy="43.0" r="0.6"/><circle cx="186.7" cy="30.6" r="0.6"/><circle cx="191.3" cy="31.6" r="0.6"/><circle cx="196.4" cy="36.8" r="0.6"/><circle cx="186.6" cy="40.9" r="0.6"/><circle cx="190.8" cy="40.1" r="0.6"/><circle cx="191.2" cy="46.6" r="0.6"/><circle cx="197.3" cy="32.7" r="0.6"/><circle cx="195.0" cy="40.8" r="0.6"/><circle cx="187.1" cy="45.3" r="0.6"/><circle cx="194.4" cy="33.4" r="0.6"/><circle cx="193.3" cy="36.5" r="0.6"/><circle cx="186.2" cy="40.3" r="0.6"/><circle cx="196.4" cy="29.5" r="0.6"/><circle cx="185.2" cy="33.9" r="0.6"/><circle cx="191.0" cy="33.8" r="0.6"/><circle cx="190.6" cy="36.5" r="0.6"/><circle cx="194.3" cy="30.9" r="0.6"/><circle cx="194.0" cy="45.3" r="0.6"/><circle cx="188.5" cy="30.0" r="0.6"/><circle cx="191.3" cy="38.0" r="0.6"/><circle cx="195.0" cy="46.4" r="0.6"/><circle cx="186.5" cy="37.2" r="0.6"/><circle cx="189.8" cy="42.7" r="0.6"/><circle cx="190.6" cy="40.9" r="0.6"/><circle cx="192.0" cy="47.2" r="0.6"/><circle cx="196.1" cy="38.6" r="0.6"/><circle cx="188.3" cy="43.9" r="0.6"/><circle cx="186.9" cy="42.3" r="0.6"/><circle cx="188.6" cy="41.4" r="0.6"/><circle cx="185.8" cy="42.9" r="0.6"/><circle cx="195.3" cy="35.0" r="0.6"/><circle cx="195.6" cy="30.9" r="0.6"/><circle cx="186.6" cy="37.0" r="0.6"/><circle cx="189.9" cy="31.1" r="0.6"/><circle cx="189.5" cy="37.8" r="0.6"/><circle cx="195.9" cy="36.9" r="0.6"/><circle cx="188.0" cy="30.8" r="0.6"/><circle cx="190.4" cy="47.4" r="0.6"/><circle cx="190.3" cy="45.0" r="0.6"/><circle cx="186.2" cy="39.7" r="0.6"/><circle cx="197.4" cy="47.9" r="0.6"/><circle cx="192.0" cy="37.4" r="0.6"/><circle cx="190.4" cy="48.3" r="0.6"/><circle cx="192.4" cy="43.8" r="0.6"/><circle cx="197.2" cy="30.8" r="0.6"/><circle cx="185.8" cy="38.7" r="0.6"/><circle cx="186.2" cy="33.2" r="0.6"/><circle cx="185.3" cy="32.6" r="0.6"/><circle cx="187.6" cy="33.6" r="0.6"/><circle cx="184.7" cy="44.5" r="0.6"/><circle cx="196.3" cy="30.6" r="0.6"/><circle cx="193.9" cy="41.2" r="0.6"/><circle cx="188.0" cy="39.2" r="0.6"/><circle cx="190.3" cy="34.5" r="0.6"/><circle cx="188.3" cy="34.4" r="0.6"/><circle cx="187.3" cy="30.9" r="0.6"/><circle cx="191.2" cy="44.0" r="0.6"/><circle cx="189.9" cy="47.8" r="0.6"/><circle cx="192.8" cy="32.8" r="0.6"/><circle cx="193.3" cy="46.0" r="0.6"/><circle cx="186.5" cy="34.0" r="0.6"/><circle cx="186.8" cy="38.4" r="0.6"/><circle cx="185.4" cy="42.7" r="0.6"/><circle cx="190.8" cy="42.5" r="0.6"/><circle cx="189.6" cy="37.6" r="0.6"/><circle cx="194.0" cy="44.5" r="0.6"/></g>
<polygon points="159.30,69.70 163.00,67.20 166.00,69.00 171.00,70.00 171.00,85.00 159.30,85.00" fill="#F26A6A" />
<g fill="#F26A6A"><circle cx="163.7" cy="77.6" r="0.6"/><circle cx="170.2" cy="70.7" r="0.6"/><circle cx="170.8" cy="71.2" r="0.6"/><circle cx="164.8" cy="72.2" r="0.6"/><circle cx="169.6" cy="83.3" r="0.6"/><circle cx="167.7" cy="69.2" r="0.6"/><circle cx="166.2" cy="70.1" r="0.6"/><circle cx="161.0" cy="83.4" r="0.6"/><circle cx="170.3" cy="72.0" r="0.6"/><circle cx="172.0" cy="70.4" r="0.6"/><circle cx="168.3" cy="77.8" r="0.6"/><circle cx="161.4" cy="71.6" r="0.6"/><circle cx="159.6" cy="83.4" r="0.6"/><circle cx="168.3" cy="82.6" r="0.6"/><circle cx="165.9" cy="82.7" r="0.6"/><circle cx="165.7" cy="71.2" r="0.6"/><circle cx="160.6" cy="80.5" r="0.6"/><circle cx="169.3" cy="78.8" r="0.6"/><circle cx="171.4" cy="82.7" r="0.6"/><circle cx="162.6" cy="85.1" r="0.6"/><circle cx="159.2" cy="72.6" r="0.6"/><circle cx="171.7" cy="81.9" r="0.6"/><circle cx="164.6" cy="81.6" r="0.6"/><circle cx="159.3" cy="78.6" r="0.6"/><circle cx="161.4" cy="80.0" r="0.6"/><circle cx="164.3" cy="82.3" r="0.6"/><circle cx="160.3" cy="86.0" r="0.6"/><circle cx="158.8" cy="75.1" r="0.6"/><circle cx="164.9" cy="74.3" r="0.6"/><circle cx="163.9" cy="83.4" r="0.6"/><circle cx="166.4" cy="70.6" r="0.6"/><circle cx="165.0" cy="73.9" r="0.6"/><circle cx="165.2" cy="72.4" r="0.6"/><circle cx="166.4" cy="77.8" r="0.6"/><circle cx="163.4" cy="71.1" r="0.6"/><circle cx="158.7" cy="77.0" r="0.6"/><circle cx="165.0" cy="74.1" r="0.6"/><circle cx="168.6" cy="82.4" r="0.6"/><circle cx="159.4" cy="78.2" r="0.6"/><circle cx="172.4" cy="81.5" r="0.6"/><circle cx="170.8" cy="79.6" r="0.6"/><circle cx="161.4" cy="77.7" r="0.6"/><circle cx="162.1" cy="81.6" r="0.6"/><circle cx="162.6" cy="77.0" r="0.6"/><circle cx="166.1" cy="84.8" r="0.6"/><circle cx="164.6" cy="77.2" r="0.6"/><circle cx="167.2" cy="76.8" r="0.6"/><circle cx="162.5" cy="84.0" r="0.6"/><circle cx="167.4" cy="82.4" r="0.6"/><circle cx="163.4" cy="70.4" r="0.6"/><circle cx="165.6" cy="78.3" r="0.6"/><circle cx="163.4" cy="72.9" r="0.6"/><circle cx="160.3" cy="77.3" r="0.6"/><circle cx="161.7" cy="76.0" r="0.6"/><circle cx="160.1" cy="83.3" r="0.6"/><circle cx="165.9" cy="85.1" r="0.6"/><circle cx="162.6" cy="68.9" r="0.6"/><circle cx="162.2" cy="80.3" r="0.6"/><circle cx="159.5" cy="82.4" r="0.6"/><circle cx="159.8" cy="82.8" r="0.6"/><circle cx="170.6" cy="82.9" r="0.6"/><circle cx="169.1" cy="81.8" r="0.6"/><circle cx="170.1" cy="84.9" r="0.6"/><circle cx="167.9" cy="80.0" r="0.6"/><circle cx="166.1" cy="71.4" r="0.6"/><circle cx="170.9" cy="70.7" r="0.6"/><circle cx="169.1" cy="72.0" r="0.6"/><circle cx="161.9" cy="81.8" r="0.6"/><circle cx="169.8" cy="69.0" r="0.6"/><circle cx="162.9" cy="84.1" r="0.6"/><circle cx="158.8" cy="81.4" r="0.6"/><circle cx="161.4" cy="79.5" r="0.6"/><circle cx="163.8" cy="75.0" r="0.6"/><circle cx="162.8" cy="70.7" r="0.6"/><circle cx="168.3" cy="82.1" r="0.6"/><circle cx="162.1" cy="71.5" r="0.6"/><circle cx="160.9" cy="72.4" r="0.6"/><circle cx="170.6" cy="79.0" r="0.6"/><circle cx="163.4" cy="85.0" r="0.6"/><circle cx="164.4" cy="77.5" r="0.6"/><circle cx="161.5" cy="71.0" r="0.6"/><circle cx="165.2" cy="81.7" r="0.6"/><circle cx="163.4" cy="83.2" r="0.6"/><circle cx="163.3" cy="68.2" r="0.6"/><circle cx="168.7" cy="85.0" r="0.6"/><circle cx="162.3" cy="76.4" r="0.6"/><circle cx="164.3" cy="75.4" r="0.6"/><circle cx="171.2" cy="85.1" r="0.6"/><circle cx="163.9" cy="86.4" r="0.6"/><circle cx="170.3" cy="82.8" r="0.6"/><circle cx="170.0" cy="70.1" r="0.6"/><circle cx="164.7" cy="74.2" r="0.6"/><circle cx="169.6" cy="80.9" r="0.6"/><circle cx="163.9" cy="77.7" r="0.6"/><circle cx="171.8" cy="78.9" r="0.6"/><circle cx="165.4" cy="77.8" r="0.6"/><circle cx="163.9" cy="69.2" r="0.6"/><circle cx="166.5" cy="77.0" r="0.6"/><circle cx="161.4" cy="72.2" r="0.6"/><circle cx="160.1" cy="72.9" r="0.6"/><circle cx="170.9" cy="70.6" r="0.6"/><circle cx="164.3" cy="76.9" r="0.6"/><circle cx="167.6" cy="80.1" r="0.6"/><circle cx="171.4" cy="82.8" r="0.6"/><circle cx="168.7" cy="78.7" r="0.6"/></g>
<polygon points="170.00,69.00 178.00,61.00 185.00,56.50 190.00,53.50 192.50,57.00 192.00,67.00 186.00,70.50 181.00,75.00 176.00,80.00 171.50,85.00" fill="#F26A6A" />
<polygon points="186.00,52.00 191.00,47.00 196.70,45.00 196.70,63.00 193.00,67.00 187.00,64.00" fill="#B0928C" opacity="0.8"/>
<path d="M182.0,58.9L196.7,52.4M182.0,59.1L196.7,53.8M182.0,66.1L196.7,56.1M182.0,53.8L196.7,46.1M182.0,60.6L196.7,53.2M182.0,66.9L196.7,58.5M182.0,67.4L196.7,60.4M182.0,64.1L196.7,53.6M182.0,57.0L196.7,50.8M182.0,57.6L196.7,48.4M182.0,67.5L196.7,62.0M182.0,56.3L196.7,50.5M182.0,61.0L196.7,54.2M182.0,54.4L196.7,45.9M182.0,55.2L196.7,47.2M182.0,64.7L196.7,54.2M182.0,60.7L196.7,51.1M182.0,56.9L196.7,48.5M182.0,64.6L196.7,56.1M182.0,65.0L196.7,57.0M182.0,55.0L196.7,47.2M182.0,55.7L196.7,49.3M182.0,61.2L196.7,54.2M182.0,56.6L196.7,55.4M182.0,58.6L196.7,52.4M182.0,50.3L196.7,44.5M182.0,54.2L196.7,49.7M182.0,55.0L196.7,50.2M182.0,56.1L196.7,46.3M182.0,68.4L196.7,60.0M182.0,59.5L196.7,52.3M182.0,52.0L196.7,47.2M182.0,50.7L196.7,44.6M182.0,57.0L196.7,49.2M182.0,53.8L196.7,46.3M182.0,64.2L196.7,55.4M182.0,52.4L196.7,48.1M182.0,51.9L196.7,48.3M182.0,52.5L196.7,47.4M182.0,56.8L196.7,53.9" stroke="#F26A6A" stroke-width="0.6" opacity="0.60" fill="none"/>
<path d="M182.2,48.2L196.7,60.8M182.2,57.1L196.7,69.3M182.2,54.6L196.7,66.0M182.2,44.5L196.7,44.0M182.2,47.8L196.7,51.6M182.2,57.0L196.7,67.4M182.2,50.1L196.7,58.5M182.2,50.3L196.7,55.3M182.2,53.2L196.7,55.1M182.2,44.2L196.7,50.5M182.2,52.1L196.7,69.0M182.2,55.2L196.7,68.0M182.2,56.9L196.7,70.2M182.2,54.1L196.7,66.1M182.2,56.5L196.7,67.3M182.2,57.2L196.7,67.1M182.2,43.9L196.7,47.2M182.2,54.0L196.7,64.8M182.2,50.4L196.7,56.1M182.2,45.0L196.7,47.9M182.2,47.0L196.7,51.8M182.2,56.4L196.7,72.5M182.2,57.8L196.7,72.3M182.2,44.9L196.7,48.1M182.2,56.8L196.7,63.3M182.2,54.4L196.7,66.3M182.2,46.1L196.7,45.5M182.2,48.2L196.7,52.3M182.2,57.7L196.7,72.5M182.2,54.2L196.7,66.8M182.2,50.7L196.7,51.6M182.2,51.8L196.7,57.8M182.2,51.6L196.7,62.8M182.2,51.4L196.7,62.6M182.2,49.4L196.7,49.8M182.2,53.8L196.7,71.2M182.2,51.9L196.7,59.2M182.2,57.1L196.7,72.5M182.2,47.9L196.7,60.0M182.2,46.8L196.7,53.9" stroke="#20C8BB" stroke-width="0.6" opacity="0.48" fill="none"/>
<polygon points="46.40,116.80 55.00,116.20 62.00,115.50 70.00,113.50 83.00,112.20 83.50,118.00 83.20,124.50 72.00,126.00 62.00,127.50 56.00,131.00 50.00,133.50 46.40,132.50" fill="#20C8BB" />
<g fill="#20C8BB"><circle cx="63.7" cy="120.0" r="0.6"/><circle cx="79.8" cy="112.9" r="0.6"/><circle cx="63.3" cy="113.7" r="0.6"/><circle cx="71.8" cy="122.2" r="0.6"/><circle cx="82.9" cy="125.8" r="0.6"/><circle cx="68.6" cy="120.8" r="0.6"/><circle cx="49.3" cy="115.9" r="0.6"/><circle cx="68.0" cy="118.3" r="0.6"/><circle cx="78.0" cy="114.7" r="0.6"/><circle cx="83.7" cy="118.4" r="0.6"/><circle cx="48.8" cy="120.5" r="0.6"/><circle cx="70.7" cy="118.8" r="0.6"/><circle cx="49.4" cy="124.4" r="0.6"/><circle cx="56.9" cy="125.9" r="0.6"/><circle cx="65.6" cy="116.5" r="0.6"/><circle cx="55.6" cy="130.1" r="0.6"/><circle cx="55.1" cy="121.3" r="0.6"/><circle cx="51.1" cy="114.9" r="0.6"/><circle cx="53.1" cy="118.5" r="0.6"/><circle cx="75.7" cy="120.4" r="0.6"/><circle cx="66.0" cy="127.5" r="0.6"/><circle cx="80.9" cy="119.2" r="0.6"/><circle cx="63.3" cy="123.5" r="0.6"/><circle cx="51.5" cy="118.6" r="0.6"/><circle cx="73.7" cy="121.1" r="0.6"/><circle cx="67.0" cy="118.4" r="0.6"/><circle cx="56.3" cy="117.2" r="0.6"/><circle cx="71.3" cy="112.9" r="0.6"/><circle cx="51.0" cy="116.6" r="0.6"/><circle cx="78.3" cy="125.1" r="0.6"/><circle cx="75.5" cy="118.8" r="0.6"/><circle cx="49.1" cy="126.8" r="0.6"/><circle cx="81.1" cy="117.6" r="0.6"/><circle cx="52.5" cy="130.7" r="0.6"/><circle cx="70.9" cy="127.5" r="0.6"/><circle cx="69.6" cy="119.0" r="0.6"/><circle cx="71.5" cy="123.1" r="0.6"/><circle cx="80.5" cy="112.8" r="0.6"/><circle cx="54.2" cy="123.2" r="0.6"/><circle cx="50.1" cy="125.5" r="0.6"/><circle cx="49.5" cy="117.6" r="0.6"/><circle cx="72.8" cy="112.8" r="0.6"/><circle cx="77.2" cy="120.5" r="0.6"/><circle cx="71.5" cy="118.2" r="0.6"/><circle cx="51.0" cy="120.3" r="0.6"/><circle cx="60.2" cy="124.2" r="0.6"/><circle cx="76.0" cy="123.8" r="0.6"/><circle cx="68.0" cy="113.0" r="0.6"/><circle cx="48.2" cy="132.5" r="0.6"/><circle cx="61.1" cy="123.8" r="0.6"/><circle cx="59.6" cy="118.8" r="0.6"/><circle cx="78.7" cy="121.8" r="0.6"/><circle cx="58.3" cy="118.3" r="0.6"/><circle cx="58.9" cy="127.8" r="0.6"/><circle cx="67.2" cy="119.3" r="0.6"/><circle cx="52.3" cy="134.8" r="0.6"/><circle cx="77.8" cy="123.6" r="0.6"/><circle cx="66.6" cy="120.5" r="0.6"/><circle cx="47.9" cy="133.6" r="0.6"/><circle cx="50.0" cy="127.3" r="0.6"/><circle cx="82.8" cy="111.3" r="0.6"/><circle cx="54.0" cy="130.0" r="0.6"/><circle cx="50.7" cy="123.6" r="0.6"/><circle cx="75.2" cy="120.2" r="0.6"/><circle cx="74.6" cy="122.5" r="0.6"/><circle cx="72.6" cy="121.6" r="0.6"/><circle cx="77.6" cy="123.6" r="0.6"/><circle cx="50.4" cy="118.7" r="0.6"/><circle cx="78.4" cy="119.6" r="0.6"/><circle cx="67.9" cy="118.3" r="0.6"/><circle cx="67.4" cy="121.4" r="0.6"/><circle cx="69.2" cy="118.9" r="0.6"/><circle cx="78.5" cy="111.9" r="0.6"/><circle cx="53.4" cy="115.7" r="0.6"/><circle cx="66.1" cy="117.7" r="0.6"/><circle cx="67.5" cy="125.4" r="0.6"/><circle cx="63.7" cy="121.9" r="0.6"/><circle cx="45.9" cy="122.0" r="0.6"/><circle cx="51.9" cy="132.1" r="0.6"/><circle cx="64.5" cy="114.5" r="0.6"/><circle cx="58.9" cy="119.0" r="0.6"/><circle cx="48.9" cy="131.7" r="0.6"/><circle cx="81.9" cy="118.5" r="0.6"/><circle cx="83.1" cy="112.7" r="0.6"/><circle cx="83.9" cy="116.5" r="0.6"/><circle cx="83.5" cy="116.8" r="0.6"/><circle cx="59.2" cy="124.8" r="0.6"/><circle cx="54.9" cy="131.1" r="0.6"/><circle cx="54.8" cy="119.4" r="0.6"/><circle cx="54.0" cy="128.2" r="0.6"/><circle cx="48.1" cy="133.6" r="0.6"/><circle cx="73.1" cy="119.0" r="0.6"/><circle cx="77.4" cy="121.8" r="0.6"/><circle cx="66.3" cy="117.1" r="0.6"/><circle cx="61.2" cy="124.4" r="0.6"/><circle cx="52.5" cy="132.1" r="0.6"/><circle cx="66.5" cy="124.8" r="0.6"/><circle cx="82.5" cy="121.3" r="0.6"/><circle cx="61.3" cy="125.2" r="0.6"/><circle cx="73.8" cy="113.4" r="0.6"/><circle cx="80.8" cy="114.5" r="0.6"/><circle cx="75.5" cy="125.4" r="0.6"/><circle cx="45.0" cy="121.1" r="0.6"/><circle cx="73.0" cy="112.8" r="0.6"/><circle cx="57.7" cy="118.1" r="0.6"/><circle cx="50.9" cy="120.3" r="0.6"/><circle cx="57.6" cy="130.5" r="0.6"/><circle cx="48.4" cy="126.1" r="0.6"/><circle cx="82.3" cy="112.7" r="0.6"/><circle cx="72.0" cy="119.5" r="0.6"/><circle cx="63.8" cy="122.1" r="0.6"/><circle cx="69.5" cy="120.9" r="0.6"/><circle cx="63.4" cy="124.1" r="0.6"/><circle cx="57.8" cy="115.7" r="0.6"/><circle cx="74.8" cy="116.4" r="0.6"/><circle cx="83.2" cy="121.2" r="0.6"/><circle cx="80.2" cy="115.2" r="0.6"/><circle cx="45.7" cy="121.1" r="0.6"/><circle cx="66.0" cy="126.3" r="0.6"/><circle cx="79.7" cy="120.6" r="0.6"/><circle cx="59.0" cy="125.9" r="0.6"/><circle cx="55.1" cy="130.0" r="0.6"/><circle cx="54.6" cy="118.2" r="0.6"/><circle cx="56.6" cy="125.7" r="0.6"/><circle cx="48.7" cy="130.0" r="0.6"/><circle cx="66.0" cy="120.8" r="0.6"/><circle cx="73.3" cy="113.6" r="0.6"/><circle cx="57.2" cy="116.9" r="0.6"/><circle cx="58.3" cy="119.0" r="0.6"/><circle cx="48.1" cy="131.6" r="0.6"/><circle cx="65.6" cy="116.0" r="0.6"/><circle cx="49.2" cy="118.4" r="0.6"/><circle cx="77.5" cy="124.9" r="0.6"/><circle cx="53.6" cy="118.3" r="0.6"/><circle cx="64.8" cy="128.0" r="0.6"/><circle cx="76.0" cy="118.6" r="0.6"/><circle cx="81.0" cy="117.9" r="0.6"/><circle cx="74.8" cy="124.7" r="0.6"/><circle cx="46.2" cy="128.4" r="0.6"/><circle cx="69.8" cy="115.3" r="0.6"/><circle cx="78.5" cy="125.9" r="0.6"/><circle cx="67.6" cy="120.1" r="0.6"/><circle cx="50.4" cy="132.2" r="0.6"/><circle cx="82.9" cy="114.4" r="0.6"/><circle cx="56.7" cy="123.9" r="0.6"/><circle cx="81.9" cy="124.8" r="0.6"/><circle cx="53.4" cy="126.9" r="0.6"/><circle cx="45.0" cy="122.7" r="0.6"/><circle cx="54.9" cy="119.8" r="0.6"/><circle cx="57.7" cy="120.7" r="0.6"/><circle cx="53.9" cy="133.1" r="0.6"/><circle cx="52.7" cy="131.1" r="0.6"/><circle cx="49.3" cy="122.9" r="0.6"/><circle cx="49.1" cy="118.2" r="0.6"/><circle cx="72.1" cy="126.2" r="0.6"/><circle cx="81.8" cy="112.0" r="0.6"/><circle cx="51.3" cy="118.9" r="0.6"/><circle cx="78.8" cy="119.8" r="0.6"/><circle cx="55.0" cy="124.8" r="0.6"/><circle cx="53.9" cy="119.8" r="0.6"/><circle cx="77.3" cy="114.7" r="0.6"/><circle cx="55.7" cy="126.5" r="0.6"/><circle cx="75.4" cy="115.4" r="0.6"/><circle cx="51.2" cy="116.2" r="0.6"/><circle cx="47.4" cy="119.0" r="0.6"/><circle cx="71.4" cy="112.3" r="0.6"/><circle cx="68.7" cy="123.6" r="0.6"/><circle cx="48.1" cy="124.5" r="0.6"/><circle cx="47.5" cy="129.9" r="0.6"/><circle cx="68.7" cy="123.6" r="0.6"/><circle cx="83.5" cy="120.2" r="0.6"/><circle cx="75.7" cy="115.6" r="0.6"/><circle cx="62.4" cy="115.9" r="0.6"/><circle cx="53.4" cy="128.2" r="0.6"/><circle cx="61.9" cy="128.2" r="0.6"/><circle cx="77.4" cy="116.8" r="0.6"/><circle cx="62.8" cy="119.2" r="0.6"/><circle cx="63.7" cy="123.7" r="0.6"/><circle cx="48.6" cy="122.4" r="0.6"/><circle cx="51.3" cy="121.4" r="0.6"/><circle cx="65.0" cy="123.6" r="0.6"/><circle cx="55.9" cy="119.0" r="0.6"/><circle cx="75.0" cy="122.7" r="0.6"/><circle cx="52.8" cy="119.5" r="0.6"/><circle cx="62.4" cy="124.8" r="0.6"/><circle cx="70.8" cy="125.3" r="0.6"/><circle cx="83.9" cy="123.7" r="0.6"/><circle cx="47.0" cy="129.1" r="0.6"/><circle cx="70.9" cy="117.3" r="0.6"/><circle cx="59.5" cy="117.1" r="0.6"/><circle cx="53.4" cy="117.0" r="0.6"/><circle cx="77.2" cy="111.9" r="0.6"/><circle cx="77.1" cy="113.0" r="0.6"/><circle cx="81.2" cy="122.3" r="0.6"/><circle cx="50.5" cy="122.8" r="0.6"/><circle cx="51.0" cy="132.5" r="0.6"/><circle cx="80.0" cy="113.9" r="0.6"/><circle cx="65.3" cy="125.7" r="0.6"/><circle cx="83.8" cy="125.3" r="0.6"/><circle cx="80.4" cy="114.2" r="0.6"/><circle cx="49.9" cy="123.2" r="0.6"/><circle cx="63.3" cy="122.1" r="0.6"/><circle cx="74.0" cy="123.8" r="0.6"/><circle cx="47.1" cy="120.0" r="0.6"/><circle cx="54.8" cy="129.1" r="0.6"/><circle cx="50.0" cy="123.0" r="0.6"/><circle cx="81.1" cy="121.6" r="0.6"/><circle cx="63.1" cy="123.3" r="0.6"/><circle cx="51.9" cy="117.2" r="0.6"/><circle cx="44.7" cy="125.7" r="0.6"/><circle cx="75.3" cy="120.9" r="0.6"/><circle cx="53.5" cy="132.6" r="0.6"/><circle cx="47.4" cy="120.0" r="0.6"/><circle cx="58.9" cy="128.4" r="0.6"/><circle cx="65.6" cy="123.9" r="0.6"/><circle cx="68.3" cy="121.5" r="0.6"/><circle cx="46.4" cy="116.8" r="0.6"/><circle cx="80.1" cy="113.2" r="0.6"/><circle cx="75.8" cy="122.1" r="0.6"/><circle cx="69.1" cy="113.0" r="0.6"/><circle cx="49.6" cy="125.7" r="0.6"/><circle cx="55.1" cy="116.8" r="0.6"/><circle cx="48.8" cy="130.4" r="0.6"/><circle cx="67.5" cy="125.6" r="0.6"/><circle cx="69.4" cy="125.8" r="0.6"/><circle cx="65.7" cy="112.9" r="0.6"/><circle cx="71.3" cy="112.0" r="0.6"/><circle cx="54.6" cy="130.5" r="0.6"/><circle cx="68.3" cy="116.1" r="0.6"/><circle cx="79.7" cy="119.5" r="0.6"/><circle cx="70.7" cy="114.7" r="0.6"/><circle cx="57.5" cy="122.2" r="0.6"/><circle cx="45.0" cy="123.0" r="0.6"/><circle cx="63.6" cy="126.2" r="0.6"/><circle cx="54.8" cy="123.1" r="0.6"/><circle cx="53.5" cy="129.7" r="0.6"/><circle cx="59.0" cy="116.5" r="0.6"/><circle cx="58.2" cy="121.3" r="0.6"/><circle cx="50.8" cy="119.4" r="0.6"/><circle cx="72.4" cy="125.0" r="0.6"/><circle cx="53.2" cy="116.6" r="0.6"/><circle cx="70.8" cy="124.7" r="0.6"/><circle cx="63.7" cy="123.3" r="0.6"/><circle cx="58.9" cy="115.1" r="0.6"/><circle cx="65.3" cy="122.2" r="0.6"/><circle cx="75.8" cy="112.2" r="0.6"/><circle cx="73.3" cy="125.3" r="0.6"/><circle cx="49.4" cy="133.3" r="0.6"/><circle cx="51.0" cy="128.2" r="0.6"/><circle cx="47.8" cy="121.9" r="0.6"/><circle cx="46.8" cy="124.3" r="0.6"/><circle cx="48.6" cy="124.8" r="0.6"/><circle cx="46.1" cy="126.9" r="0.6"/><circle cx="47.3" cy="132.3" r="0.6"/><circle cx="83.0" cy="122.6" r="0.6"/><circle cx="73.4" cy="114.5" r="0.6"/><circle cx="64.6" cy="118.4" r="0.6"/><circle cx="73.7" cy="121.8" r="0.6"/><circle cx="61.6" cy="128.4" r="0.6"/><circle cx="50.8" cy="122.4" r="0.6"/><circle cx="47.0" cy="117.0" r="0.6"/><circle cx="55.3" cy="129.8" r="0.6"/><circle cx="47.8" cy="122.5" r="0.6"/><circle cx="70.0" cy="122.4" r="0.6"/><circle cx="65.9" cy="114.7" r="0.6"/><circle cx="49.5" cy="118.0" r="0.6"/><circle cx="67.8" cy="123.1" r="0.6"/><circle cx="64.6" cy="119.9" r="0.6"/><circle cx="45.1" cy="119.0" r="0.6"/><circle cx="71.3" cy="114.1" r="0.6"/><circle cx="55.9" cy="130.7" r="0.6"/><circle cx="55.3" cy="131.4" r="0.6"/><circle cx="54.8" cy="120.6" r="0.6"/><circle cx="47.4" cy="132.5" r="0.6"/><circle cx="64.5" cy="124.0" r="0.6"/><circle cx="47.1" cy="119.2" r="0.6"/><circle cx="66.4" cy="122.8" r="0.6"/><circle cx="53.5" cy="127.2" r="0.6"/><circle cx="84.5" cy="117.1" r="0.6"/><circle cx="48.5" cy="119.2" r="0.6"/><circle cx="75.8" cy="119.4" r="0.6"/><circle cx="71.0" cy="120.0" r="0.6"/><circle cx="69.5" cy="123.5" r="0.6"/><circle cx="81.3" cy="118.4" r="0.6"/><circle cx="81.5" cy="119.4" r="0.6"/><circle cx="46.8" cy="124.4" r="0.6"/><circle cx="50.7" cy="129.5" r="0.6"/><circle cx="51.6" cy="118.7" r="0.6"/><circle cx="83.6" cy="119.2" r="0.6"/><circle cx="79.7" cy="123.7" r="0.6"/><circle cx="62.5" cy="121.8" r="0.6"/><circle cx="55.7" cy="123.5" r="0.6"/><circle cx="83.0" cy="113.5" r="0.6"/><circle cx="46.1" cy="126.7" r="0.6"/><circle cx="55.0" cy="120.8" r="0.6"/><circle cx="62.3" cy="120.8" r="0.6"/><circle cx="65.8" cy="117.2" r="0.6"/><circle cx="67.0" cy="119.0" r="0.6"/><circle cx="45.8" cy="127.4" r="0.6"/><circle cx="82.7" cy="117.7" r="0.6"/><circle cx="57.4" cy="123.7" r="0.6"/><circle cx="72.0" cy="120.6" r="0.6"/><circle cx="56.3" cy="121.7" r="0.6"/><circle cx="74.0" cy="126.8" r="0.6"/><circle cx="71.7" cy="118.8" r="0.6"/><circle cx="53.9" cy="116.3" r="0.6"/><circle cx="50.2" cy="127.5" r="0.6"/><circle cx="54.6" cy="130.8" r="0.6"/><circle cx="62.0" cy="125.6" r="0.6"/><circle cx="59.7" cy="126.4" r="0.6"/><circle cx="59.7" cy="119.6" r="0.6"/><circle cx="54.7" cy="115.4" r="0.6"/><circle cx="72.7" cy="123.1" r="0.6"/><circle cx="69.8" cy="125.9" r="0.6"/><circle cx="80.3" cy="124.8" r="0.6"/><circle cx="56.4" cy="124.8" r="0.6"/><circle cx="78.7" cy="115.4" r="0.6"/><circle cx="67.2" cy="118.4" r="0.6"/><circle cx="64.4" cy="123.4" r="0.6"/><circle cx="77.5" cy="116.0" r="0.6"/><circle cx="73.6" cy="122.8" r="0.6"/><circle cx="60.4" cy="124.3" r="0.6"/><circle cx="80.8" cy="124.9" r="0.6"/><circle cx="79.1" cy="119.7" r="0.6"/><circle cx="67.1" cy="115.1" r="0.6"/><circle cx="74.7" cy="114.2" r="0.6"/><circle cx="51.0" cy="126.8" r="0.6"/><circle cx="45.9" cy="131.5" r="0.6"/><circle cx="53.2" cy="120.4" r="0.6"/><circle cx="68.3" cy="115.6" r="0.6"/><circle cx="51.4" cy="127.7" r="0.6"/><circle cx="56.5" cy="127.6" r="0.6"/><circle cx="75.9" cy="125.4" r="0.6"/><circle cx="83.6" cy="118.7" r="0.6"/><circle cx="77.5" cy="121.7" r="0.6"/><circle cx="80.5" cy="110.8" r="0.6"/><circle cx="68.9" cy="124.2" r="0.6"/><circle cx="65.3" cy="123.9" r="0.6"/><circle cx="61.3" cy="127.7" r="0.6"/><circle cx="75.8" cy="124.0" r="0.6"/></g>
<g fill="#20C8BB" opacity="1.0"><circle cx="47.6" cy="128.7" r="0.7"/><circle cx="52.7" cy="134.6" r="0.7"/><circle cx="56.5" cy="129.4" r="0.7"/><circle cx="55.1" cy="134.1" r="0.7"/><circle cx="52.0" cy="134.4" r="0.7"/><circle cx="48.6" cy="130.5" r="0.7"/><circle cx="52.4" cy="133.5" r="0.7"/><circle cx="51.7" cy="130.3" r="0.7"/><circle cx="56.5" cy="130.9" r="0.7"/><circle cx="51.3" cy="129.7" r="0.7"/><circle cx="52.1" cy="133.3" r="0.7"/><circle cx="50.7" cy="133.0" r="0.7"/><circle cx="52.2" cy="128.1" r="0.7"/><circle cx="57.6" cy="130.2" r="0.7"/><circle cx="52.8" cy="135.2" r="0.7"/><circle cx="48.9" cy="128.5" r="0.7"/><circle cx="48.9" cy="129.1" r="0.7"/><circle cx="56.3" cy="131.9" r="0.7"/><circle cx="47.0" cy="130.0" r="0.7"/><circle cx="52.4" cy="129.3" r="0.7"/><circle cx="50.0" cy="134.8" r="0.7"/><circle cx="51.6" cy="129.7" r="0.7"/><circle cx="53.4" cy="128.8" r="0.7"/><circle cx="52.5" cy="132.9" r="0.7"/><circle cx="47.5" cy="132.1" r="0.7"/></g>
<g fill="#20C8BB" opacity="1.0"><circle cx="68.8" cy="129.4" r="0.7"/><circle cx="75.5" cy="131.1" r="0.7"/><circle cx="75.4" cy="123.8" r="0.7"/><circle cx="66.1" cy="129.0" r="0.7"/><circle cx="79.8" cy="122.6" r="0.7"/><circle cx="71.2" cy="124.8" r="0.7"/><circle cx="72.3" cy="130.7" r="0.7"/><circle cx="74.3" cy="129.4" r="0.7"/><circle cx="78.8" cy="124.8" r="0.7"/><circle cx="75.6" cy="125.8" r="0.7"/><circle cx="72.4" cy="127.3" r="0.7"/><circle cx="76.7" cy="123.7" r="0.7"/><circle cx="80.4" cy="123.6" r="0.7"/><circle cx="68.9" cy="130.5" r="0.7"/><circle cx="83.7" cy="125.7" r="0.7"/><circle cx="82.9" cy="122.4" r="0.7"/><circle cx="83.0" cy="124.0" r="0.7"/><circle cx="62.8" cy="129.6" r="0.7"/><circle cx="65.6" cy="129.5" r="0.7"/><circle cx="62.2" cy="123.2" r="0.7"/><circle cx="69.9" cy="122.8" r="0.7"/><circle cx="72.4" cy="125.5" r="0.7"/><circle cx="78.2" cy="126.9" r="0.7"/><circle cx="83.2" cy="130.4" r="0.7"/><circle cx="65.8" cy="131.2" r="0.7"/><circle cx="81.7" cy="127.6" r="0.7"/><circle cx="73.6" cy="123.7" r="0.7"/><circle cx="69.1" cy="124.2" r="0.7"/><circle cx="66.3" cy="128.1" r="0.7"/><circle cx="69.1" cy="129.7" r="0.7"/><circle cx="74.6" cy="130.3" r="0.7"/><circle cx="63.9" cy="130.5" r="0.7"/><circle cx="73.2" cy="128.3" r="0.7"/><circle cx="67.2" cy="129.0" r="0.7"/><circle cx="70.9" cy="129.2" r="0.7"/></g>
<polygon points="35.00,153.60 46.20,153.20 46.20,158.40 35.00,158.40" fill="#F26A6A" />
<g fill="#F26A6A"><circle cx="41.7" cy="153.3" r="0.6"/><circle cx="41.2" cy="157.3" r="0.6"/><circle cx="40.3" cy="155.6" r="0.6"/><circle cx="35.0" cy="155.9" r="0.6"/><circle cx="41.8" cy="154.1" r="0.6"/><circle cx="37.1" cy="158.6" r="0.6"/><circle cx="45.5" cy="157.4" r="0.6"/><circle cx="46.2" cy="156.7" r="0.6"/><circle cx="40.8" cy="155.8" r="0.6"/><circle cx="37.9" cy="158.7" r="0.6"/><circle cx="35.0" cy="158.0" r="0.6"/><circle cx="38.1" cy="157.3" r="0.6"/><circle cx="37.3" cy="157.9" r="0.6"/><circle cx="41.6" cy="157.4" r="0.6"/><circle cx="39.3" cy="155.8" r="0.6"/><circle cx="36.9" cy="154.1" r="0.6"/><circle cx="45.1" cy="157.2" r="0.6"/><circle cx="40.7" cy="156.3" r="0.6"/><circle cx="36.8" cy="155.6" r="0.6"/><circle cx="37.4" cy="158.1" r="0.6"/><circle cx="44.5" cy="157.9" r="0.6"/><circle cx="37.4" cy="158.8" r="0.6"/><circle cx="43.0" cy="153.1" r="0.6"/><circle cx="36.6" cy="157.3" r="0.6"/><circle cx="44.3" cy="156.4" r="0.6"/><circle cx="38.5" cy="153.2" r="0.6"/><circle cx="43.7" cy="156.2" r="0.6"/><circle cx="37.2" cy="155.6" r="0.6"/><circle cx="34.7" cy="155.4" r="0.6"/><circle cx="45.7" cy="153.2" r="0.6"/><circle cx="44.4" cy="154.5" r="0.6"/><circle cx="38.1" cy="155.3" r="0.6"/><circle cx="42.6" cy="158.5" r="0.6"/><circle cx="40.7" cy="158.2" r="0.6"/><circle cx="41.9" cy="157.8" r="0.6"/><circle cx="37.6" cy="156.6" r="0.6"/><circle cx="40.0" cy="156.1" r="0.6"/><circle cx="45.7" cy="154.3" r="0.6"/><circle cx="46.1" cy="153.2" r="0.6"/></g>
<g fill="#F26A6A" opacity="1.0"><circle cx="43.1" cy="153.1" r="0.6"/><circle cx="43.8" cy="153.5" r="0.6"/><circle cx="37.7" cy="150.7" r="0.6"/><circle cx="37.2" cy="152.0" r="0.6"/><circle cx="35.1" cy="151.3" r="0.6"/><circle cx="39.3" cy="152.5" r="0.6"/><circle cx="36.4" cy="150.9" r="0.6"/><circle cx="38.0" cy="150.8" r="0.6"/></g>
<polygon points="46.30,156.20 71.60,121.50 71.60,124.50 61.90,134.80 46.30,158.30" fill="#F26A6A" opacity="0.12"/>
<path d="M46.0,156.3L71.1,125.0M46.0,157.9L65.0,133.6M46.0,156.7L62.0,125.3M46.0,156.5L64.0,123.4M46.0,156.1L64.8,123.6M46.0,157.5L66.7,131.4M46.0,156.5L65.3,125.4M46.0,156.1L63.7,121.0M46.0,157.2L66.2,126.4M46.0,156.6L69.4,123.7M46.0,156.0L69.4,121.0M46.0,157.2L65.7,127.4M46.0,157.1L66.3,124.7M46.0,157.8L70.3,131.4M46.0,156.6L68.6,123.9M46.0,158.3L67.8,134.5M46.0,157.6L61.9,131.3M46.0,156.9L63.5,125.6M46.0,156.7L68.0,127.1M46.0,157.1L62.6,129.6M46.0,158.1L71.4,133.5M46.0,156.5L69.7,122.7" stroke="#F26A6A" stroke-width="0.4" opacity="0.80" fill="none"/>
<polygon points="62.00,121.50 71.70,120.50 71.70,134.50 62.00,134.50" fill="#F26A6A" opacity="0.45"/>
<g fill="#F26A6A" opacity="1.0"><circle cx="66.1" cy="109.4" r="0.65"/><circle cx="68.1" cy="117.6" r="0.65"/><circle cx="63.7" cy="125.7" r="0.65"/><circle cx="64.5" cy="106.2" r="0.65"/><circle cx="70.1" cy="127.7" r="0.65"/><circle cx="70.5" cy="114.2" r="0.65"/><circle cx="63.9" cy="126.0" r="0.65"/><circle cx="62.6" cy="134.0" r="0.65"/><circle cx="68.1" cy="121.7" r="0.65"/><circle cx="61.6" cy="113.9" r="0.65"/><circle cx="65.6" cy="134.4" r="0.65"/><circle cx="62.6" cy="123.0" r="0.65"/><circle cx="61.8" cy="134.2" r="0.65"/><circle cx="69.1" cy="129.5" r="0.65"/><circle cx="69.1" cy="110.8" r="0.65"/><circle cx="63.6" cy="106.7" r="0.65"/><circle cx="67.0" cy="107.9" r="0.65"/><circle cx="63.0" cy="110.6" r="0.65"/><circle cx="70.9" cy="128.8" r="0.65"/><circle cx="64.1" cy="134.1" r="0.65"/><circle cx="62.7" cy="109.6" r="0.65"/><circle cx="65.1" cy="129.3" r="0.65"/><circle cx="62.1" cy="128.8" r="0.65"/><circle cx="66.9" cy="129.1" r="0.65"/><circle cx="64.6" cy="106.7" r="0.65"/><circle cx="62.1" cy="126.8" r="0.65"/><circle cx="66.5" cy="128.0" r="0.65"/><circle cx="63.1" cy="113.7" r="0.65"/><circle cx="63.3" cy="130.6" r="0.65"/><circle cx="68.6" cy="110.1" r="0.65"/><circle cx="68.8" cy="106.6" r="0.65"/><circle cx="66.0" cy="113.1" r="0.65"/><circle cx="69.3" cy="126.7" r="0.65"/><circle cx="68.4" cy="111.3" r="0.65"/><circle cx="61.5" cy="124.4" r="0.65"/><circle cx="68.5" cy="105.8" r="0.65"/><circle cx="70.1" cy="132.0" r="0.65"/><circle cx="64.9" cy="120.8" r="0.65"/><circle cx="68.0" cy="132.8" r="0.65"/><circle cx="68.0" cy="120.7" r="0.65"/><circle cx="69.3" cy="120.0" r="0.65"/><circle cx="61.4" cy="121.6" r="0.65"/><circle cx="65.5" cy="115.4" r="0.65"/><circle cx="65.3" cy="112.0" r="0.65"/><circle cx="64.4" cy="127.5" r="0.65"/><circle cx="70.6" cy="119.0" r="0.65"/><circle cx="70.1" cy="109.2" r="0.65"/><circle cx="66.6" cy="127.5" r="0.65"/><circle cx="69.4" cy="116.9" r="0.65"/><circle cx="62.8" cy="133.8" r="0.65"/><circle cx="67.6" cy="124.8" r="0.65"/><circle cx="64.7" cy="108.8" r="0.65"/><circle cx="67.2" cy="117.4" r="0.65"/><circle cx="70.6" cy="125.1" r="0.65"/><circle cx="69.2" cy="122.3" r="0.65"/><circle cx="69.1" cy="109.5" r="0.65"/><circle cx="71.8" cy="122.6" r="0.65"/><circle cx="67.5" cy="111.1" r="0.65"/><circle cx="62.0" cy="126.3" r="0.65"/><circle cx="68.8" cy="125.2" r="0.65"/><circle cx="63.8" cy="119.9" r="0.65"/><circle cx="69.3" cy="124.4" r="0.65"/><circle cx="70.8" cy="108.1" r="0.65"/><circle cx="69.4" cy="105.9" r="0.65"/><circle cx="67.8" cy="121.3" r="0.65"/><circle cx="61.8" cy="117.9" r="0.65"/><circle cx="68.2" cy="131.1" r="0.65"/><circle cx="61.8" cy="120.5" r="0.65"/><circle cx="69.6" cy="108.9" r="0.65"/><circle cx="70.6" cy="133.2" r="0.65"/><circle cx="64.7" cy="111.7" r="0.65"/><circle cx="62.6" cy="112.0" r="0.65"/><circle cx="65.5" cy="126.4" r="0.65"/><circle cx="71.1" cy="122.0" r="0.65"/><circle cx="71.3" cy="118.1" r="0.65"/><circle cx="68.1" cy="105.5" r="0.65"/><circle cx="65.5" cy="106.2" r="0.65"/><circle cx="62.4" cy="129.4" r="0.65"/><circle cx="62.2" cy="114.3" r="0.65"/><circle cx="66.7" cy="121.0" r="0.65"/><circle cx="61.3" cy="108.8" r="0.65"/><circle cx="68.3" cy="117.4" r="0.65"/><circle cx="62.0" cy="119.6" r="0.65"/><circle cx="65.0" cy="135.0" r="0.65"/><circle cx="61.5" cy="110.8" r="0.65"/><circle cx="61.8" cy="121.8" r="0.65"/><circle cx="71.4" cy="128.4" r="0.65"/><circle cx="62.2" cy="121.4" r="0.65"/><circle cx="64.9" cy="134.3" r="0.65"/><circle cx="68.6" cy="123.3" r="0.65"/><circle cx="63.8" cy="118.4" r="0.65"/><circle cx="66.7" cy="116.7" r="0.65"/><circle cx="67.1" cy="108.2" r="0.65"/><circle cx="65.5" cy="134.6" r="0.65"/><circle cx="65.3" cy="120.4" r="0.65"/><circle cx="69.1" cy="129.5" r="0.65"/><circle cx="69.0" cy="116.7" r="0.65"/><circle cx="68.7" cy="111.4" r="0.65"/><circle cx="67.7" cy="106.0" r="0.65"/><circle cx="63.1" cy="110.7" r="0.65"/><circle cx="64.8" cy="127.3" r="0.65"/><circle cx="61.2" cy="131.4" r="0.65"/><circle cx="62.0" cy="133.5" r="0.65"/><circle cx="71.2" cy="123.6" r="0.65"/><circle cx="70.1" cy="133.3" r="0.65"/><circle cx="65.8" cy="130.7" r="0.65"/><circle cx="61.4" cy="128.5" r="0.65"/><circle cx="68.0" cy="128.4" r="0.65"/><circle cx="62.6" cy="108.0" r="0.65"/><circle cx="66.6" cy="123.4" r="0.65"/><circle cx="68.4" cy="110.8" r="0.65"/><circle cx="67.1" cy="134.1" r="0.65"/><circle cx="63.7" cy="129.7" r="0.65"/><circle cx="71.4" cy="125.3" r="0.65"/><circle cx="65.8" cy="117.8" r="0.65"/><circle cx="66.0" cy="109.2" r="0.65"/><circle cx="61.8" cy="113.8" r="0.65"/><circle cx="62.9" cy="132.0" r="0.65"/><circle cx="64.9" cy="131.3" r="0.65"/><circle cx="67.1" cy="132.0" r="0.65"/><circle cx="70.7" cy="126.5" r="0.65"/><circle cx="65.8" cy="112.7" r="0.65"/><circle cx="67.1" cy="114.7" r="0.65"/><circle cx="69.9" cy="106.8" r="0.65"/><circle cx="67.9" cy="115.5" r="0.65"/><circle cx="65.5" cy="121.5" r="0.65"/><circle cx="71.6" cy="134.8" r="0.65"/><circle cx="64.9" cy="133.7" r="0.65"/><circle cx="71.3" cy="121.0" r="0.65"/><circle cx="67.1" cy="111.3" r="0.65"/><circle cx="69.5" cy="119.8" r="0.65"/><circle cx="69.2" cy="132.7" r="0.65"/><circle cx="67.7" cy="126.0" r="0.65"/><circle cx="66.9" cy="109.4" r="0.65"/><circle cx="66.0" cy="107.3" r="0.65"/><circle cx="63.0" cy="134.4" r="0.65"/><circle cx="65.1" cy="109.5" r="0.65"/><circle cx="65.7" cy="107.3" r="0.65"/><circle cx="67.6" cy="112.2" r="0.65"/><circle cx="63.3" cy="124.3" r="0.65"/><circle cx="71.0" cy="105.9" r="0.65"/><circle cx="68.7" cy="122.7" r="0.65"/><circle cx="66.3" cy="117.9" r="0.65"/><circle cx="61.1" cy="115.9" r="0.65"/><circle cx="66.7" cy="115.4" r="0.65"/><circle cx="71.7" cy="115.5" r="0.65"/><circle cx="70.1" cy="129.4" r="0.65"/><circle cx="69.6" cy="120.0" r="0.65"/><circle cx="66.4" cy="130.4" r="0.65"/><circle cx="62.3" cy="112.1" r="0.65"/></g>
<polygon points="97.40,124.50 100.00,123.00 106.00,122.90 109.00,124.50 109.00,146.60 97.40,146.60" fill="#F26A6A" />
<g fill="#F26A6A"><circle cx="109.9" cy="146.3" r="0.6"/><circle cx="103.1" cy="124.1" r="0.6"/><circle cx="103.5" cy="125.8" r="0.6"/><circle cx="107.5" cy="130.3" r="0.6"/><circle cx="108.4" cy="124.0" r="0.6"/><circle cx="96.5" cy="134.3" r="0.6"/><circle cx="97.6" cy="127.8" r="0.6"/><circle cx="104.3" cy="124.8" r="0.6"/><circle cx="98.9" cy="128.1" r="0.6"/><circle cx="105.1" cy="137.3" r="0.6"/><circle cx="107.3" cy="135.5" r="0.6"/><circle cx="105.7" cy="146.8" r="0.6"/><circle cx="103.0" cy="125.1" r="0.6"/><circle cx="102.2" cy="143.9" r="0.6"/><circle cx="97.3" cy="146.1" r="0.6"/><circle cx="109.5" cy="146.4" r="0.6"/><circle cx="104.6" cy="127.3" r="0.6"/><circle cx="106.8" cy="133.4" r="0.6"/><circle cx="104.1" cy="128.4" r="0.6"/><circle cx="108.8" cy="137.9" r="0.6"/><circle cx="107.9" cy="133.0" r="0.6"/><circle cx="102.2" cy="130.9" r="0.6"/><circle cx="108.9" cy="129.3" r="0.6"/><circle cx="105.9" cy="142.2" r="0.6"/><circle cx="107.1" cy="144.0" r="0.6"/><circle cx="109.3" cy="133.0" r="0.6"/><circle cx="101.4" cy="135.5" r="0.6"/><circle cx="100.2" cy="122.9" r="0.6"/><circle cx="106.4" cy="140.0" r="0.6"/><circle cx="104.0" cy="135.4" r="0.6"/><circle cx="110.0" cy="145.1" r="0.6"/><circle cx="105.5" cy="135.0" r="0.6"/><circle cx="108.2" cy="138.5" r="0.6"/><circle cx="105.9" cy="145.9" r="0.6"/><circle cx="108.0" cy="129.9" r="0.6"/><circle cx="101.6" cy="135.4" r="0.6"/><circle cx="106.4" cy="130.5" r="0.6"/><circle cx="106.7" cy="131.6" r="0.6"/><circle cx="109.2" cy="131.2" r="0.6"/><circle cx="103.0" cy="143.9" r="0.6"/><circle cx="100.0" cy="131.9" r="0.6"/><circle cx="106.6" cy="132.4" r="0.6"/><circle cx="101.5" cy="136.7" r="0.6"/><circle cx="105.4" cy="126.0" r="0.6"/><circle cx="99.8" cy="136.5" r="0.6"/><circle cx="103.5" cy="141.5" r="0.6"/><circle cx="97.0" cy="139.0" r="0.6"/><circle cx="107.0" cy="146.5" r="0.6"/><circle cx="108.4" cy="127.5" r="0.6"/><circle cx="102.5" cy="134.7" r="0.6"/><circle cx="99.2" cy="139.9" r="0.6"/><circle cx="100.0" cy="129.2" r="0.6"/><circle cx="97.7" cy="127.4" r="0.6"/><circle cx="102.4" cy="128.9" r="0.6"/><circle cx="108.9" cy="123.2" r="0.6"/><circle cx="97.5" cy="129.6" r="0.6"/><circle cx="102.2" cy="131.1" r="0.6"/><circle cx="105.3" cy="124.9" r="0.6"/><circle cx="108.9" cy="145.1" r="0.6"/><circle cx="98.3" cy="145.6" r="0.6"/><circle cx="107.1" cy="123.1" r="0.6"/><circle cx="101.2" cy="130.1" r="0.6"/><circle cx="110.1" cy="131.1" r="0.6"/><circle cx="100.4" cy="140.8" r="0.6"/><circle cx="102.7" cy="144.3" r="0.6"/><circle cx="102.0" cy="142.9" r="0.6"/><circle cx="107.0" cy="140.3" r="0.6"/><circle cx="109.4" cy="146.9" r="0.6"/><circle cx="105.8" cy="139.4" r="0.6"/><circle cx="97.2" cy="143.7" r="0.6"/><circle cx="102.9" cy="136.4" r="0.6"/><circle cx="103.1" cy="134.1" r="0.6"/><circle cx="106.7" cy="141.1" r="0.6"/><circle cx="107.3" cy="131.4" r="0.6"/><circle cx="101.4" cy="145.5" r="0.6"/><circle cx="107.3" cy="131.6" r="0.6"/><circle cx="102.2" cy="137.6" r="0.6"/><circle cx="103.9" cy="146.3" r="0.6"/><circle cx="109.0" cy="136.7" r="0.6"/><circle cx="106.5" cy="140.6" r="0.6"/><circle cx="102.0" cy="124.5" r="0.6"/><circle cx="108.8" cy="140.7" r="0.6"/><circle cx="103.2" cy="135.1" r="0.6"/><circle cx="103.0" cy="133.6" r="0.6"/><circle cx="98.4" cy="142.0" r="0.6"/><circle cx="104.6" cy="136.4" r="0.6"/><circle cx="100.3" cy="139.5" r="0.6"/><circle cx="107.4" cy="134.6" r="0.6"/><circle cx="110.5" cy="128.8" r="0.6"/><circle cx="109.1" cy="135.4" r="0.6"/><circle cx="108.1" cy="145.3" r="0.6"/><circle cx="108.1" cy="131.1" r="0.6"/><circle cx="101.2" cy="130.5" r="0.6"/><circle cx="107.5" cy="136.3" r="0.6"/><circle cx="100.2" cy="141.9" r="0.6"/><circle cx="101.5" cy="134.7" r="0.6"/><circle cx="99.5" cy="144.2" r="0.6"/><circle cx="102.4" cy="138.5" r="0.6"/><circle cx="98.5" cy="135.9" r="0.6"/><circle cx="99.7" cy="141.2" r="0.6"/><circle cx="106.8" cy="141.5" r="0.6"/><circle cx="104.4" cy="139.7" r="0.6"/><circle cx="109.2" cy="145.4" r="0.6"/><circle cx="104.3" cy="143.6" r="0.6"/><circle cx="108.3" cy="129.7" r="0.6"/><circle cx="96.4" cy="124.2" r="0.6"/><circle cx="103.6" cy="146.6" r="0.6"/><circle cx="100.1" cy="131.3" r="0.6"/><circle cx="101.0" cy="139.3" r="0.6"/><circle cx="98.2" cy="132.3" r="0.6"/><circle cx="109.3" cy="141.6" r="0.6"/><circle cx="104.4" cy="135.0" r="0.6"/><circle cx="103.2" cy="132.0" r="0.6"/><circle cx="100.3" cy="132.2" r="0.6"/><circle cx="101.7" cy="127.0" r="0.6"/><circle cx="107.5" cy="126.4" r="0.6"/><circle cx="100.0" cy="136.9" r="0.6"/><circle cx="97.5" cy="134.4" r="0.6"/><circle cx="105.4" cy="139.5" r="0.6"/><circle cx="99.2" cy="129.5" r="0.6"/><circle cx="109.0" cy="144.8" r="0.6"/><circle cx="101.6" cy="133.6" r="0.6"/><circle cx="102.6" cy="146.9" r="0.6"/><circle cx="101.6" cy="126.6" r="0.6"/><circle cx="100.3" cy="134.4" r="0.6"/><circle cx="106.0" cy="135.1" r="0.6"/><circle cx="106.5" cy="141.3" r="0.6"/><circle cx="99.5" cy="137.4" r="0.6"/><circle cx="109.7" cy="140.7" r="0.6"/></g>
<polygon points="123.50,104.20 134.00,104.20 134.00,131.00 123.50,131.00" fill="#F26A6A" />
<g fill="#F26A6A"><circle cx="126.9" cy="104.9" r="0.6"/><circle cx="132.5" cy="106.1" r="0.6"/><circle cx="131.3" cy="116.7" r="0.6"/><circle cx="126.3" cy="118.7" r="0.6"/><circle cx="128.1" cy="127.1" r="0.6"/><circle cx="133.1" cy="110.2" r="0.6"/><circle cx="129.3" cy="120.1" r="0.6"/><circle cx="133.0" cy="116.0" r="0.6"/><circle cx="133.6" cy="119.3" r="0.6"/><circle cx="132.0" cy="121.3" r="0.6"/><circle cx="122.7" cy="112.6" r="0.6"/><circle cx="130.6" cy="109.2" r="0.6"/><circle cx="123.8" cy="107.8" r="0.6"/><circle cx="128.1" cy="116.5" r="0.6"/><circle cx="129.1" cy="110.2" r="0.6"/><circle cx="122.7" cy="107.1" r="0.6"/><circle cx="124.2" cy="116.5" r="0.6"/><circle cx="132.0" cy="128.9" r="0.6"/><circle cx="122.9" cy="131.6" r="0.6"/><circle cx="130.8" cy="125.3" r="0.6"/><circle cx="134.1" cy="107.0" r="0.6"/><circle cx="127.9" cy="118.0" r="0.6"/><circle cx="127.1" cy="110.3" r="0.6"/><circle cx="124.7" cy="106.8" r="0.6"/><circle cx="126.1" cy="113.2" r="0.6"/><circle cx="131.4" cy="115.6" r="0.6"/><circle cx="126.9" cy="111.3" r="0.6"/><circle cx="127.7" cy="131.8" r="0.6"/><circle cx="122.5" cy="129.6" r="0.6"/><circle cx="132.7" cy="120.5" r="0.6"/><circle cx="133.3" cy="115.5" r="0.6"/><circle cx="129.5" cy="130.9" r="0.6"/><circle cx="127.1" cy="123.3" r="0.6"/><circle cx="132.3" cy="108.4" r="0.6"/><circle cx="122.8" cy="118.9" r="0.6"/><circle cx="133.5" cy="115.1" r="0.6"/><circle cx="132.0" cy="115.4" r="0.6"/><circle cx="127.7" cy="120.8" r="0.6"/><circle cx="134.1" cy="112.3" r="0.6"/><circle cx="131.0" cy="123.2" r="0.6"/><circle cx="132.9" cy="127.0" r="0.6"/><circle cx="133.2" cy="106.4" r="0.6"/><circle cx="131.0" cy="105.4" r="0.6"/><circle cx="130.7" cy="111.8" r="0.6"/><circle cx="125.7" cy="117.2" r="0.6"/><circle cx="131.8" cy="119.7" r="0.6"/><circle cx="134.0" cy="125.1" r="0.6"/><circle cx="123.5" cy="121.9" r="0.6"/><circle cx="127.2" cy="127.3" r="0.6"/><circle cx="132.1" cy="116.0" r="0.6"/><circle cx="123.0" cy="129.7" r="0.6"/><circle cx="123.5" cy="122.4" r="0.6"/><circle cx="132.2" cy="123.2" r="0.6"/><circle cx="133.2" cy="130.8" r="0.6"/><circle cx="123.0" cy="113.8" r="0.6"/><circle cx="126.9" cy="107.6" r="0.6"/><circle cx="123.8" cy="116.8" r="0.6"/><circle cx="131.9" cy="109.0" r="0.6"/><circle cx="123.4" cy="121.5" r="0.6"/><circle cx="124.6" cy="121.4" r="0.6"/><circle cx="130.3" cy="108.2" r="0.6"/><circle cx="133.4" cy="121.1" r="0.6"/><circle cx="126.5" cy="129.0" r="0.6"/><circle cx="128.4" cy="118.0" r="0.6"/><circle cx="128.1" cy="111.4" r="0.6"/><circle cx="132.3" cy="108.5" r="0.6"/><circle cx="123.0" cy="112.1" r="0.6"/><circle cx="132.2" cy="117.8" r="0.6"/><circle cx="123.7" cy="122.8" r="0.6"/><circle cx="134.2" cy="104.2" r="0.6"/><circle cx="130.1" cy="106.2" r="0.6"/><circle cx="127.0" cy="124.7" r="0.6"/><circle cx="131.4" cy="108.0" r="0.6"/><circle cx="134.4" cy="107.8" r="0.6"/><circle cx="130.3" cy="132.5" r="0.6"/><circle cx="131.4" cy="116.4" r="0.6"/><circle cx="133.4" cy="105.5" r="0.6"/><circle cx="126.2" cy="125.3" r="0.6"/><circle cx="127.6" cy="107.2" r="0.6"/><circle cx="131.5" cy="119.5" r="0.6"/><circle cx="133.0" cy="110.6" r="0.6"/><circle cx="126.2" cy="131.3" r="0.6"/><circle cx="127.0" cy="116.3" r="0.6"/><circle cx="132.9" cy="115.1" r="0.6"/><circle cx="124.9" cy="118.2" r="0.6"/><circle cx="124.2" cy="111.3" r="0.6"/><circle cx="129.7" cy="121.2" r="0.6"/><circle cx="132.8" cy="119.0" r="0.6"/><circle cx="123.1" cy="112.5" r="0.6"/><circle cx="124.1" cy="128.1" r="0.6"/><circle cx="130.1" cy="113.9" r="0.6"/><circle cx="133.8" cy="127.5" r="0.6"/><circle cx="132.3" cy="110.9" r="0.6"/><circle cx="129.1" cy="128.0" r="0.6"/><circle cx="134.1" cy="122.7" r="0.6"/><circle cx="127.5" cy="114.0" r="0.6"/><circle cx="131.7" cy="115.9" r="0.6"/><circle cx="133.9" cy="105.2" r="0.6"/><circle cx="127.4" cy="109.3" r="0.6"/><circle cx="127.8" cy="120.6" r="0.6"/><circle cx="132.2" cy="110.3" r="0.6"/><circle cx="127.6" cy="123.9" r="0.6"/><circle cx="126.8" cy="117.7" r="0.6"/><circle cx="127.8" cy="125.0" r="0.6"/><circle cx="125.1" cy="114.2" r="0.6"/><circle cx="126.9" cy="108.1" r="0.6"/><circle cx="122.8" cy="129.8" r="0.6"/><circle cx="129.5" cy="119.0" r="0.6"/><circle cx="130.5" cy="129.1" r="0.6"/><circle cx="130.1" cy="125.2" r="0.6"/><circle cx="126.3" cy="123.3" r="0.6"/><circle cx="134.4" cy="107.4" r="0.6"/><circle cx="131.4" cy="129.8" r="0.6"/><circle cx="132.7" cy="105.9" r="0.6"/><circle cx="126.4" cy="123.4" r="0.6"/><circle cx="124.5" cy="110.7" r="0.6"/><circle cx="131.7" cy="130.0" r="0.6"/><circle cx="122.8" cy="126.9" r="0.6"/><circle cx="131.7" cy="117.3" r="0.6"/><circle cx="128.2" cy="129.1" r="0.6"/><circle cx="129.2" cy="132.1" r="0.6"/><circle cx="127.4" cy="118.6" r="0.6"/><circle cx="133.8" cy="107.1" r="0.6"/><circle cx="125.6" cy="114.1" r="0.6"/><circle cx="125.9" cy="107.7" r="0.6"/><circle cx="130.5" cy="105.0" r="0.6"/><circle cx="123.4" cy="109.3" r="0.6"/><circle cx="126.9" cy="117.3" r="0.6"/><circle cx="123.3" cy="119.8" r="0.6"/><circle cx="125.4" cy="113.3" r="0.6"/><circle cx="134.1" cy="125.9" r="0.6"/><circle cx="127.8" cy="114.3" r="0.6"/><circle cx="123.4" cy="115.1" r="0.6"/><circle cx="125.5" cy="118.5" r="0.6"/><circle cx="129.5" cy="114.3" r="0.6"/><circle cx="126.5" cy="116.6" r="0.6"/><circle cx="133.8" cy="113.6" r="0.6"/><circle cx="124.3" cy="118.9" r="0.6"/><circle cx="129.7" cy="112.8" r="0.6"/><circle cx="129.7" cy="121.2" r="0.6"/></g>
<g fill="#F26A6A" opacity="1.0"><circle cx="132.2" cy="133.2" r="0.6"/><circle cx="130.3" cy="131.5" r="0.6"/><circle cx="131.5" cy="132.6" r="0.6"/><circle cx="126.9" cy="135.0" r="0.6"/><circle cx="131.6" cy="133.4" r="0.6"/><circle cx="132.3" cy="133.5" r="0.6"/><circle cx="127.5" cy="134.8" r="0.6"/><circle cx="133.0" cy="133.4" r="0.6"/><circle cx="128.1" cy="132.5" r="0.6"/><circle cx="124.0" cy="134.4" r="0.6"/></g>
<polygon points="108.40,104.20 119.40,104.20 119.40,126.80 108.40,126.80" fill="#20C8BB" />
<g fill="#20C8BB"><circle cx="118.6" cy="117.9" r="0.6"/><circle cx="110.4" cy="118.3" r="0.6"/><circle cx="115.4" cy="125.8" r="0.6"/><circle cx="113.5" cy="114.0" r="0.6"/><circle cx="114.9" cy="108.3" r="0.6"/><circle cx="115.9" cy="128.0" r="0.6"/><circle cx="111.0" cy="105.3" r="0.6"/><circle cx="110.7" cy="121.8" r="0.6"/><circle cx="118.9" cy="118.9" r="0.6"/><circle cx="112.8" cy="123.8" r="0.6"/><circle cx="111.8" cy="115.4" r="0.6"/><circle cx="109.5" cy="120.0" r="0.6"/><circle cx="117.7" cy="106.0" r="0.6"/><circle cx="116.5" cy="116.4" r="0.6"/><circle cx="115.3" cy="116.1" r="0.6"/><circle cx="119.2" cy="107.4" r="0.6"/><circle cx="112.2" cy="120.7" r="0.6"/><circle cx="112.6" cy="127.0" r="0.6"/><circle cx="113.4" cy="121.0" r="0.6"/><circle cx="119.5" cy="111.2" r="0.6"/><circle cx="108.9" cy="105.8" r="0.6"/><circle cx="110.2" cy="114.0" r="0.6"/><circle cx="117.1" cy="121.6" r="0.6"/><circle cx="108.7" cy="103.8" r="0.6"/><circle cx="108.0" cy="121.1" r="0.6"/><circle cx="118.5" cy="115.7" r="0.6"/><circle cx="115.8" cy="115.8" r="0.6"/><circle cx="119.9" cy="112.3" r="0.6"/><circle cx="113.8" cy="115.2" r="0.6"/><circle cx="118.0" cy="109.1" r="0.6"/><circle cx="109.8" cy="109.9" r="0.6"/><circle cx="110.1" cy="121.3" r="0.6"/><circle cx="112.6" cy="114.7" r="0.6"/><circle cx="118.5" cy="126.9" r="0.6"/><circle cx="117.3" cy="116.7" r="0.6"/><circle cx="112.5" cy="104.3" r="0.6"/><circle cx="117.5" cy="110.8" r="0.6"/><circle cx="114.5" cy="125.7" r="0.6"/><circle cx="108.4" cy="113.7" r="0.6"/><circle cx="118.3" cy="113.4" r="0.6"/><circle cx="119.3" cy="110.3" r="0.6"/><circle cx="116.0" cy="111.2" r="0.6"/><circle cx="112.8" cy="124.0" r="0.6"/><circle cx="117.1" cy="117.4" r="0.6"/><circle cx="112.3" cy="106.4" r="0.6"/><circle cx="114.3" cy="115.0" r="0.6"/><circle cx="111.7" cy="113.8" r="0.6"/><circle cx="113.4" cy="121.2" r="0.6"/><circle cx="117.4" cy="115.8" r="0.6"/><circle cx="113.8" cy="117.6" r="0.6"/><circle cx="114.7" cy="105.3" r="0.6"/><circle cx="110.4" cy="121.0" r="0.6"/><circle cx="115.3" cy="122.6" r="0.6"/><circle cx="118.7" cy="116.1" r="0.6"/><circle cx="111.2" cy="116.9" r="0.6"/><circle cx="109.3" cy="104.4" r="0.6"/><circle cx="115.8" cy="113.0" r="0.6"/><circle cx="117.1" cy="112.1" r="0.6"/><circle cx="108.9" cy="118.3" r="0.6"/><circle cx="110.2" cy="119.8" r="0.6"/><circle cx="116.3" cy="108.1" r="0.6"/><circle cx="115.5" cy="112.4" r="0.6"/><circle cx="117.6" cy="120.1" r="0.6"/><circle cx="109.5" cy="108.9" r="0.6"/><circle cx="108.9" cy="108.7" r="0.6"/><circle cx="116.9" cy="109.3" r="0.6"/><circle cx="112.0" cy="110.2" r="0.6"/><circle cx="112.1" cy="116.6" r="0.6"/><circle cx="112.6" cy="125.2" r="0.6"/><circle cx="118.4" cy="126.2" r="0.6"/><circle cx="114.5" cy="112.1" r="0.6"/><circle cx="109.9" cy="118.3" r="0.6"/><circle cx="108.8" cy="122.6" r="0.6"/><circle cx="118.2" cy="122.2" r="0.6"/><circle cx="113.2" cy="107.9" r="0.6"/><circle cx="116.7" cy="112.2" r="0.6"/><circle cx="112.0" cy="109.5" r="0.6"/><circle cx="117.6" cy="113.8" r="0.6"/><circle cx="119.2" cy="106.6" r="0.6"/><circle cx="109.0" cy="117.0" r="0.6"/><circle cx="118.6" cy="113.5" r="0.6"/><circle cx="110.8" cy="125.8" r="0.6"/><circle cx="119.9" cy="106.2" r="0.6"/><circle cx="118.6" cy="110.6" r="0.6"/><circle cx="109.8" cy="109.3" r="0.6"/><circle cx="109.3" cy="122.9" r="0.6"/><circle cx="112.8" cy="106.0" r="0.6"/><circle cx="111.0" cy="105.3" r="0.6"/><circle cx="114.7" cy="109.6" r="0.6"/><circle cx="117.1" cy="126.3" r="0.6"/><circle cx="115.1" cy="108.3" r="0.6"/><circle cx="115.0" cy="110.5" r="0.6"/><circle cx="114.5" cy="103.7" r="0.6"/><circle cx="112.7" cy="106.4" r="0.6"/><circle cx="115.2" cy="118.7" r="0.6"/><circle cx="115.4" cy="122.5" r="0.6"/><circle cx="119.2" cy="126.6" r="0.6"/><circle cx="118.6" cy="116.8" r="0.6"/><circle cx="109.1" cy="115.0" r="0.6"/><circle cx="118.1" cy="125.7" r="0.6"/><circle cx="120.2" cy="112.2" r="0.6"/><circle cx="112.9" cy="116.6" r="0.6"/><circle cx="109.5" cy="124.6" r="0.6"/><circle cx="108.7" cy="116.0" r="0.6"/><circle cx="110.0" cy="127.3" r="0.6"/><circle cx="108.9" cy="117.9" r="0.6"/><circle cx="115.4" cy="126.4" r="0.6"/><circle cx="107.5" cy="116.5" r="0.6"/><circle cx="112.4" cy="112.8" r="0.6"/><circle cx="110.9" cy="120.5" r="0.6"/><circle cx="110.8" cy="126.1" r="0.6"/><circle cx="111.1" cy="107.6" r="0.6"/><circle cx="116.6" cy="112.0" r="0.6"/><circle cx="115.3" cy="111.3" r="0.6"/><circle cx="118.4" cy="125.0" r="0.6"/><circle cx="110.0" cy="113.6" r="0.6"/><circle cx="111.2" cy="127.3" r="0.6"/><circle cx="119.7" cy="104.1" r="0.6"/><circle cx="110.7" cy="122.5" r="0.6"/><circle cx="109.8" cy="112.7" r="0.6"/><circle cx="114.9" cy="126.3" r="0.6"/><circle cx="113.2" cy="106.9" r="0.6"/><circle cx="119.2" cy="109.3" r="0.6"/><circle cx="118.2" cy="117.3" r="0.6"/><circle cx="120.1" cy="114.0" r="0.6"/><circle cx="119.7" cy="123.7" r="0.6"/><circle cx="110.9" cy="105.4" r="0.6"/></g>
<polygon points="133.40,142.90 146.00,142.90 146.00,158.20 133.40,158.20" fill="#20C8BB" />
<g fill="#20C8BB"><circle cx="136.0" cy="144.9" r="0.6"/><circle cx="136.8" cy="145.3" r="0.6"/><circle cx="137.6" cy="141.4" r="0.6"/><circle cx="140.3" cy="145.3" r="0.6"/><circle cx="138.3" cy="155.9" r="0.6"/><circle cx="135.4" cy="149.6" r="0.6"/><circle cx="147.5" cy="147.5" r="0.6"/><circle cx="137.9" cy="157.5" r="0.6"/><circle cx="140.0" cy="152.4" r="0.6"/><circle cx="137.0" cy="152.5" r="0.6"/><circle cx="142.1" cy="154.8" r="0.6"/><circle cx="142.5" cy="148.4" r="0.6"/><circle cx="137.4" cy="145.6" r="0.6"/><circle cx="140.5" cy="144.4" r="0.6"/><circle cx="136.5" cy="148.2" r="0.6"/><circle cx="138.1" cy="151.4" r="0.6"/><circle cx="140.1" cy="150.8" r="0.6"/><circle cx="134.7" cy="145.2" r="0.6"/><circle cx="136.3" cy="142.1" r="0.6"/><circle cx="140.9" cy="143.4" r="0.6"/><circle cx="138.9" cy="152.8" r="0.6"/><circle cx="144.4" cy="153.9" r="0.6"/><circle cx="140.5" cy="146.2" r="0.6"/><circle cx="137.7" cy="145.4" r="0.6"/><circle cx="146.5" cy="142.2" r="0.6"/><circle cx="138.6" cy="153.9" r="0.6"/><circle cx="147.2" cy="147.2" r="0.6"/><circle cx="141.6" cy="157.8" r="0.6"/><circle cx="136.0" cy="157.8" r="0.6"/><circle cx="138.1" cy="142.6" r="0.6"/><circle cx="135.2" cy="152.7" r="0.6"/><circle cx="139.7" cy="156.4" r="0.6"/><circle cx="136.3" cy="148.9" r="0.6"/><circle cx="143.4" cy="153.9" r="0.6"/><circle cx="137.1" cy="152.9" r="0.6"/><circle cx="146.5" cy="151.1" r="0.6"/><circle cx="142.3" cy="150.2" r="0.6"/><circle cx="142.3" cy="152.4" r="0.6"/><circle cx="136.6" cy="150.4" r="0.6"/><circle cx="144.7" cy="151.6" r="0.6"/><circle cx="134.6" cy="149.0" r="0.6"/><circle cx="138.6" cy="146.0" r="0.6"/><circle cx="140.9" cy="143.2" r="0.6"/><circle cx="143.0" cy="144.9" r="0.6"/><circle cx="138.3" cy="152.2" r="0.6"/><circle cx="146.4" cy="154.4" r="0.6"/><circle cx="135.9" cy="143.7" r="0.6"/><circle cx="143.9" cy="148.6" r="0.6"/><circle cx="136.2" cy="154.4" r="0.6"/><circle cx="138.1" cy="157.7" r="0.6"/><circle cx="142.9" cy="142.9" r="0.6"/><circle cx="138.0" cy="150.2" r="0.6"/><circle cx="146.4" cy="151.1" r="0.6"/><circle cx="143.2" cy="157.2" r="0.6"/><circle cx="142.3" cy="142.4" r="0.6"/><circle cx="141.0" cy="149.0" r="0.6"/><circle cx="132.9" cy="157.3" r="0.6"/><circle cx="136.5" cy="150.0" r="0.6"/><circle cx="134.1" cy="152.9" r="0.6"/><circle cx="137.8" cy="150.7" r="0.6"/><circle cx="142.2" cy="158.1" r="0.6"/><circle cx="146.3" cy="156.0" r="0.6"/><circle cx="137.5" cy="154.1" r="0.6"/><circle cx="135.8" cy="144.9" r="0.6"/><circle cx="139.8" cy="155.1" r="0.6"/><circle cx="138.8" cy="150.9" r="0.6"/><circle cx="135.6" cy="147.7" r="0.6"/><circle cx="142.2" cy="145.8" r="0.6"/><circle cx="145.6" cy="155.8" r="0.6"/><circle cx="144.1" cy="144.9" r="0.6"/><circle cx="145.0" cy="156.2" r="0.6"/><circle cx="139.4" cy="152.2" r="0.6"/><circle cx="135.6" cy="155.0" r="0.6"/><circle cx="138.9" cy="151.9" r="0.6"/><circle cx="137.3" cy="142.9" r="0.6"/><circle cx="144.0" cy="149.3" r="0.6"/><circle cx="144.9" cy="154.1" r="0.6"/><circle cx="138.9" cy="155.7" r="0.6"/><circle cx="133.4" cy="152.2" r="0.6"/><circle cx="143.4" cy="147.6" r="0.6"/><circle cx="136.1" cy="156.3" r="0.6"/><circle cx="136.5" cy="155.0" r="0.6"/><circle cx="144.5" cy="152.5" r="0.6"/><circle cx="139.1" cy="152.2" r="0.6"/><circle cx="136.3" cy="147.0" r="0.6"/><circle cx="139.8" cy="148.6" r="0.6"/><circle cx="137.9" cy="146.5" r="0.6"/><circle cx="144.1" cy="149.2" r="0.6"/><circle cx="136.2" cy="155.1" r="0.6"/><circle cx="142.2" cy="152.3" r="0.6"/><circle cx="142.5" cy="152.1" r="0.6"/><circle cx="139.9" cy="147.9" r="0.6"/><circle cx="141.7" cy="147.6" r="0.6"/><circle cx="134.2" cy="144.8" r="0.6"/><circle cx="139.1" cy="156.1" r="0.6"/><circle cx="139.2" cy="145.7" r="0.6"/><circle cx="141.2" cy="148.6" r="0.6"/><circle cx="135.1" cy="145.2" r="0.6"/><circle cx="136.7" cy="143.2" r="0.6"/><circle cx="139.0" cy="148.7" r="0.6"/><circle cx="134.2" cy="150.0" r="0.6"/><circle cx="133.5" cy="150.1" r="0.6"/><circle cx="141.3" cy="147.7" r="0.6"/><circle cx="144.2" cy="148.8" r="0.6"/><circle cx="133.0" cy="145.2" r="0.6"/><circle cx="144.5" cy="143.9" r="0.6"/><circle cx="146.2" cy="148.1" r="0.6"/></g>
<polygon points="118.60,121.30 134.10,143.40 132.50,157.30 110.40,124.60" fill="#20C8BB" opacity="0.8"/>
<path d="M112.0,124.8L133.6,152.0M112.0,123.6L133.6,150.8M112.0,123.7L133.6,149.5M112.0,124.0L133.6,151.6M112.0,123.5L133.6,150.3M112.0,124.9L133.6,152.9M112.0,123.1L133.6,148.1M112.0,124.2L133.6,154.3M112.0,125.1L133.6,148.4M112.0,122.7L133.6,145.7M112.0,121.9L133.6,144.2M112.0,121.8L133.6,143.3M112.0,123.6L133.6,152.5M112.0,123.3L133.6,148.1M112.0,122.5L133.6,145.8M112.0,123.3L133.6,149.8M112.0,124.8L133.6,155.2M112.0,123.0L133.6,151.4M112.0,121.5L133.6,143.0M112.0,125.4L133.6,156.3M112.0,123.1L133.6,148.1M112.0,123.9L133.6,150.2M112.0,124.6L133.6,152.5M112.0,124.0L133.6,149.5M112.0,126.2L133.6,156.5M112.0,125.5L133.6,156.2M112.0,121.4L133.6,144.9M112.0,121.5L133.6,144.3M112.0,121.6L133.6,144.4M112.0,124.7L133.6,152.9M112.0,123.0L133.6,147.1M112.0,126.1L133.6,156.0M112.0,122.3L133.6,144.5M112.0,125.7L133.6,155.7M112.0,124.2L133.6,150.1M112.0,121.6L133.6,145.0M112.0,124.4L133.6,151.4M112.0,123.6L133.6,152.3M112.0,126.0L133.6,157.5M112.0,126.1L133.6,157.4M112.0,123.6L133.6,147.3M112.0,125.2L133.6,152.6M112.0,124.8L133.6,154.1M112.0,125.3L133.6,155.4M112.0,122.7L133.6,149.1M112.0,124.5L133.6,155.5M112.0,121.6L133.6,143.0M112.0,126.1L133.6,157.2M112.0,126.1L133.6,156.0M112.0,122.1L133.6,143.3M112.0,125.5L133.6,157.5M112.0,122.1L133.6,147.0M112.0,122.8L133.6,148.0M112.0,123.5L133.6,146.8M112.0,125.0L133.6,153.5M112.0,122.6L133.6,148.6M112.0,121.8L133.6,144.4M112.0,121.3L133.6,145.1M112.0,122.4L133.6,147.3M112.0,123.2L133.6,149.9" stroke="#20C8BB" stroke-width="0.6" opacity="0.60" fill="none"/>
<polygon points="108.80,137.70 123.30,124.60 123.30,134.20 108.80,146.50" fill="#F26A6A" opacity="0.55"/>
<path d="M109.0,138.4L123.3,126.1M109.0,145.6L123.3,132.7M109.0,139.3L123.3,124.6M109.0,142.4L123.3,129.9M109.0,144.2L123.3,129.7M109.0,144.9L123.3,131.0M109.0,145.1L123.3,131.9M109.0,141.4L123.3,127.5M109.0,138.9L123.3,127.0M109.0,139.1L123.3,124.6M109.0,137.7L123.3,124.6M109.0,143.1L123.3,131.1M109.0,141.5L123.3,129.0M109.0,142.1L123.3,129.9M109.0,142.1L123.3,130.6M109.0,138.8L123.3,126.5M109.0,138.9L123.3,127.4M109.0,138.8L123.3,125.8M109.0,143.6L123.3,131.5M109.0,144.9L123.3,131.3M109.0,143.9L123.3,132.2M109.0,143.5L123.3,131.9M109.0,138.2L123.3,124.6M109.0,144.4L123.3,132.7M109.0,146.1L123.3,133.6M109.0,144.0L123.3,129.3M109.0,144.5L123.3,131.7M109.0,142.1L123.3,130.0M109.0,143.5L123.3,129.8M109.0,143.9L123.3,130.2M109.0,143.4L123.3,132.3M109.0,137.9L123.3,124.6M109.0,141.1L123.3,128.6M109.0,138.8L123.3,127.1M109.0,144.3L123.3,131.7M109.0,141.4L123.3,131.0M109.0,137.9L123.3,124.6M109.0,146.4L123.3,134.2M109.0,145.4L123.3,134.2M109.0,142.2L123.3,128.3M109.0,146.3L123.3,134.2M109.0,145.2L123.3,134.2M109.0,142.8L123.3,131.0M109.0,145.8L123.3,133.3M109.0,145.5L123.3,134.2M109.0,142.6L123.3,128.7M109.0,146.3L123.3,134.2M109.0,145.1L123.3,132.6M109.0,139.4L123.3,124.8M109.0,140.1L123.3,129.8M109.0,143.7L123.3,131.0M109.0,138.0L123.3,127.8M109.0,145.7L123.3,133.4M109.0,139.5L123.3,126.1M109.0,140.8L123.3,129.5M109.0,138.1L123.3,125.8M109.0,140.1L123.3,128.1M109.0,143.4L123.3,130.7M109.0,145.0L123.3,133.8M109.0,140.0L123.3,126.4" stroke="#F26A6A" stroke-width="0.6" opacity="0.60" fill="none"/>
<rect x="29.40" y="17.40" width="59.20" height="9.90" fill="#D9D9D9" stroke="#888888" stroke-width="0.9" />
<rect x="29.40" y="27.30" width="59.20" height="60.10" fill="none" stroke="#888888" stroke-width="0.9" />
<text x="58.70" y="25.80" font-size="10.0" text-anchor="middle" font-weight="normal" fill="#111" >Cluster 1</text>
<line x1="27.20" y1="38.90" x2="29.40" y2="38.90" stroke="#555" stroke-width="0.8" />
<text x="26.80" y="42.00" font-size="8.6" text-anchor="end" font-weight="normal" fill="#1a1a1a" >1</text>
<line x1="27.20" y1="57.20" x2="29.40" y2="57.20" stroke="#555" stroke-width="0.8" />
<text x="26.80" y="60.30" font-size="8.6" text-anchor="end" font-weight="normal" fill="#1a1a1a" >0</text>
<line x1="27.20" y1="75.50" x2="29.40" y2="75.50" stroke="#555" stroke-width="0.8" />
<text x="26.80" y="78.60" font-size="8.6" text-anchor="end" font-weight="normal" fill="#1a1a1a" >-1</text>
<rect x="92.10" y="17.40" width="59.20" height="9.90" fill="#D9D9D9" stroke="#888888" stroke-width="0.9" />
<rect x="92.10" y="27.30" width="59.20" height="60.10" fill="none" stroke="#888888" stroke-width="0.9" />
<text x="121.40" y="25.80" font-size="10.0" text-anchor="middle" font-weight="normal" fill="#111" >Cluster 2</text>
<rect x="154.40" y="17.40" width="59.20" height="9.90" fill="#D9D9D9" stroke="#888888" stroke-width="0.9" />
<rect x="154.40" y="27.30" width="59.20" height="60.10" fill="none" stroke="#888888" stroke-width="0.9" />
<text x="183.70" y="25.80" font-size="10.0" text-anchor="middle" font-weight="normal" fill="#111" >Cluster 3</text>
<line x1="171.33" y1="87.40" x2="171.33" y2="89.40" stroke="#555" stroke-width="0.8" />
<text x="169.43" y="96.10" font-size="7.9" text-anchor="middle" font-weight="normal" fill="#1a1a1a" >Scrmbl</text>
<line x1="196.73" y1="87.40" x2="196.73" y2="89.40" stroke="#555" stroke-width="0.8" />
<text x="196.03" y="96.10" font-size="7.9" text-anchor="middle" font-weight="normal" fill="#1a1a1a" >shRNA</text>
<rect x="29.40" y="90.90" width="59.20" height="9.50" fill="#D9D9D9" stroke="#888888" stroke-width="0.9" />
<rect x="29.40" y="100.40" width="59.20" height="60.20" fill="none" stroke="#888888" stroke-width="0.9" />
<text x="58.70" y="99.30" font-size="10.0" text-anchor="middle" font-weight="normal" fill="#111" >Cluster 4</text>
<line x1="46.33" y1="160.60" x2="46.33" y2="162.60" stroke="#555" stroke-width="0.8" />
<text x="44.43" y="169.30" font-size="7.9" text-anchor="middle" font-weight="normal" fill="#1a1a1a" >Scrmbl</text>
<line x1="71.73" y1="160.60" x2="71.73" y2="162.60" stroke="#555" stroke-width="0.8" />
<text x="71.03" y="169.30" font-size="7.9" text-anchor="middle" font-weight="normal" fill="#1a1a1a" >shRNA</text>
<line x1="27.20" y1="112.45" x2="29.40" y2="112.45" stroke="#555" stroke-width="0.8" />
<text x="26.80" y="115.55" font-size="8.6" text-anchor="end" font-weight="normal" fill="#1a1a1a" >1</text>
<line x1="27.20" y1="130.75" x2="29.40" y2="130.75" stroke="#555" stroke-width="0.8" />
<text x="26.80" y="133.85" font-size="8.6" text-anchor="end" font-weight="normal" fill="#1a1a1a" >0</text>
<line x1="27.20" y1="149.05" x2="29.40" y2="149.05" stroke="#555" stroke-width="0.8" />
<text x="26.80" y="152.15" font-size="8.6" text-anchor="end" font-weight="normal" fill="#1a1a1a" >-1</text>
<rect x="92.10" y="90.90" width="59.20" height="9.50" fill="#D9D9D9" stroke="#888888" stroke-width="0.9" />
<rect x="92.10" y="100.40" width="59.20" height="60.20" fill="none" stroke="#888888" stroke-width="0.9" />
<text x="121.40" y="99.30" font-size="10.0" text-anchor="middle" font-weight="normal" fill="#111" >Cluster 5</text>
<line x1="109.03" y1="160.60" x2="109.03" y2="162.60" stroke="#555" stroke-width="0.8" />
<text x="107.13" y="169.30" font-size="7.9" text-anchor="middle" font-weight="normal" fill="#1a1a1a" >Scrmbl</text>
<line x1="134.43" y1="160.60" x2="134.43" y2="162.60" stroke="#555" stroke-width="0.8" />
<text x="133.73" y="169.30" font-size="7.9" text-anchor="middle" font-weight="normal" fill="#1a1a1a" >shRNA</text>
<rect x="17.80" y="15.00" width="134.70" height="74.40" fill="none" stroke="#F03A3A" stroke-width="1.1" />
<text transform="translate(14.9,95.3) rotate(-90)" font-size="9.4" text-anchor="middle" fill="#000">Z-score of Peak Abundance</text>
<rect x="218.60" y="89.50" width="8.80" height="5.80" fill="none" stroke="#F26A6A" stroke-width="1.2" />
<line x1="218.60" y1="92.40" x2="227.40" y2="92.40" stroke="#F26A6A" stroke-width="1.3" />
<line x1="223.00" y1="87.70" x2="223.00" y2="89.50" stroke="#F26A6A" stroke-width="1.0" />
<line x1="223.00" y1="95.30" x2="223.00" y2="97.10" stroke="#F26A6A" stroke-width="1.0" />
<text x="229.40" y="95.60" font-size="9.2" text-anchor="start" font-weight="normal" fill="#000" >PF</text>
<rect x="218.60" y="101.80" width="8.80" height="5.80" fill="none" stroke="#20C8BB" stroke-width="1.2" />
<line x1="218.60" y1="104.70" x2="227.40" y2="104.70" stroke="#20C8BB" stroke-width="1.3" />
<line x1="223.00" y1="100.00" x2="223.00" y2="101.80" stroke="#20C8BB" stroke-width="1.0" />
<line x1="223.00" y1="107.60" x2="223.00" y2="109.40" stroke="#20C8BB" stroke-width="1.0" />
<text x="229.40" y="107.90" font-size="9.2" text-anchor="start" font-weight="normal" fill="#000" >M</text>
<text x="235.40" y="17.50" font-size="24" text-anchor="start" font-weight="normal" fill="#000" >b</text>
<text x="323.90" y="30.80" font-size="13.55" text-anchor="start" font-weight="bold" fill="#000" >Clusters 1 &amp; 2</text>
<rect x="360.40" y="45.50" width="63.00" height="41.80" fill="#fff" stroke="none" stroke-width="1" />
<line x1="372.82" y1="45.50" x2="372.82" y2="87.30" stroke="#F4F4F4" stroke-width="0.5" />
<line x1="392.07" y1="45.50" x2="392.07" y2="87.30" stroke="#F4F4F4" stroke-width="0.5" />
<line x1="411.32" y1="45.50" x2="411.32" y2="87.30" stroke="#F4F4F4" stroke-width="0.5" />
<line x1="363.20" y1="45.50" x2="363.20" y2="87.30" stroke="#EBEBEB" stroke-width="0.8" />
<line x1="382.45" y1="45.50" x2="382.45" y2="87.30" stroke="#EBEBEB" stroke-width="0.8" />
<line x1="401.70" y1="45.50" x2="401.70" y2="87.30" stroke="#EBEBEB" stroke-width="0.8" />
<line x1="420.95" y1="45.50" x2="420.95" y2="87.30" stroke="#EBEBEB" stroke-width="0.8" />
<line x1="360.40" y1="57.00" x2="423.40" y2="57.00" stroke="#EBEBEB" stroke-width="0.8" />
<line x1="358.40" y1="57.00" x2="360.40" y2="57.00" stroke="#555" stroke-width="0.8" />
<line x1="360.40" y1="75.80" x2="423.40" y2="75.80" stroke="#EBEBEB" stroke-width="0.8" />
<line x1="358.40" y1="75.80" x2="360.40" y2="75.80" stroke="#555" stroke-width="0.8" />
<circle cx="394.19" cy="57.00" r="3.20" fill="#FF1F2E" />
<text x="356.50" y="59.70" font-size="9.45" text-anchor="end" font-weight="normal" fill="#1a1a1a" >Synapse organization</text>
<circle cx="415.18" cy="75.80" r="2.20" fill="#FF1F2E" />
<text x="356.50" y="74.28" font-size="9.45" text-anchor="end" font-weight="normal" fill="#1a1a1a" >Regulation of</text>
<text x="356.50" y="83.73" font-size="9.45" text-anchor="end" font-weight="normal" fill="#1a1a1a" >synapse assembly</text>
<rect x="360.40" y="45.50" width="63.00" height="41.80" fill="none" stroke="#888888" stroke-width="0.9" />
<rect x="423.40" y="45.50" width="9.20" height="41.80" fill="#D9D9D9" stroke="#888888" stroke-width="0.9" />
<text transform="translate(424.83,66.40) rotate(90)" font-size="8.8" text-anchor="middle" fill="#1a1a1a">GO:BP</text>
<rect x="360.40" y="90.30" width="63.00" height="60.50" fill="#fff" stroke="none" stroke-width="1" />
<line x1="372.82" y1="90.30" x2="372.82" y2="150.80" stroke="#F4F4F4" stroke-width="0.5" />
<line x1="392.07" y1="90.30" x2="392.07" y2="150.80" stroke="#F4F4F4" stroke-width="0.5" />
<line x1="411.32" y1="90.30" x2="411.32" y2="150.80" stroke="#F4F4F4" stroke-width="0.5" />
<line x1="363.20" y1="90.30" x2="363.20" y2="150.80" stroke="#EBEBEB" stroke-width="0.8" />
<line x1="382.45" y1="90.30" x2="382.45" y2="150.80" stroke="#EBEBEB" stroke-width="0.8" />
<line x1="401.70" y1="90.30" x2="401.70" y2="150.80" stroke="#EBEBEB" stroke-width="0.8" />
<line x1="420.95" y1="90.30" x2="420.95" y2="150.80" stroke="#EBEBEB" stroke-width="0.8" />
<line x1="360.40" y1="101.90" x2="423.40" y2="101.90" stroke="#EBEBEB" stroke-width="0.8" />
<line x1="358.40" y1="101.90" x2="360.40" y2="101.90" stroke="#555" stroke-width="0.8" />
<line x1="360.40" y1="120.90" x2="423.40" y2="120.90" stroke="#EBEBEB" stroke-width="0.8" />
<line x1="358.40" y1="120.90" x2="360.40" y2="120.90" stroke="#555" stroke-width="0.8" />
<line x1="360.40" y1="139.90" x2="423.40" y2="139.90" stroke="#EBEBEB" stroke-width="0.8" />
<line x1="358.40" y1="139.90" x2="360.40" y2="139.90" stroke="#555" stroke-width="0.8" />
<circle cx="384.57" cy="101.90" r="4.30" fill="#FF1F2E" />
<text x="356.50" y="104.60" font-size="9.45" text-anchor="end" font-weight="normal" fill="#1a1a1a" >Synapse</text>
<circle cx="385.14" cy="120.90" r="2.85" fill="#FF1F2E" />
<text x="356.50" y="123.60" font-size="9.45" text-anchor="end" font-weight="normal" fill="#1a1a1a" >Glutamatergic synapse</text>
<circle cx="390.73" cy="139.90" r="2.70" fill="#FF1F2E" />
<text x="356.50" y="142.60" font-size="9.45" text-anchor="end" font-weight="normal" fill="#1a1a1a" >Dendritic tree</text>
<rect x="360.40" y="90.30" width="63.00" height="60.50" fill="none" stroke="#888888" stroke-width="0.9" />
<rect x="423.40" y="90.30" width="9.20" height="60.50" fill="#D9D9D9" stroke="#888888" stroke-width="0.9" />
<text transform="translate(424.83,120.55) rotate(90)" font-size="8.8" text-anchor="middle" fill="#1a1a1a">GO:CC</text>
<line x1="363.20" y1="150.80" x2="363.20" y2="152.80" stroke="#555" stroke-width="0.8" />
<text x="363.20" y="159.80" font-size="8.0" text-anchor="middle" font-weight="normal" fill="#333" >0</text>
<line x1="382.45" y1="150.80" x2="382.45" y2="152.80" stroke="#555" stroke-width="0.8" />
<text x="382.45" y="159.80" font-size="8.0" text-anchor="middle" font-weight="normal" fill="#333" >.05</text>
<line x1="401.70" y1="150.80" x2="401.70" y2="152.80" stroke="#555" stroke-width="0.8" />
<text x="401.70" y="159.80" font-size="8.0" text-anchor="middle" font-weight="normal" fill="#333" >.10</text>
<line x1="420.95" y1="150.80" x2="420.95" y2="152.80" stroke="#555" stroke-width="0.8" />
<text x="420.95" y="159.80" font-size="8.0" text-anchor="middle" font-weight="normal" fill="#333" >.15</text>
<text x="392.10" y="167.80" font-size="9.2" text-anchor="middle" font-weight="normal" fill="#1a1a1a" >GeneRatio</text>
<defs><linearGradient id="pg" x1="0" y1="0" x2="0" y2="1">
<stop offset="0" stop-color="#3A56A6"/><stop offset="0.22" stop-color="#5E45A2"/>
<stop offset="0.42" stop-color="#A33692"/><stop offset="0.62" stop-color="#E0237A"/>
<stop offset="0.8" stop-color="#F81E52"/><stop offset="1" stop-color="#FF1F2E"/></linearGradient></defs>
<text x="440.00" y="44.40" font-size="9.0" text-anchor="start" font-weight="normal" fill="#1a1a1a" >p-adj</text>
<rect x="441.30" y="49.90" width="9.70" height="45.00" fill="url(#pg)" stroke="none" stroke-width="1" />
<line x1="441.30" y1="51.20" x2="443.30" y2="51.20" stroke="#fff" stroke-width="0.6" />
<line x1="449.00" y1="51.20" x2="451.00" y2="51.20" stroke="#fff" stroke-width="0.6" />
<text x="451.60" y="54.08" font-size="8.0" text-anchor="start" font-weight="normal" fill="#1a1a1a" >0.05</text>
<line x1="441.30" y1="59.60" x2="443.30" y2="59.60" stroke="#fff" stroke-width="0.6" />
<line x1="449.00" y1="59.60" x2="451.00" y2="59.60" stroke="#fff" stroke-width="0.6" />
<text x="451.60" y="62.48" font-size="8.0" text-anchor="start" font-weight="normal" fill="#1a1a1a" >0.04</text>
<line x1="441.30" y1="68.20" x2="443.30" y2="68.20" stroke="#fff" stroke-width="0.6" />
<line x1="449.00" y1="68.20" x2="451.00" y2="68.20" stroke="#fff" stroke-width="0.6" />
<text x="451.60" y="71.08" font-size="8.0" text-anchor="start" font-weight="normal" fill="#1a1a1a" >0.03</text>
<line x1="441.30" y1="76.90" x2="443.30" y2="76.90" stroke="#fff" stroke-width="0.6" />
<line x1="449.00" y1="76.90" x2="451.00" y2="76.90" stroke="#fff" stroke-width="0.6" />
<text x="451.60" y="79.78" font-size="8.0" text-anchor="start" font-weight="normal" fill="#1a1a1a" >0.02</text>
<line x1="441.30" y1="85.60" x2="443.30" y2="85.60" stroke="#fff" stroke-width="0.6" />
<line x1="449.00" y1="85.60" x2="451.00" y2="85.60" stroke="#fff" stroke-width="0.6" />
<text x="451.60" y="88.48" font-size="8.0" text-anchor="start" font-weight="normal" fill="#1a1a1a" >0.01</text>
<text x="439.50" y="111.90" font-size="9.2" text-anchor="start" font-weight="normal" fill="#1a1a1a" >Count</text>
<circle cx="447.30" cy="119.60" r="1.90" fill="#000" />
<text x="454.60" y="122.50" font-size="8.0" text-anchor="start" font-weight="normal" fill="#1a1a1a" >20</text>
<circle cx="447.30" cy="128.80" r="2.85" fill="#000" />
<text x="454.60" y="131.70" font-size="8.0" text-anchor="start" font-weight="normal" fill="#1a1a1a" >40</text>
<circle cx="447.30" cy="138.60" r="3.50" fill="#000" />
<text x="454.60" y="141.50" font-size="8.0" text-anchor="start" font-weight="normal" fill="#1a1a1a" >60</text>
<circle cx="447.30" cy="149.40" r="4.30" fill="#000" />
<text x="454.60" y="152.30" font-size="8.0" text-anchor="start" font-weight="normal" fill="#1a1a1a" >80</text>
<text x="470.80" y="16.00" font-size="24" text-anchor="start" font-weight="normal" fill="#000" >c</text>
<defs>
<clipPath id="vc0"><circle cx="571.7" cy="93.4" r="55.3"/></clipPath>
<clipPath id="vc1"><circle cx="591.8" cy="122.2" r="41.7"/></clipPath>
<clipPath id="vc2"><circle cx="617.2" cy="93.5" r="16.9"/></clipPath>
</defs>
<circle cx="571.7" cy="93.4" r="55.3" fill="#C9398D"/>
<circle cx="591.8" cy="122.2" r="41.7" fill="#C98ABE"/>
<circle cx="591.8" cy="122.2" r="41.7" fill="#C4589C" clip-path="url(#vc0)"/>
<circle cx="617.2" cy="93.5" r="16.9" fill="#D8A6CC"/>
<g clip-path="url(#vc1)">
<circle cx="617.2" cy="93.5" r="16.9" fill="#CF8DC0"/>
</g>
<circle cx="617.2" cy="93.5" r="16.9" fill="#CC66A8" clip-path="url(#vc0)"/>
<g clip-path="url(#vc1)">
<circle cx="617.2" cy="93.5" r="16.9" fill="#C75AA0" clip-path="url(#vc0)"/>
</g>
<circle cx="571.7" cy="93.4" r="55.3" fill="none" stroke="#4a1a3a" stroke-width="0.6"/>
<circle cx="591.8" cy="122.2" r="41.7" fill="none" stroke="#4a1a3a" stroke-width="0.6"/>
<circle cx="617.2" cy="93.5" r="16.9" fill="none" stroke="#4a1a3a" stroke-width="0.6"/>
<text x="551.70" y="74.10" font-size="10.3" text-anchor="middle" font-weight="bold" fill="#000" stroke="#000" stroke-width="0.25">6980</text>
<text x="583.10" y="122.00" font-size="10.3" text-anchor="middle" font-weight="bold" fill="#000" stroke="#000" stroke-width="0.25">4366</text>
<text x="614.10" y="104.10" font-size="10.3" text-anchor="middle" font-weight="bold" fill="#000" stroke="#000" stroke-width="0.25">540</text>
<text x="603.90" y="154.20" font-size="10.3" text-anchor="middle" font-weight="bold" fill="#000" stroke="#000" stroke-width="0.25">1724</text>
<text x="635.60" y="72.40" font-size="10.3" text-anchor="middle" font-weight="bold" fill="#000" stroke="#000" stroke-width="0.25">373</text>
<text x="638.20" y="96.20" font-size="10.3" text-anchor="start" font-weight="bold" fill="#000" stroke="#000" stroke-width="0.25">124</text>
<text x="637.40" y="111.20" font-size="10.3" text-anchor="start" font-weight="bold" fill="#000" stroke="#000" stroke-width="0.25">40</text>
<line x1="633.60" y1="74.60" x2="621.20" y2="81.40" stroke="#111" stroke-width="0.9" />
<line x1="631.20" y1="93.30" x2="636.70" y2="93.30" stroke="#111" stroke-width="0.9" />
<line x1="627.70" y1="105.10" x2="635.90" y2="107.00" stroke="#111" stroke-width="0.9" />
<text x="497.30" y="26.00" font-size="11.6" text-anchor="start" font-weight="bold" fill="#000" stroke="#000" stroke-width="0.22">OF</text>
<circle cx="522.05" cy="18.70" r="3.00" fill="none" stroke="#111" stroke-width="1.60"/>
<line x1="522.05" y1="21.50" x2="522.05" y2="26.10" stroke="#111" stroke-width="1.5" />
<line x1="519.70" y1="24.20" x2="524.40" y2="24.20" stroke="#111" stroke-width="1.3" />
<text x="529.40" y="26.00" font-size="11.6" text-anchor="start" font-weight="bold" fill="#000" stroke="#000" stroke-width="0.22">OE</text>
<text x="522.20" y="37.70" font-size="11.6" text-anchor="middle" font-weight="bold" fill="#000" stroke="#000" stroke-width="0.22">Egr1 Open</text>
<text x="625.30" y="37.30" font-size="11.6" text-anchor="start" font-weight="bold" fill="#000" stroke="#000" stroke-width="0.22">PF</text>
<circle cx="648.90" cy="30.00" r="3.00" fill="none" stroke="#111" stroke-width="1.60"/>
<line x1="648.90" y1="32.80" x2="648.90" y2="37.40" stroke="#111" stroke-width="1.5" />
<line x1="646.55" y1="35.50" x2="651.25" y2="35.50" stroke="#111" stroke-width="1.3" />
<text x="656.40" y="37.30" font-size="11.6" text-anchor="start" font-weight="bold" fill="#000" stroke="#000" stroke-width="0.22">KD</text>
<text x="649.00" y="49.00" font-size="11.8" text-anchor="middle" font-weight="bold" fill="#000" stroke="#000" stroke-width="0.22">Egr1 Closed</text>
<text x="622.40" y="166.40" font-size="11.6" text-anchor="start" font-weight="bold" fill="#000" stroke="#000" stroke-width="0.22">PF</text>
<circle cx="646.05" cy="159.90" r="2.92" fill="none" stroke="#111" stroke-width="1.56"/>
<line x1="646.05" y1="162.62" x2="646.05" y2="167.10" stroke="#111" stroke-width="1.5" />
<line x1="643.76" y1="165.25" x2="648.34" y2="165.25" stroke="#111" stroke-width="1.3" />
<text x="652.50" y="166.40" font-size="11.6" text-anchor="start" font-weight="bold" fill="#000" stroke="#000" stroke-width="0.22">&gt;</text>
<text x="612.20" y="178.60" font-size="11.6" text-anchor="start" font-weight="bold" fill="#000" stroke="#000" stroke-width="0.22">DF</text>
<circle cx="636.20" cy="171.33" r="2.95" fill="none" stroke="#111" stroke-width="1.57"/>
<line x1="636.20" y1="174.08" x2="636.20" y2="178.60" stroke="#111" stroke-width="1.5" />
<line x1="633.89" y1="176.73" x2="638.51" y2="176.73" stroke="#111" stroke-width="1.3" />
<text x="643.50" y="178.60" font-size="11.6" text-anchor="start" font-weight="bold" fill="#000" stroke="#000" stroke-width="0.22">Open</text>
<text x="1.60" y="203.80" font-size="24" text-anchor="start" font-weight="normal" fill="#000" >d</text>
<text x="55.20" y="204.60" font-size="9.85" text-anchor="start" font-weight="normal" fill="#111" >Chr15:44,881,200-44,980,330</text>
<text x="249.20" y="202.50" font-size="9.85" text-anchor="start" font-weight="normal" fill="#111" >Chr6:125,066,600-125-074,900</text>
<rect x="59.60" y="210.10" width="10.20" height="9.70" fill="#D6489A" stroke="none" stroke-width="1" />
<text x="71.80" y="218.40" font-size="8.7" text-anchor="start" font-weight="bold" fill="#000" stroke="#000" stroke-width="0.2">Egr1</text>
<rect x="96.10" y="210.10" width="10.50" height="9.70" fill="#EBA0CB" stroke="none" stroke-width="1" />
<text x="107.60" y="218.40" font-size="8.7" text-anchor="start" font-weight="bold" fill="#000" stroke="#000" stroke-width="0.2">eGFP</text>
<rect x="136.00" y="210.10" width="10.00" height="9.70" fill="#CB87B8" stroke="none" stroke-width="1" />
<text x="148.40" y="218.40" font-size="8.7" text-anchor="start" font-weight="bold" fill="#000" stroke="#000" stroke-width="0.2">Overlap</text>
<rect x="53.10" y="286.40" width="10.30" height="9.20" fill="#D6489A" stroke="none" stroke-width="1" />
<text x="64.30" y="294.20" font-size="8.7" text-anchor="start" font-weight="bold" fill="#000" stroke="#000" stroke-width="0.2">shRNA</text>
<rect x="96.90" y="286.40" width="9.70" height="9.20" fill="#EBA0CB" stroke="none" stroke-width="1" />
<text x="108.10" y="294.20" font-size="8.7" text-anchor="start" font-weight="bold" fill="#000" stroke="#000" stroke-width="0.2">scrmbl</text>
<rect x="139.90" y="286.40" width="10.50" height="9.20" fill="#CB87B8" stroke="none" stroke-width="1" />
<text x="151.90" y="294.20" font-size="8.7" text-anchor="start" font-weight="bold" fill="#000" stroke="#000" stroke-width="0.2">Overlap</text>
<rect x="254.20" y="207.80" width="9.40" height="9.20" fill="#D6489A" stroke="none" stroke-width="1" />
<text x="266.00" y="215.60" font-size="8.7" text-anchor="start" font-weight="bold" fill="#000" stroke="#000" stroke-width="0.2">Egr1</text>
<rect x="290.70" y="207.80" width="10.30" height="9.20" fill="#EBA0CB" stroke="none" stroke-width="1" />
<text x="302.50" y="215.60" font-size="8.7" text-anchor="start" font-weight="bold" fill="#000" stroke="#000" stroke-width="0.2">eGFP</text>
<rect x="331.60" y="207.80" width="9.60" height="9.20" fill="#CB87B8" stroke="none" stroke-width="1" />
<text x="343.40" y="215.60" font-size="8.7" text-anchor="start" font-weight="bold" fill="#000" stroke="#000" stroke-width="0.2">Overlap</text>
<rect x="248.40" y="286.70" width="10.20" height="9.30" fill="#D6489A" stroke="none" stroke-width="1" />
<text x="259.50" y="294.60" font-size="8.7" text-anchor="start" font-weight="bold" fill="#000" stroke="#000" stroke-width="0.2">shRNA</text>
<rect x="292.20" y="286.70" width="10.20" height="9.30" fill="#EBA0CB" stroke="none" stroke-width="1" />
<text x="303.30" y="294.60" font-size="8.7" text-anchor="start" font-weight="bold" fill="#000" stroke="#000" stroke-width="0.2">scrmbl</text>
<rect x="335.40" y="286.70" width="9.90" height="9.30" fill="#CB87B8" stroke="none" stroke-width="1" />
<text x="347.70" y="294.60" font-size="8.7" text-anchor="start" font-weight="bold" fill="#000" stroke="#000" stroke-width="0.2">Overlap</text>
<path d="M67.20,228.30 H61.90 V281.70 H67.20" fill="none" stroke="#000" stroke-width="2"/>
<text x="58.40" y="235.40" font-size="10.7" text-anchor="end" font-weight="normal" fill="#111" >77</text>
<text x="58.40" y="282.70" font-size="10.7" text-anchor="end" font-weight="normal" fill="#111" >0</text>
<path d="M175.50,228.40 H180.80 V281.90 H175.50" fill="none" stroke="#000" stroke-width="2"/>
<text x="182.60" y="235.00" font-size="10.7" text-anchor="start" font-weight="normal" fill="#111" >165</text>
<text x="182.60" y="282.70" font-size="10.7" text-anchor="start" font-weight="normal" fill="#111" >0</text>
<path d="M67.20,300.00 H61.90 V352.80 H67.20" fill="none" stroke="#000" stroke-width="2"/>
<text x="59.20" y="306.90" font-size="10.7" text-anchor="end" font-weight="normal" fill="#111" >49.5</text>
<text x="59.20" y="354.20" font-size="10.7" text-anchor="end" font-weight="normal" fill="#111" >0</text>
<path d="M175.50,300.00 H180.80 V352.80 H175.50" fill="none" stroke="#000" stroke-width="2"/>
<text x="182.60" y="306.90" font-size="10.7" text-anchor="start" font-weight="normal" fill="#111" >110</text>
<text x="182.60" y="354.20" font-size="10.7" text-anchor="start" font-weight="normal" fill="#111" >0</text>
<path d="M258.90,228.10 H253.60 V281.40 H258.90" fill="none" stroke="#000" stroke-width="2"/>
<text x="252.00" y="235.20" font-size="10.7" text-anchor="end" font-weight="normal" fill="#111" >302.5</text>
<text x="252.00" y="282.70" font-size="10.7" text-anchor="end" font-weight="normal" fill="#111" >0</text>
<path d="M367.00,227.90 H372.30 V281.60 H367.00" fill="none" stroke="#000" stroke-width="2"/>
<text x="374.20" y="235.20" font-size="10.7" text-anchor="start" font-weight="normal" fill="#111" >330</text>
<text x="374.20" y="282.70" font-size="10.7" text-anchor="start" font-weight="normal" fill="#111" >0</text>
<path d="M258.90,299.80 H253.60 V353.40 H258.90" fill="none" stroke="#000" stroke-width="2"/>
<text x="252.00" y="306.80" font-size="10.7" text-anchor="end" font-weight="normal" fill="#111" >198</text>
<text x="252.00" y="354.20" font-size="10.7" text-anchor="end" font-weight="normal" fill="#111" >0</text>
<path d="M367.60,299.00 H372.90 V353.60 H367.60" fill="none" stroke="#000" stroke-width="2"/>
<text x="374.60" y="306.80" font-size="10.7" text-anchor="start" font-weight="normal" fill="#111" >242</text>
<text x="374.60" y="354.20" font-size="10.7" text-anchor="start" font-weight="normal" fill="#111" >0</text>
<polygon points="72.40,281.60 72.40,277.50 75.00,277.00 77.00,276.00 79.00,275.50 81.30,274.00 83.00,273.50 84.30,272.50 85.50,272.00 86.20,271.20 87.50,257.50 88.50,250.60 90.30,243.70 91.70,238.20 93.00,234.80 93.70,235.50 94.40,237.50 95.40,234.10 96.50,236.20 97.20,239.60 97.80,243.70 99.20,252.00 100.60,261.60 102.00,269.80 104.00,273.90 106.00,276.00 108.00,276.70 110.10,279.00 112.30,278.20 115.30,279.00 117.00,279.70 117.00,281.60" fill="#D6489A" />
<polygon points="72.40,281.60 72.40,278.50 77.00,277.50 81.30,275.50 84.30,274.00 86.90,271.50 88.20,263.00 89.60,256.00 91.00,250.60 92.40,245.10 93.70,241.00 95.10,240.30 96.20,243.00 97.20,246.50 98.50,253.30 99.90,261.60 101.30,268.40 102.60,272.50 104.00,275.00 106.00,277.00 108.00,277.50 110.10,279.50 112.30,279.00 115.30,279.70 117.00,280.20 117.00,281.60" fill="#CB87B8" />
<polygon points="125.60,281.30 125.60,279.00 126.60,275.30 128.90,273.10 131.10,271.60 133.30,270.10 134.80,266.40 136.30,257.60 137.40,247.20 138.30,242.00 139.20,248.70 140.40,259.00 141.40,266.40 142.50,267.20 143.90,259.00 145.40,251.60 146.60,257.60 148.10,264.90 149.60,267.90 151.00,271.60 152.50,269.40 154.00,264.90 155.50,261.20 156.90,264.90 158.40,267.20 159.60,275.30 161.40,279.00 164.30,279.00 167.30,279.70 169.50,279.70 169.50,281.30" fill="#D6489A" />
<polygon points="125.60,281.30 125.60,279.23 126.60,275.90 128.90,273.92 131.10,272.57 133.30,271.22 134.80,267.89 136.30,259.97 137.40,250.61 138.30,245.93 139.20,251.96 140.40,261.23 141.40,267.89 142.50,268.61 143.90,261.23 145.40,254.57 146.60,259.97 148.10,266.54 149.60,269.24 151.00,272.57 152.50,270.59 154.00,266.54 155.50,263.21 156.90,266.54 158.40,268.61 159.60,275.90 161.40,279.23 164.30,279.23 167.30,279.86 169.50,279.86 169.50,281.30" fill="#CB87B8" />
<polygon points="71.80,352.70 71.80,348.50 74.10,349.20 76.40,347.70 78.70,347.00 81.00,347.70 83.30,348.50 85.60,347.00 86.20,347.30 87.10,339.00 88.00,330.80 88.90,329.40 89.90,324.00 91.00,318.50 92.10,314.40 93.00,308.20 93.70,307.50 94.30,310.20 94.80,307.50 95.80,313.00 97.20,319.80 98.50,329.40 99.90,339.00 100.90,345.90 102.00,347.30 104.00,349.40 106.10,348.70 108.00,350.00 109.30,349.20 111.60,345.40 113.10,343.90 114.60,346.20 116.60,350.00 116.60,352.70" fill="#EBA0CB" />
<polygon points="71.80,352.70 71.80,349.50 74.10,350.00 76.40,348.70 78.70,348.00 81.00,348.70 83.30,349.50 85.60,348.50 88.50,348.70 89.60,336.30 91.00,326.70 92.40,317.10 93.50,313.00 94.40,314.40 95.80,317.10 97.20,322.60 98.50,330.80 99.90,339.70 100.90,346.60 102.00,348.30 104.00,350.00 106.10,349.50 108.00,350.60 109.30,350.00 111.60,347.00 113.10,345.50 114.60,347.50 116.60,351.00 116.60,352.70" fill="#CB87B8" />
<polygon points="126.20,352.60 126.20,351.30 127.40,348.00 128.50,344.80 129.80,343.10 131.10,346.40 132.30,347.20 133.90,343.10 135.10,341.50 136.40,343.90 137.70,333.30 138.50,310.40 139.20,297.30 139.80,310.40 140.50,333.30 141.60,342.30 142.90,344.80 144.20,338.20 145.40,316.90 146.20,321.80 147.00,334.90 148.20,344.80 149.80,346.40 151.40,344.80 152.70,346.40 154.40,341.50 155.50,337.40 156.70,341.50 158.00,343.10 159.30,346.40 160.60,350.50 163.40,350.50 165.80,351.30 170.80,351.60 170.80,352.60" fill="#D6489A" />
<polygon points="126.20,352.60 126.20,351.39 127.40,348.32 128.50,345.35 129.80,343.77 131.10,346.83 132.30,347.58 133.90,343.77 135.10,342.28 136.40,344.51 137.70,334.65 138.50,313.35 139.20,301.17 139.80,313.35 140.50,334.65 141.60,343.02 142.90,345.35 144.20,339.21 145.40,319.40 146.20,323.96 147.00,336.14 148.20,345.35 149.80,346.83 151.40,345.35 152.70,346.83 154.40,342.28 155.50,338.46 156.70,342.28 158.00,343.77 159.30,346.83 160.60,350.65 163.40,350.65 165.80,351.39 170.80,351.67 170.80,352.60" fill="#D57FB6" />
<polygon points="265.20,281.80 265.20,266.00 267.20,264.40 268.80,264.90 270.30,263.60 271.90,262.10 273.50,261.30 275.10,261.30 276.70,259.70 278.00,261.30 279.10,259.70 279.90,255.70 280.70,247.80 281.40,241.40 282.70,236.70 283.80,231.90 284.90,228.80 285.90,228.00 286.70,231.10 287.50,229.60 288.60,235.10 289.70,239.90 291.00,246.20 292.20,252.50 293.30,260.50 294.10,270.00 294.90,274.70 295.70,277.10 297.30,276.30 300.00,276.30 300.90,275.70 303.40,275.20 305.80,276.00 308.30,276.90 310.80,277.70 310.80,281.80" fill="#D6489A" />
<polygon points="265.20,281.80 265.20,267.60 271.90,264.40 276.70,262.90 279.10,262.10 279.90,258.90 280.70,252.50 281.80,246.20 283.00,241.40 284.30,238.30 285.40,235.90 286.50,236.70 287.80,239.90 289.10,243.00 290.20,247.80 291.30,254.10 292.50,262.10 293.80,271.60 294.90,276.30 295.70,277.60 297.30,276.80 300.00,276.80 300.90,276.30 303.40,275.80 305.80,276.60 308.30,277.40 310.80,278.20 310.80,281.80" fill="#CB87B8" />
<polygon points="318.90,281.80 318.90,280.90 322.20,280.10 325.50,278.40 327.90,276.80 330.40,272.70 332.80,267.80 334.40,264.50 336.10,259.60 336.90,251.40 337.70,235.10 338.20,234.30 338.90,243.30 339.80,258.00 341.00,271.10 342.60,277.60 345.10,279.30 346.70,277.60 349.20,276.80 351.60,275.20 353.30,276.00 355.70,276.80 357.40,275.20 359.00,277.60 361.40,279.30 363.90,280.10 363.90,281.80" fill="#D6489A" />
<polygon points="318.90,281.80 318.90,280.97 322.20,280.24 325.50,278.67 327.90,277.20 330.40,273.43 332.80,268.92 334.40,265.88 336.10,261.38 336.90,253.83 337.70,238.84 338.20,238.10 338.90,246.38 339.80,259.90 341.00,271.96 342.60,277.94 345.10,279.50 346.70,277.94 349.20,277.20 351.60,275.73 353.30,276.46 355.70,277.20 357.40,275.73 359.00,277.94 361.40,279.50 363.90,280.24 363.90,281.80" fill="#CB87B8" />
<polygon points="265.20,353.60 265.20,339.80 267.00,342.80 268.40,345.70 269.90,347.20 272.10,348.00 274.30,346.50 276.50,344.30 278.00,341.30 279.50,333.90 280.50,323.60 281.40,314.80 282.40,310.30 283.50,308.10 284.70,305.90 285.80,308.10 286.90,310.30 288.30,314.80 289.80,320.70 291.30,326.60 292.80,335.40 294.20,341.30 295.70,344.30 297.90,347.20 300.00,348.00 300.90,349.20 303.40,350.00 305.80,349.20 308.30,348.40 310.00,348.10 310.00,353.60" fill="#EBA0CB" />
<polygon points="265.20,353.60 265.20,340.50 267.00,343.50 268.40,346.30 269.90,347.80 272.10,348.60 274.30,347.20 276.50,345.00 278.80,342.80 279.90,333.90 281.00,325.10 282.00,320.70 283.20,318.40 284.70,317.70 286.10,319.20 287.60,321.40 289.10,325.10 290.60,329.50 292.00,335.40 293.50,341.30 295.00,345.00 297.20,347.20 300.00,348.60 300.90,349.80 303.40,350.60 305.80,349.80 308.30,349.00 310.00,348.70 310.00,353.60" fill="#CB87B8" />
<polygon points="318.90,354.10 318.90,352.40 320.20,351.30 321.90,352.90 323.80,351.60 326.30,350.00 328.70,350.80 330.40,348.30 332.00,346.70 333.60,343.40 334.90,345.10 336.10,338.50 336.90,328.70 337.70,315.60 338.50,309.90 339.40,317.30 339.80,332.00 340.70,343.40 342.10,348.30 344.30,350.00 346.70,349.20 349.20,350.00 351.30,347.50 353.30,349.20 355.70,350.00 357.40,345.90 358.50,346.70 359.80,351.60 362.30,352.40 363.90,352.90 363.90,354.10" fill="#D6489A" />
<polygon points="318.90,354.10 318.90,352.52 320.20,351.50 321.90,352.98 323.80,351.78 326.30,350.29 328.70,351.03 330.40,348.71 332.00,347.22 333.60,344.15 334.90,345.73 336.10,339.59 336.90,330.48 337.70,318.30 338.50,312.99 339.40,319.88 339.80,333.55 340.70,344.15 342.10,348.71 344.30,350.29 346.70,349.54 349.20,350.29 351.30,347.96 353.30,349.54 355.70,350.29 357.40,346.47 358.50,347.22 359.80,351.78 362.30,352.52 363.90,352.98 363.90,354.10" fill="#D57FB6" />
<rect x="86.70" y="232.40" width="14.80" height="49.10" fill="none" stroke="#9a9a9a" stroke-width="0.8" />
<rect x="85.20" y="306.10" width="15.40" height="46.40" fill="none" stroke="#9a9a9a" stroke-width="0.8" />
<rect x="277.70" y="226.60" width="16.90" height="55.00" fill="none" stroke="#9a9a9a" stroke-width="0.8" />
<rect x="278.60" y="302.00" width="15.00" height="51.30" fill="none" stroke="#9a9a9a" stroke-width="0.8" />
<text x="93.40" y="230.20" font-size="10.5" text-anchor="middle" font-weight="normal" fill="#666" >+96kb</text>
<text x="284.60" y="225.90" font-size="10.5" text-anchor="middle" font-weight="normal" fill="#666" >-6kb</text>
<text x="63.30" y="259.60" font-size="15" text-anchor="start" font-weight="bold" fill="#000" >OE</text>
<text x="62.90" y="332.00" font-size="15" text-anchor="start" font-weight="bold" fill="#000" >KD</text>
<text x="254.90" y="256.50" font-size="15" text-anchor="start" font-weight="bold" fill="#000" >OE</text>
<text x="255.50" y="330.50" font-size="15" text-anchor="start" font-weight="bold" fill="#000" >KD</text>
<text x="105.60" y="238.30" font-size="9.3" text-anchor="start" font-weight="normal" fill="#111" >100bp</text>
<line x1="112.90" y1="241.90" x2="117.50" y2="241.90" stroke="#000" stroke-width="1.6" />
<text x="155.00" y="237.80" font-size="9.3" text-anchor="start" font-weight="normal" fill="#111" >1kb</text>
<line x1="155.30" y1="240.90" x2="170.10" y2="240.90" stroke="#000" stroke-width="1.6" />
<text x="296.40" y="236.90" font-size="9.3" text-anchor="start" font-weight="normal" fill="#111" >100bp</text>
<line x1="304.00" y1="241.00" x2="310.80" y2="241.00" stroke="#000" stroke-width="1.6" />
<text x="348.10" y="236.90" font-size="9.3" text-anchor="start" font-weight="normal" fill="#111" >1kb</text>
<line x1="350.00" y1="241.00" x2="363.70" y2="241.00" stroke="#000" stroke-width="1.6" />
<path d="M136.3,363.4 V356.8 H127.5" fill="none" stroke="#111" stroke-width="1.1"/>
<polygon points="126.00,356.80 128.60,355.00 128.60,358.60" fill="#111" />
<line x1="126.00" y1="369.80" x2="140.50" y2="369.80" stroke="#3A66B3" stroke-width="1.1" />
<rect x="129.30" y="364.90" width="7.70" height="10.20" fill="#3A66B3" stroke="none" stroke-width="1" />
<rect x="137.00" y="367.00" width="3.50" height="5.80" fill="#3A66B3" stroke="none" stroke-width="1" />
<text x="145.20" y="373.70" font-size="11.8" text-anchor="start" font-weight="bold" fill="#000" >Kcnv1</text>
<path d="M354.3,363.7 V356.8 H362.5" fill="none" stroke="#111" stroke-width="1.1"/>
<polygon points="364.20,356.80 361.60,355.00 361.60,358.60" fill="#111" />
<line x1="341.50" y1="370.20" x2="364.00" y2="370.20" stroke="#3A66B3" stroke-width="1.1" />
<rect x="338.50" y="367.80" width="3.00" height="5.20" fill="#3A66B3" stroke="none" stroke-width="1" />
<rect x="346.10" y="368.40" width="8.80" height="4.00" fill="#3A66B3" stroke="none" stroke-width="1" />
<polygon points="354.90,368.00 357.30,370.20 354.90,372.80" fill="#3A66B3" />
<line x1="354.30" y1="365.40" x2="354.30" y2="376.00" stroke="#3A66B3" stroke-width="0.9" />
<text x="304.30" y="374.30" font-size="12.0" text-anchor="start" font-weight="bold" fill="#000" >Chd4</text>
<rect x="544.30" y="207.90" width="66.10" height="57.30" fill="#fff" stroke="none" stroke-width="1" />
<line x1="554.76" y1="207.90" x2="554.76" y2="265.20" stroke="#F4F4F4" stroke-width="0.5" />
<line x1="569.89" y1="207.90" x2="569.89" y2="265.20" stroke="#F4F4F4" stroke-width="0.5" />
<line x1="585.01" y1="207.90" x2="585.01" y2="265.20" stroke="#F4F4F4" stroke-width="0.5" />
<line x1="600.14" y1="207.90" x2="600.14" y2="265.20" stroke="#F4F4F4" stroke-width="0.5" />
<line x1="547.20" y1="207.90" x2="547.20" y2="265.20" stroke="#EBEBEB" stroke-width="0.8" />
<line x1="562.33" y1="207.90" x2="562.33" y2="265.20" stroke="#EBEBEB" stroke-width="0.8" />
<line x1="577.45" y1="207.90" x2="577.45" y2="265.20" stroke="#EBEBEB" stroke-width="0.8" />
<line x1="592.58" y1="207.90" x2="592.58" y2="265.20" stroke="#EBEBEB" stroke-width="0.8" />
<line x1="607.70" y1="207.90" x2="607.70" y2="265.20" stroke="#EBEBEB" stroke-width="0.8" />
<line x1="544.30" y1="223.70" x2="610.40" y2="223.70" stroke="#EBEBEB" stroke-width="0.8" />
<line x1="542.30" y1="223.70" x2="544.30" y2="223.70" stroke="#555" stroke-width="0.8" />
<line x1="544.30" y1="250.50" x2="610.40" y2="250.50" stroke="#EBEBEB" stroke-width="0.8" />
<line x1="542.30" y1="250.50" x2="544.30" y2="250.50" stroke="#555" stroke-width="0.8" />
<circle cx="587.31" cy="223.70" r="3.00" fill="#FF1F2E" />
<text x="539.00" y="226.83" font-size="10.65" text-anchor="end" font-weight="normal" fill="#1a1a1a" >Synapse organization</text>
<circle cx="594.93" cy="250.50" r="1.90" fill="#FF1F2E" />
<text x="539.00" y="253.63" font-size="10.65" text-anchor="end" font-weight="normal" fill="#1a1a1a" >Dendrite development</text>
<rect x="544.30" y="207.90" width="66.10" height="57.30" fill="none" stroke="#888888" stroke-width="0.9" />
<rect x="610.40" y="207.90" width="13.10" height="57.30" fill="#D9D9D9" stroke="#888888" stroke-width="0.9" />
<text transform="translate(613.04,236.55) rotate(90)" font-size="10.85" text-anchor="middle" fill="#1a1a1a">GO:BP</text>
<rect x="544.30" y="270.20" width="66.10" height="57.40" fill="#fff" stroke="none" stroke-width="1" />
<line x1="554.76" y1="270.20" x2="554.76" y2="327.60" stroke="#F4F4F4" stroke-width="0.5" />
<line x1="569.89" y1="270.20" x2="569.89" y2="327.60" stroke="#F4F4F4" stroke-width="0.5" />
<line x1="585.01" y1="270.20" x2="585.01" y2="327.60" stroke="#F4F4F4" stroke-width="0.5" />
<line x1="600.14" y1="270.20" x2="600.14" y2="327.60" stroke="#F4F4F4" stroke-width="0.5" />
<line x1="547.20" y1="270.20" x2="547.20" y2="327.60" stroke="#EBEBEB" stroke-width="0.8" />
<line x1="562.33" y1="270.20" x2="562.33" y2="327.60" stroke="#EBEBEB" stroke-width="0.8" />
<line x1="577.45" y1="270.20" x2="577.45" y2="327.60" stroke="#EBEBEB" stroke-width="0.8" />
<line x1="592.58" y1="270.20" x2="592.58" y2="327.60" stroke="#EBEBEB" stroke-width="0.8" />
<line x1="607.70" y1="270.20" x2="607.70" y2="327.60" stroke="#EBEBEB" stroke-width="0.8" />
<line x1="544.30" y1="285.70" x2="610.40" y2="285.70" stroke="#EBEBEB" stroke-width="0.8" />
<line x1="542.30" y1="285.70" x2="544.30" y2="285.70" stroke="#555" stroke-width="0.8" />
<line x1="544.30" y1="311.60" x2="610.40" y2="311.60" stroke="#EBEBEB" stroke-width="0.8" />
<line x1="542.30" y1="311.60" x2="544.30" y2="311.60" stroke="#555" stroke-width="0.8" />
<circle cx="576.78" cy="285.70" r="2.90" fill="#FF1F2E" />
<text x="539.00" y="288.83" font-size="10.65" text-anchor="end" font-weight="normal" fill="#1a1a1a" >Dendritic tree</text>
<circle cx="578.66" cy="311.60" r="5.00" fill="#FF1F2E" />
<text x="539.00" y="314.73" font-size="10.65" text-anchor="end" font-weight="normal" fill="#1a1a1a" >Synapse</text>
<rect x="544.30" y="270.20" width="66.10" height="57.40" fill="none" stroke="#888888" stroke-width="0.9" />
<rect x="610.40" y="270.20" width="13.10" height="57.40" fill="#D9D9D9" stroke="#888888" stroke-width="0.9" />
<text transform="translate(613.04,298.90) rotate(90)" font-size="10.85" text-anchor="middle" fill="#1a1a1a">GO:CC</text>
<rect x="544.30" y="332.60" width="66.10" height="30.30" fill="#fff" stroke="none" stroke-width="1" />
<line x1="554.76" y1="332.60" x2="554.76" y2="362.90" stroke="#F4F4F4" stroke-width="0.5" />
<line x1="569.89" y1="332.60" x2="569.89" y2="362.90" stroke="#F4F4F4" stroke-width="0.5" />
<line x1="585.01" y1="332.60" x2="585.01" y2="362.90" stroke="#F4F4F4" stroke-width="0.5" />
<line x1="600.14" y1="332.60" x2="600.14" y2="362.90" stroke="#F4F4F4" stroke-width="0.5" />
<line x1="547.20" y1="332.60" x2="547.20" y2="362.90" stroke="#EBEBEB" stroke-width="0.8" />
<line x1="562.33" y1="332.60" x2="562.33" y2="362.90" stroke="#EBEBEB" stroke-width="0.8" />
<line x1="577.45" y1="332.60" x2="577.45" y2="362.90" stroke="#EBEBEB" stroke-width="0.8" />
<line x1="592.58" y1="332.60" x2="592.58" y2="362.90" stroke="#EBEBEB" stroke-width="0.8" />
<line x1="607.70" y1="332.60" x2="607.70" y2="362.90" stroke="#EBEBEB" stroke-width="0.8" />
<line x1="544.30" y1="347.90" x2="610.40" y2="347.90" stroke="#EBEBEB" stroke-width="0.8" />
<line x1="542.30" y1="347.90" x2="544.30" y2="347.90" stroke="#555" stroke-width="0.8" />
<circle cx="587.67" cy="347.90" r="1.40" fill="#FF1F2E" />
<text x="539.00" y="345.71" font-size="10.65" text-anchor="end" font-weight="normal" fill="#1a1a1a" >Estrogen response</text>
<text x="539.00" y="356.36" font-size="10.65" text-anchor="end" font-weight="normal" fill="#1a1a1a" >early</text>
<rect x="544.30" y="332.60" width="66.10" height="30.30" fill="none" stroke="#888888" stroke-width="0.9" />
<rect x="610.40" y="332.60" width="13.10" height="30.30" fill="#D9D9D9" stroke="#888888" stroke-width="0.9" />
<text transform="translate(613.04,347.75) rotate(90)" font-size="10.85" text-anchor="middle" fill="#1a1a1a">HM</text>
<line x1="547.20" y1="362.90" x2="547.20" y2="364.90" stroke="#555" stroke-width="0.8" />
<text x="547.20" y="373.70" font-size="9.0" text-anchor="middle" font-weight="normal" fill="#333" >0</text>
<line x1="562.33" y1="362.90" x2="562.33" y2="364.90" stroke="#555" stroke-width="0.8" />
<text x="562.33" y="373.70" font-size="9.0" text-anchor="middle" font-weight="normal" fill="#333" >.025</text>
<line x1="577.45" y1="362.90" x2="577.45" y2="364.90" stroke="#555" stroke-width="0.8" />
<text x="577.45" y="373.70" font-size="9.0" text-anchor="middle" font-weight="normal" fill="#333" >.05</text>
<line x1="592.58" y1="362.90" x2="592.58" y2="364.90" stroke="#555" stroke-width="0.8" />
<text x="592.58" y="373.70" font-size="9.0" text-anchor="middle" font-weight="normal" fill="#333" >.075</text>
<line x1="607.70" y1="362.90" x2="607.70" y2="364.90" stroke="#555" stroke-width="0.8" />
<text x="607.70" y="373.70" font-size="9.0" text-anchor="middle" font-weight="normal" fill="#333" >.1</text>
<text x="634.00" y="218.50" font-size="10.5" text-anchor="start" font-weight="normal" fill="#1a1a1a" >p-adj</text>
<rect x="636.10" y="224.30" width="14.00" height="66.40" fill="url(#pg)" stroke="none" stroke-width="1" />
<line x1="636.10" y1="225.60" x2="638.10" y2="225.60" stroke="#fff" stroke-width="0.6" />
<line x1="648.10" y1="225.60" x2="650.10" y2="225.60" stroke="#fff" stroke-width="0.6" />
<text x="651.20" y="228.84" font-size="9.0" text-anchor="start" font-weight="normal" fill="#1a1a1a" >0.05</text>
<line x1="636.10" y1="238.80" x2="638.10" y2="238.80" stroke="#fff" stroke-width="0.6" />
<line x1="648.10" y1="238.80" x2="650.10" y2="238.80" stroke="#fff" stroke-width="0.6" />
<text x="651.20" y="242.04" font-size="9.0" text-anchor="start" font-weight="normal" fill="#1a1a1a" >0.04</text>
<line x1="636.10" y1="251.80" x2="638.10" y2="251.80" stroke="#fff" stroke-width="0.6" />
<line x1="648.10" y1="251.80" x2="650.10" y2="251.80" stroke="#fff" stroke-width="0.6" />
<text x="651.20" y="255.04" font-size="9.0" text-anchor="start" font-weight="normal" fill="#1a1a1a" >0.03</text>
<line x1="636.10" y1="264.90" x2="638.10" y2="264.90" stroke="#fff" stroke-width="0.6" />
<line x1="648.10" y1="264.90" x2="650.10" y2="264.90" stroke="#fff" stroke-width="0.6" />
<text x="651.20" y="268.14" font-size="9.0" text-anchor="start" font-weight="normal" fill="#1a1a1a" >0.02</text>
<line x1="636.10" y1="278.30" x2="638.10" y2="278.30" stroke="#fff" stroke-width="0.6" />
<line x1="648.10" y1="278.30" x2="650.10" y2="278.30" stroke="#fff" stroke-width="0.6" />
<text x="651.20" y="281.54" font-size="9.0" text-anchor="start" font-weight="normal" fill="#1a1a1a" >0.01</text>
<text x="633.50" y="314.00" font-size="10.5" text-anchor="start" font-weight="normal" fill="#1a1a1a" >Counts</text>
<circle cx="643.10" cy="326.80" r="2.00" fill="#000" />
<text x="651.40" y="330.00" font-size="9.0" text-anchor="start" font-weight="normal" fill="#1a1a1a" >20</text>
<circle cx="643.10" cy="339.70" r="3.40" fill="#000" />
<text x="651.40" y="342.90" font-size="9.0" text-anchor="start" font-weight="normal" fill="#1a1a1a" >40</text>
<circle cx="643.10" cy="353.20" r="4.80" fill="#000" />
<text x="651.40" y="356.40" font-size="9.0" text-anchor="start" font-weight="normal" fill="#1a1a1a" >60</text>
</svg></body></html>
